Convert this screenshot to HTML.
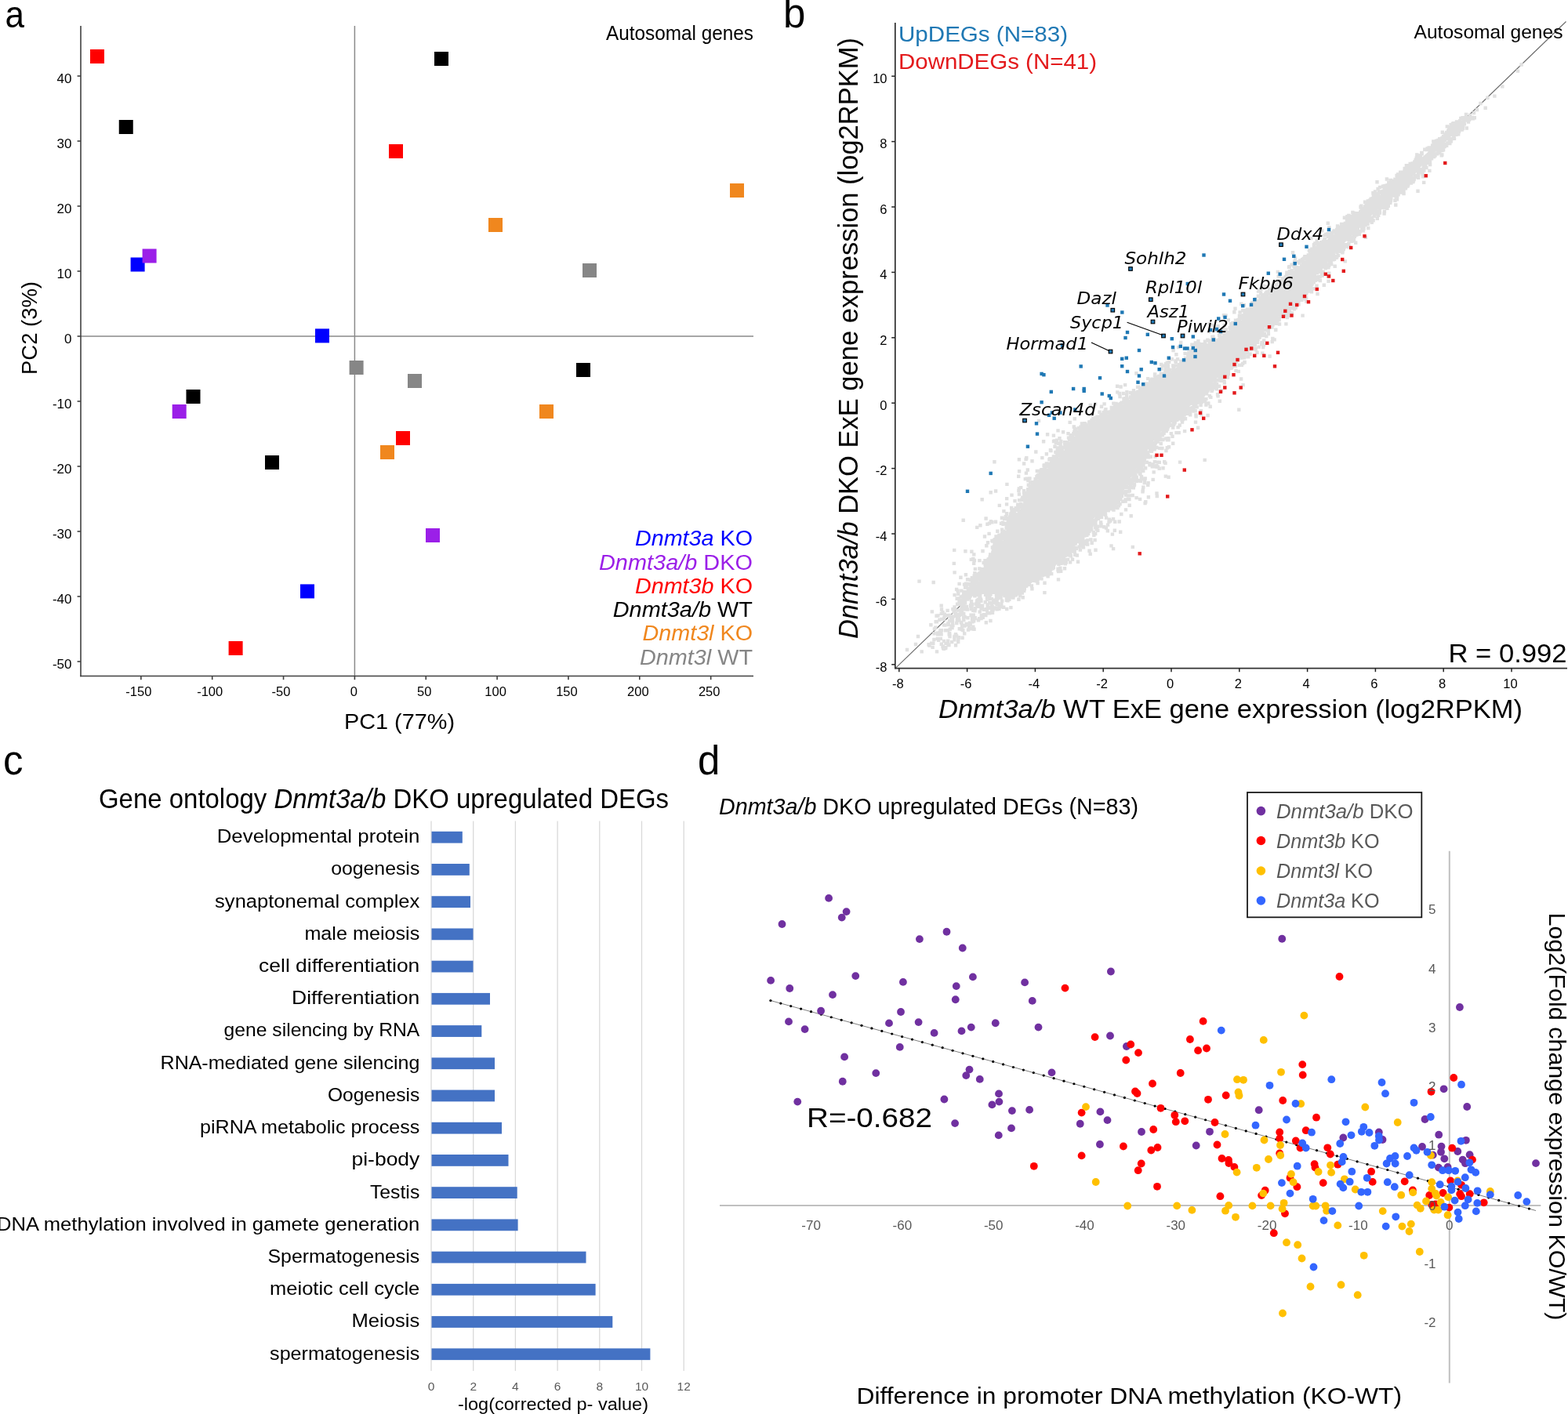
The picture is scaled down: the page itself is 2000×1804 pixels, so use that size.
<!DOCTYPE html>
<html><head><meta charset="utf-8"><title>Figure</title>
<style>html,body{margin:0;padding:0;background:#fff;} svg{display:block;}</style>
</head><body>
<svg width="2000" height="1804" viewBox="0 0 2000 1804" font-family="'Liberation Sans', Arial, Helvetica, sans-serif">
<rect width="2000" height="1804" fill="#fff"/>
<text x="6.5" y="35.3" font-size="48.5" textLength="24.5" lengthAdjust="spacingAndGlyphs">a</text>
<line x1="103" y1="429" x2="961" y2="429" stroke="#8a8a8a" stroke-width="1.5"/>
<line x1="452.4" y1="33" x2="452.4" y2="862.5" stroke="#8a8a8a" stroke-width="1.5"/>
<line x1="103" y1="33" x2="103" y2="863.3" stroke="#404040" stroke-width="1.6"/>
<line x1="102.2" y1="862.5" x2="961" y2="862.5" stroke="#404040" stroke-width="1.6"/>
<line x1="98.6" y1="844" x2="103" y2="844" stroke="#404040" stroke-width="1.6"/>
<text x="91.5" y="852.8" font-size="17" text-anchor="end">-50</text>
<line x1="98.6" y1="761" x2="103" y2="761" stroke="#404040" stroke-width="1.6"/>
<text x="91.5" y="769.8" font-size="17" text-anchor="end">-40</text>
<line x1="98.6" y1="678" x2="103" y2="678" stroke="#404040" stroke-width="1.6"/>
<text x="91.5" y="686.8" font-size="17" text-anchor="end">-30</text>
<line x1="98.6" y1="595" x2="103" y2="595" stroke="#404040" stroke-width="1.6"/>
<text x="91.5" y="603.8" font-size="17" text-anchor="end">-20</text>
<line x1="98.6" y1="512" x2="103" y2="512" stroke="#404040" stroke-width="1.6"/>
<text x="91.5" y="520.8" font-size="17" text-anchor="end">-10</text>
<line x1="98.6" y1="429" x2="103" y2="429" stroke="#404040" stroke-width="1.6"/>
<text x="91.5" y="437.8" font-size="17" text-anchor="end">0</text>
<line x1="98.6" y1="346" x2="103" y2="346" stroke="#404040" stroke-width="1.6"/>
<text x="91.5" y="354.8" font-size="17" text-anchor="end">10</text>
<line x1="98.6" y1="263" x2="103" y2="263" stroke="#404040" stroke-width="1.6"/>
<text x="91.5" y="271.8" font-size="17" text-anchor="end">20</text>
<line x1="98.6" y1="180" x2="103" y2="180" stroke="#404040" stroke-width="1.6"/>
<text x="91.5" y="188.8" font-size="17" text-anchor="end">30</text>
<line x1="98.6" y1="97" x2="103" y2="97" stroke="#404040" stroke-width="1.6"/>
<text x="91.5" y="105.8" font-size="17" text-anchor="end">40</text>
<line x1="179.85" y1="862.5" x2="179.85" y2="867.2" stroke="#404040" stroke-width="1.6"/>
<text x="176.85" y="887.8" font-size="16.5" text-anchor="middle">-150</text>
<line x1="270.7" y1="862.5" x2="270.7" y2="867.2" stroke="#404040" stroke-width="1.6"/>
<text x="267.7" y="887.8" font-size="16.5" text-anchor="middle">-100</text>
<line x1="361.55" y1="862.5" x2="361.55" y2="867.2" stroke="#404040" stroke-width="1.6"/>
<text x="358.55" y="887.8" font-size="16.5" text-anchor="middle">-50</text>
<line x1="452.4" y1="862.5" x2="452.4" y2="867.2" stroke="#404040" stroke-width="1.6"/>
<text x="451.4" y="887.8" font-size="16.5" text-anchor="middle">0</text>
<line x1="543.25" y1="862.5" x2="543.25" y2="867.2" stroke="#404040" stroke-width="1.6"/>
<text x="541.25" y="887.8" font-size="16.5" text-anchor="middle">50</text>
<line x1="634.1" y1="862.5" x2="634.1" y2="867.2" stroke="#404040" stroke-width="1.6"/>
<text x="632.1" y="887.8" font-size="16.5" text-anchor="middle">100</text>
<line x1="724.95" y1="862.5" x2="724.95" y2="867.2" stroke="#404040" stroke-width="1.6"/>
<text x="722.95" y="887.8" font-size="16.5" text-anchor="middle">150</text>
<line x1="815.8" y1="862.5" x2="815.8" y2="867.2" stroke="#404040" stroke-width="1.6"/>
<text x="813.8" y="887.8" font-size="16.5" text-anchor="middle">200</text>
<line x1="906.65" y1="862.5" x2="906.65" y2="867.2" stroke="#404040" stroke-width="1.6"/>
<text x="904.65" y="887.8" font-size="16.5" text-anchor="middle">250</text>
<text x="961" y="51" font-size="25" text-anchor="end" textLength="188" lengthAdjust="spacingAndGlyphs">Autosomal genes</text>
<rect x="115" y="63" width="18" height="18" fill="#ff0000"/>
<rect x="151.75" y="153" width="18" height="18" fill="#000"/>
<rect x="166.6" y="328.5" width="18" height="18" fill="#0000ff"/>
<rect x="181.6" y="317.5" width="18" height="18" fill="#9b1fe8"/>
<rect x="402" y="419.4" width="18" height="18" fill="#0000ff"/>
<rect x="554" y="66" width="18" height="18" fill="#000"/>
<rect x="496" y="184" width="18" height="18" fill="#ff0000"/>
<rect x="623" y="278" width="18" height="18" fill="#f0871e"/>
<rect x="743" y="336" width="18" height="18" fill="#868686"/>
<rect x="931" y="234" width="18" height="18" fill="#f0871e"/>
<rect x="445.6" y="460" width="18" height="18" fill="#868686"/>
<rect x="237.5" y="497" width="18" height="18" fill="#000"/>
<rect x="219.7" y="516" width="18" height="18" fill="#9b1fe8"/>
<rect x="338" y="581" width="18" height="18" fill="#000"/>
<rect x="383" y="745.4" width="18" height="18" fill="#0000ff"/>
<rect x="291.6" y="818" width="18" height="18" fill="#ff0000"/>
<rect x="520" y="477" width="18" height="18" fill="#868686"/>
<rect x="735" y="463" width="18" height="18" fill="#000"/>
<rect x="688" y="516" width="18" height="18" fill="#f0871e"/>
<rect x="505" y="550" width="18" height="18" fill="#ff0000"/>
<rect x="485" y="568" width="18" height="18" fill="#f0871e"/>
<rect x="543" y="674" width="18" height="18" fill="#9b1fe8"/>
<text x="960" y="696" font-size="27" text-anchor="end" fill="#0000ff" textLength="150" lengthAdjust="spacingAndGlyphs"><tspan font-style="italic">Dnmt3a</tspan> KO</text>
<text x="960" y="727" font-size="27" text-anchor="end" fill="#9b1fe8" textLength="196" lengthAdjust="spacingAndGlyphs"><tspan font-style="italic">Dnmt3a/b</tspan> DKO</text>
<text x="960" y="757" font-size="27" text-anchor="end" fill="#ff0000" textLength="150" lengthAdjust="spacingAndGlyphs"><tspan font-style="italic">Dnmt3b</tspan> KO</text>
<text x="960" y="787" font-size="27" text-anchor="end" fill="#000" textLength="178.3" lengthAdjust="spacingAndGlyphs"><tspan font-style="italic">Dnmt3a/b</tspan> WT</text>
<text x="960" y="817" font-size="27" text-anchor="end" fill="#f0871e" textLength="140.5" lengthAdjust="spacingAndGlyphs"><tspan font-style="italic">Dnmt3l</tspan> KO</text>
<text x="960" y="847.6" font-size="27" text-anchor="end" fill="#868686" textLength="144.1" lengthAdjust="spacingAndGlyphs"><tspan font-style="italic">Dnmt3l</tspan> WT</text>
<text x="439" y="930" font-size="28" textLength="141" lengthAdjust="spacingAndGlyphs">PC1 (77%)</text>
<text transform="translate(46.5,478) rotate(-90)" font-size="28" textLength="119" lengthAdjust="spacingAndGlyphs">PC2 (3%)</text>
<text x="999" y="35" font-size="51">b</text>
<line x1="1142.3" y1="852.4" x2="1997.5" y2="27.5" stroke="#666" stroke-width="1.1"/>
<g fill="#e0e0e0">
<polygon points="1870.0,150.0 1865.8,154.0 1861.6,158.0 1857.3,162.0 1853.1,166.0 1848.7,170.0 1844.2,174.0 1839.6,178.0 1835.1,182.0 1830.5,186.0 1825.9,190.0 1821.4,194.0 1816.8,198.0 1812.3,202.0 1807.8,206.0 1803.3,210.0 1798.9,214.0 1794.4,218.0 1790.0,222.0 1785.6,226.0 1781.1,230.0 1776.7,234.0 1772.2,238.0 1767.7,242.0 1763.2,246.0 1758.6,250.0 1754.1,254.0 1749.5,258.0 1744.9,262.0 1740.4,266.0 1735.8,270.0 1731.3,274.0 1726.6,278.0 1721.7,282.0 1716.8,286.0 1711.9,290.0 1707.0,294.0 1702.1,298.0 1697.2,302.0 1692.3,306.0 1687.4,310.0 1683.0,314.0 1679.0,318.0 1675.0,322.0 1671.0,326.0 1667.0,330.0 1663.0,334.0 1659.0,338.0 1655.0,342.0 1651.0,346.0 1646.9,350.0 1642.8,354.0 1638.7,358.0 1634.6,362.0 1630.4,366.0 1626.3,370.0 1622.2,374.0 1618.1,378.0 1613.6,382.0 1608.8,386.0 1604.0,390.0 1599.2,394.0 1594.4,398.0 1590.0,402.0 1586.0,406.0 1582.0,410.0 1578.0,414.0 1574.0,418.0 1568.7,422.0 1562.1,426.0 1555.5,430.0 1548.9,434.0 1542.3,438.0 1536.3,442.0 1531.0,446.0 1525.7,450.0 1520.3,454.0 1515.0,458.0 1509.7,462.0 1504.3,466.0 1499.0,470.0 1493.0,474.0 1487.0,478.0 1481.0,482.0 1475.0,486.0 1469.0,490.0 1463.0,494.0 1457.0,498.0 1451.2,502.0 1445.6,506.0 1440.0,510.0 1434.4,514.0 1428.8,518.0 1423.2,522.0 1417.3,526.0 1410.4,530.0 1403.5,534.0 1396.6,538.0 1389.8,542.0 1382.9,546.0 1376.0,550.0 1373.1,554.0 1370.1,558.0 1367.2,562.0 1364.3,566.0 1361.3,570.0 1358.4,574.0 1355.5,578.0 1352.0,582.0 1348.0,586.0 1344.0,590.0 1340.0,594.0 1336.0,598.0 1332.8,602.0 1330.4,606.0 1328.0,610.0 1325.6,614.0 1323.2,618.0 1320.8,622.0 1318.4,626.0 1316.0,630.0 1313.1,634.0 1310.1,638.0 1307.2,642.0 1304.3,646.0 1301.3,650.0 1298.4,654.0 1295.5,658.0 1293.0,662.0 1291.0,666.0 1289.0,670.0 1287.0,674.0 1285.0,678.0 1283.0,682.0 1281.0,686.0 1279.0,690.0 1277.0,694.0 1275.0,698.0 1273.0,702.0 1271.0,706.0 1269.0,710.0 1267.0,714.0 1265.0,718.0 1262.5,722.0 1259.6,726.0 1256.7,730.0 1253.7,734.0 1250.8,738.0 1247.9,742.0 1244.9,746.0 1242.0,750.0 1238.9,754.0 1235.9,758.0 1290.3,758.0 1296.1,754.0 1302.0,750.0 1307.9,746.0 1313.7,742.0 1319.6,738.0 1325.5,734.0 1331.3,730.0 1337.2,726.0 1343.1,722.0 1348.1,718.0 1352.4,714.0 1356.7,710.0 1360.9,706.0 1365.2,702.0 1369.5,698.0 1373.7,694.0 1378.0,690.0 1380.4,686.0 1382.8,682.0 1385.2,678.0 1387.6,674.0 1390.0,670.0 1392.4,666.0 1394.8,662.0 1398.3,658.0 1403.0,654.0 1407.7,650.0 1412.3,646.0 1417.0,642.0 1421.7,638.0 1426.3,634.0 1431.0,630.0 1433.3,626.0 1435.5,622.0 1437.8,618.0 1440.1,614.0 1442.3,610.0 1444.6,606.0 1446.9,602.0 1449.0,598.0 1451.0,594.0 1453.0,590.0 1455.0,586.0 1457.0,582.0 1459.5,578.0 1462.6,574.0 1465.7,570.0 1468.7,566.0 1471.8,562.0 1474.9,558.0 1477.9,554.0 1481.0,550.0 1485.8,546.0 1490.6,542.0 1495.4,538.0 1500.2,534.0 1505.0,530.0 1509.8,526.0 1514.0,522.0 1518.0,518.0 1522.0,514.0 1526.0,510.0 1530.0,506.0 1534.0,502.0 1537.9,498.0 1541.6,494.0 1545.3,490.0 1549.1,486.0 1552.8,482.0 1556.5,478.0 1560.3,474.0 1564.0,470.0 1568.3,466.0 1572.5,462.0 1576.8,458.0 1581.1,454.0 1585.3,450.0 1589.6,446.0 1593.9,442.0 1597.4,438.0 1600.2,434.0 1603.0,430.0 1605.8,426.0 1608.6,422.0 1612.6,418.0 1617.8,414.0 1623.0,410.0 1628.2,406.0 1633.4,402.0 1638.0,398.0 1642.0,394.0 1646.0,390.0 1650.0,386.0 1654.0,382.0 1657.6,378.0 1660.7,374.0 1663.8,370.0 1666.9,366.0 1670.1,362.0 1673.2,358.0 1676.3,354.0 1679.4,350.0 1682.8,346.0 1686.3,342.0 1689.9,338.0 1693.4,334.0 1697.0,330.0 1700.6,326.0 1704.1,322.0 1707.7,318.0 1711.2,314.0 1714.9,310.0 1718.8,306.0 1722.7,302.0 1726.6,298.0 1730.5,294.0 1734.4,290.0 1738.3,286.0 1742.2,282.0 1746.1,278.0 1750.3,274.0 1754.8,270.0 1759.4,266.0 1763.9,262.0 1768.5,258.0 1773.1,254.0 1777.6,250.0 1782.2,246.0 1786.7,242.0 1790.7,238.0 1794.2,234.0 1797.6,230.0 1801.1,226.0 1804.5,222.0 1807.9,218.0 1811.4,214.0 1814.8,210.0 1818.3,206.0 1822.1,202.0 1826.2,198.0 1830.3,194.0 1834.4,190.0 1838.5,186.0 1842.6,182.0 1846.7,178.0 1850.8,174.0 1854.9,170.0 1858.7,166.0 1862.0,162.0 1865.3,158.0 1868.7,154.0 1872.0,150.0"/>
<path d="M1863.1 148.9h4.4v4.4h-4.4zM1860.2 151.9h4.4v4.4h-4.4zM1856.8 154.1h4.4v4.4h-4.4zM1855.8 154.2h4.4v4.4h-4.4zM1856.1 154.3h4.4v4.4h-4.4zM1857.4 154.5h4.4v4.4h-4.4zM1850.6 156.1h4.4v4.4h-4.4zM1854.9 156.5h4.4v4.4h-4.4zM1843.6 159.2h4.4v4.4h-4.4zM1848.7 161.5h4.4v4.4h-4.4zM1838.9 171.7h4.4v4.4h-4.4zM1832.1 176.8h4.4v4.4h-4.4zM1832.4 177.2h4.4v4.4h-4.4zM1826.1 178.2h4.4v4.4h-4.4zM1828.3 178.7h4.4v4.4h-4.4zM1826.6 181.3h4.4v4.4h-4.4zM1825.7 183.3h4.4v4.4h-4.4zM1824.9 183.4h4.4v4.4h-4.4zM1820.5 186.3h4.4v4.4h-4.4zM1818.4 187.3h4.4v4.4h-4.4zM1818.4 188.8h4.4v4.4h-4.4zM1811.1 192.7h4.4v4.4h-4.4zM1811.5 193.3h4.4v4.4h-4.4zM1805.1 195.2h4.4v4.4h-4.4zM1807.6 198.3h4.4v4.4h-4.4zM1797.8 207.7h4.4v4.4h-4.4zM1791.7 209.0h4.4v4.4h-4.4zM1794.0 209.4h4.4v4.4h-4.4zM1792.3 209.5h4.4v4.4h-4.4zM1789.5 212.8h4.4v4.4h-4.4zM1785.9 217.6h4.4v4.4h-4.4zM1780.9 220.3h4.4v4.4h-4.4zM1779.9 222.2h4.4v4.4h-4.4zM1766.7 226.3h4.4v4.4h-4.4zM1771.9 227.7h4.4v4.4h-4.4zM1771.3 227.8h4.4v4.4h-4.4zM1754.3 230.1h4.4v4.4h-4.4zM1767.9 233.9h4.4v4.4h-4.4zM1763.7 234.9h4.4v4.4h-4.4zM1765.6 235.0h4.4v4.4h-4.4zM1767.0 235.3h4.4v4.4h-4.4zM1761.7 235.5h4.4v4.4h-4.4zM1765.9 235.8h4.4v4.4h-4.4zM1757.9 236.8h4.4v4.4h-4.4zM1763.3 237.0h4.4v4.4h-4.4zM1755.4 238.7h4.4v4.4h-4.4zM1751.8 242.3h4.4v4.4h-4.4zM1756.7 243.0h4.4v4.4h-4.4zM1749.2 244.0h4.4v4.4h-4.4zM1749.6 250.6h4.4v4.4h-4.4zM1748.7 251.0h4.4v4.4h-4.4zM1746.5 251.5h4.4v4.4h-4.4zM1745.9 253.3h4.4v4.4h-4.4zM1744.9 253.4h4.4v4.4h-4.4zM1742.6 254.3h4.4v4.4h-4.4zM1734.1 260.5h4.4v4.4h-4.4zM1733.3 262.0h4.4v4.4h-4.4zM1734.5 264.2h4.4v4.4h-4.4zM1723.2 268.8h4.4v4.4h-4.4zM1718.1 272.8h4.4v4.4h-4.4zM1721.7 273.8h4.4v4.4h-4.4zM1719.3 274.0h4.4v4.4h-4.4zM1723.1 274.1h4.4v4.4h-4.4zM1722.1 274.6h4.4v4.4h-4.4zM1721.7 275.4h4.4v4.4h-4.4zM1721.2 275.4h4.4v4.4h-4.4zM1719.7 275.6h4.4v4.4h-4.4zM1712.7 275.6h4.4v4.4h-4.4zM1718.6 277.4h4.4v4.4h-4.4zM1716.8 278.0h4.4v4.4h-4.4zM1717.0 278.9h4.4v4.4h-4.4zM1691.6 282.5h4.4v4.4h-4.4zM1708.9 283.7h4.4v4.4h-4.4zM1711.1 283.8h4.4v4.4h-4.4zM1709.2 284.6h4.4v4.4h-4.4zM1705.8 287.9h4.4v4.4h-4.4zM1693.2 288.0h4.4v4.4h-4.4zM1704.1 289.4h4.4v4.4h-4.4zM1702.9 290.8h4.4v4.4h-4.4zM1684.2 292.2h4.4v4.4h-4.4zM1691.5 295.9h4.4v4.4h-4.4zM1694.1 296.4h4.4v4.4h-4.4zM1689.1 296.8h4.4v4.4h-4.4zM1687.2 298.2h4.4v4.4h-4.4zM1692.0 298.9h4.4v4.4h-4.4zM1670.1 301.9h4.4v4.4h-4.4zM1677.5 305.3h4.4v4.4h-4.4zM1675.2 308.3h4.4v4.4h-4.4zM1677.6 308.7h4.4v4.4h-4.4zM1680.0 309.5h4.4v4.4h-4.4zM1678.5 309.5h4.4v4.4h-4.4zM1673.8 310.0h4.4v4.4h-4.4zM1671.2 315.4h4.4v4.4h-4.4zM1646.8 320.0h4.4v4.4h-4.4zM1662.2 325.0h4.4v4.4h-4.4zM1662.8 325.4h4.4v4.4h-4.4zM1662.6 325.7h4.4v4.4h-4.4zM1649.9 327.3h4.4v4.4h-4.4zM1655.9 330.2h4.4v4.4h-4.4zM1648.9 331.8h4.4v4.4h-4.4zM1651.7 331.9h4.4v4.4h-4.4zM1645.4 335.6h4.4v4.4h-4.4zM1648.2 337.7h4.4v4.4h-4.4zM1642.7 338.0h4.4v4.4h-4.4zM1641.8 338.6h4.4v4.4h-4.4zM1642.7 343.9h4.4v4.4h-4.4zM1627.6 344.7h4.4v4.4h-4.4zM1641.9 346.5h4.4v4.4h-4.4zM1641.9 346.7h4.4v4.4h-4.4zM1629.4 350.1h4.4v4.4h-4.4zM1628.5 350.3h4.4v4.4h-4.4zM1626.7 355.9h4.4v4.4h-4.4zM1627.8 356.5h4.4v4.4h-4.4zM1632.5 356.7h4.4v4.4h-4.4zM1620.9 361.5h4.4v4.4h-4.4zM1609.1 362.5h4.4v4.4h-4.4zM1612.5 363.3h4.4v4.4h-4.4zM1621.8 365.6h4.4v4.4h-4.4zM1620.7 366.0h4.4v4.4h-4.4zM1616.8 366.4h4.4v4.4h-4.4zM1618.6 366.8h4.4v4.4h-4.4zM1606.1 367.0h4.4v4.4h-4.4zM1617.3 367.5h4.4v4.4h-4.4zM1604.6 368.7h4.4v4.4h-4.4zM1602.8 369.4h4.4v4.4h-4.4zM1613.4 370.3h4.4v4.4h-4.4zM1617.4 371.3h4.4v4.4h-4.4zM1615.4 372.0h4.4v4.4h-4.4zM1605.9 372.1h4.4v4.4h-4.4zM1612.2 372.3h4.4v4.4h-4.4zM1609.2 374.0h4.4v4.4h-4.4zM1609.3 374.5h4.4v4.4h-4.4zM1602.7 375.5h4.4v4.4h-4.4zM1607.4 375.7h4.4v4.4h-4.4zM1610.4 376.0h4.4v4.4h-4.4zM1605.8 377.9h4.4v4.4h-4.4zM1599.5 378.9h4.4v4.4h-4.4zM1601.6 382.0h4.4v4.4h-4.4zM1599.3 383.2h4.4v4.4h-4.4zM1594.9 384.1h4.4v4.4h-4.4zM1596.9 384.8h4.4v4.4h-4.4zM1581.1 385.6h4.4v4.4h-4.4zM1584.6 387.1h4.4v4.4h-4.4zM1593.3 390.6h4.4v4.4h-4.4zM1573.3 391.6h4.4v4.4h-4.4zM1590.5 393.8h4.4v4.4h-4.4zM1587.1 393.9h4.4v4.4h-4.4zM1589.3 394.0h4.4v4.4h-4.4zM1583.0 394.1h4.4v4.4h-4.4zM1572.1 396.0h4.4v4.4h-4.4zM1579.4 396.2h4.4v4.4h-4.4zM1586.1 397.4h4.4v4.4h-4.4zM1558.7 400.0h4.4v4.4h-4.4zM1561.3 400.2h4.4v4.4h-4.4zM1578.7 400.8h4.4v4.4h-4.4zM1564.6 406.2h4.4v4.4h-4.4zM1573.8 406.4h4.4v4.4h-4.4zM1574.2 407.2h4.4v4.4h-4.4zM1574.2 407.5h4.4v4.4h-4.4zM1575.5 408.9h4.4v4.4h-4.4zM1570.2 409.8h4.4v4.4h-4.4zM1571.6 409.9h4.4v4.4h-4.4zM1568.0 411.0h4.4v4.4h-4.4zM1540.4 411.0h4.4v4.4h-4.4zM1543.5 412.8h4.4v4.4h-4.4zM1569.2 412.9h4.4v4.4h-4.4zM1559.6 412.9h4.4v4.4h-4.4zM1570.2 413.3h4.4v4.4h-4.4zM1551.3 413.9h4.4v4.4h-4.4zM1566.4 415.8h4.4v4.4h-4.4zM1548.4 416.0h4.4v4.4h-4.4zM1557.9 416.9h4.4v4.4h-4.4zM1567.1 417.0h4.4v4.4h-4.4zM1561.5 418.3h4.4v4.4h-4.4zM1543.2 418.4h4.4v4.4h-4.4zM1550.8 419.5h4.4v4.4h-4.4zM1548.0 419.6h4.4v4.4h-4.4zM1547.5 419.7h4.4v4.4h-4.4zM1559.2 420.3h4.4v4.4h-4.4zM1539.7 421.2h4.4v4.4h-4.4zM1559.5 421.5h4.4v4.4h-4.4zM1557.0 422.4h4.4v4.4h-4.4zM1557.6 422.5h4.4v4.4h-4.4zM1557.1 422.5h4.4v4.4h-4.4zM1555.3 422.9h4.4v4.4h-4.4zM1552.9 424.5h4.4v4.4h-4.4zM1552.9 425.2h4.4v4.4h-4.4zM1553.6 425.7h4.4v4.4h-4.4zM1553.1 426.0h4.4v4.4h-4.4zM1544.2 427.4h4.4v4.4h-4.4zM1545.2 427.6h4.4v4.4h-4.4zM1544.8 430.5h4.4v4.4h-4.4zM1538.0 432.3h4.4v4.4h-4.4zM1526.2 433.1h4.4v4.4h-4.4zM1534.7 433.6h4.4v4.4h-4.4zM1504.0 434.8h4.4v4.4h-4.4zM1522.6 435.2h4.4v4.4h-4.4zM1527.2 436.5h4.4v4.4h-4.4zM1531.3 437.0h4.4v4.4h-4.4zM1533.8 437.1h4.4v4.4h-4.4zM1523.1 437.2h4.4v4.4h-4.4zM1532.8 437.5h4.4v4.4h-4.4zM1518.2 437.6h4.4v4.4h-4.4zM1521.6 439.7h4.4v4.4h-4.4zM1528.4 440.0h4.4v4.4h-4.4zM1525.0 440.4h4.4v4.4h-4.4zM1525.0 440.5h4.4v4.4h-4.4zM1501.0 440.9h4.4v4.4h-4.4zM1517.8 444.5h4.4v4.4h-4.4zM1494.4 444.8h4.4v4.4h-4.4zM1520.0 445.2h4.4v4.4h-4.4zM1519.7 445.2h4.4v4.4h-4.4zM1516.8 445.8h4.4v4.4h-4.4zM1516.5 446.1h4.4v4.4h-4.4zM1520.0 446.1h4.4v4.4h-4.4zM1518.1 446.2h4.4v4.4h-4.4zM1522.4 446.2h4.4v4.4h-4.4zM1519.7 446.6h4.4v4.4h-4.4zM1514.1 447.5h4.4v4.4h-4.4zM1509.4 448.8h4.4v4.4h-4.4zM1498.2 450.1h4.4v4.4h-4.4zM1513.1 450.6h4.4v4.4h-4.4zM1509.7 454.8h4.4v4.4h-4.4zM1499.9 456.0h4.4v4.4h-4.4zM1492.6 456.1h4.4v4.4h-4.4zM1497.2 458.3h4.4v4.4h-4.4zM1489.0 459.6h4.4v4.4h-4.4zM1497.6 459.7h4.4v4.4h-4.4zM1486.6 460.4h4.4v4.4h-4.4zM1484.8 462.0h4.4v4.4h-4.4zM1479.0 462.8h4.4v4.4h-4.4zM1487.5 463.9h4.4v4.4h-4.4zM1498.3 464.2h4.4v4.4h-4.4zM1494.1 464.3h4.4v4.4h-4.4zM1480.8 464.4h4.4v4.4h-4.4zM1487.6 465.2h4.4v4.4h-4.4zM1484.8 466.2h4.4v4.4h-4.4zM1495.1 466.8h4.4v4.4h-4.4zM1479.4 468.4h4.4v4.4h-4.4zM1484.4 469.0h4.4v4.4h-4.4zM1489.7 470.1h4.4v4.4h-4.4zM1485.6 471.4h4.4v4.4h-4.4zM1485.3 471.4h4.4v4.4h-4.4zM1484.2 472.7h4.4v4.4h-4.4zM1447.2 474.0h4.4v4.4h-4.4zM1478.7 474.6h4.4v4.4h-4.4zM1471.0 475.2h4.4v4.4h-4.4zM1470.8 476.6h4.4v4.4h-4.4zM1478.3 477.6h4.4v4.4h-4.4zM1475.9 477.7h4.4v4.4h-4.4zM1473.3 479.0h4.4v4.4h-4.4zM1475.7 479.8h4.4v4.4h-4.4zM1472.5 479.9h4.4v4.4h-4.4zM1462.0 480.9h4.4v4.4h-4.4zM1469.0 482.0h4.4v4.4h-4.4zM1465.0 482.6h4.4v4.4h-4.4zM1469.3 483.2h4.4v4.4h-4.4zM1465.2 485.3h4.4v4.4h-4.4zM1432.9 488.9h4.4v4.4h-4.4zM1455.6 488.9h4.4v4.4h-4.4zM1422.9 490.5h4.4v4.4h-4.4zM1455.6 491.0h4.4v4.4h-4.4zM1427.4 491.3h4.4v4.4h-4.4zM1448.9 491.5h4.4v4.4h-4.4zM1450.1 491.6h4.4v4.4h-4.4zM1452.3 494.4h4.4v4.4h-4.4zM1443.8 496.0h4.4v4.4h-4.4zM1435.2 498.0h4.4v4.4h-4.4zM1423.1 498.2h4.4v4.4h-4.4zM1447.1 498.8h4.4v4.4h-4.4zM1439.9 498.8h4.4v4.4h-4.4zM1442.6 499.4h4.4v4.4h-4.4zM1441.8 499.5h4.4v4.4h-4.4zM1425.6 499.8h4.4v4.4h-4.4zM1430.5 499.8h4.4v4.4h-4.4zM1442.2 501.5h4.4v4.4h-4.4zM1426.3 503.9h4.4v4.4h-4.4zM1433.5 505.9h4.4v4.4h-4.4zM1431.2 506.4h4.4v4.4h-4.4zM1418.1 512.4h4.4v4.4h-4.4zM1421.4 512.8h4.4v4.4h-4.4zM1426.9 513.1h4.4v4.4h-4.4zM1406.4 513.2h4.4v4.4h-4.4zM1395.0 513.4h4.4v4.4h-4.4zM1422.9 513.7h4.4v4.4h-4.4zM1423.2 514.3h4.4v4.4h-4.4zM1388.6 514.7h4.4v4.4h-4.4zM1402.8 516.6h4.4v4.4h-4.4zM1392.3 517.5h4.4v4.4h-4.4zM1408.2 520.0h4.4v4.4h-4.4zM1415.6 521.1h4.4v4.4h-4.4zM1407.4 522.3h4.4v4.4h-4.4zM1400.2 523.5h4.4v4.4h-4.4zM1411.5 523.8h4.4v4.4h-4.4zM1406.6 526.0h4.4v4.4h-4.4zM1402.2 526.6h4.4v4.4h-4.4zM1390.4 526.9h4.4v4.4h-4.4zM1397.5 530.1h4.4v4.4h-4.4zM1395.2 531.0h4.4v4.4h-4.4zM1392.2 531.7h4.4v4.4h-4.4zM1396.0 531.9h4.4v4.4h-4.4zM1368.6 532.1h4.4v4.4h-4.4zM1393.7 532.7h4.4v4.4h-4.4zM1322.8 534.7h4.4v4.4h-4.4zM1390.6 535.2h4.4v4.4h-4.4zM1390.9 535.4h4.4v4.4h-4.4zM1390.3 535.8h4.4v4.4h-4.4zM1387.4 536.0h4.4v4.4h-4.4zM1362.5 536.7h4.4v4.4h-4.4zM1381.1 537.9h4.4v4.4h-4.4zM1377.7 538.3h4.4v4.4h-4.4zM1381.2 538.7h4.4v4.4h-4.4zM1382.2 538.8h4.4v4.4h-4.4zM1379.6 541.7h4.4v4.4h-4.4zM1367.6 542.3h4.4v4.4h-4.4zM1374.3 544.0h4.4v4.4h-4.4zM1373.3 544.2h4.4v4.4h-4.4zM1368.6 544.7h4.4v4.4h-4.4zM1347.3 547.2h4.4v4.4h-4.4zM1369.7 548.9h4.4v4.4h-4.4zM1353.9 549.0h4.4v4.4h-4.4zM1360.3 550.9h4.4v4.4h-4.4zM1368.0 551.6h4.4v4.4h-4.4zM1333.9 552.0h4.4v4.4h-4.4zM1341.7 553.4h4.4v4.4h-4.4zM1360.8 556.4h4.4v4.4h-4.4zM1362.3 556.5h4.4v4.4h-4.4zM1349.3 557.1h4.4v4.4h-4.4zM1345.9 559.4h4.4v4.4h-4.4zM1343.2 560.3h4.4v4.4h-4.4zM1351.1 560.8h4.4v4.4h-4.4zM1341.8 560.8h4.4v4.4h-4.4zM1328.9 561.0h4.4v4.4h-4.4zM1355.9 561.9h4.4v4.4h-4.4zM1356.7 562.0h4.4v4.4h-4.4zM1344.6 562.8h4.4v4.4h-4.4zM1358.8 562.9h4.4v4.4h-4.4zM1348.2 563.5h4.4v4.4h-4.4zM1355.8 563.9h4.4v4.4h-4.4zM1358.3 564.7h4.4v4.4h-4.4zM1350.4 565.0h4.4v4.4h-4.4zM1343.3 567.5h4.4v4.4h-4.4zM1346.9 569.3h4.4v4.4h-4.4zM1351.3 569.5h4.4v4.4h-4.4zM1337.7 572.1h4.4v4.4h-4.4zM1352.5 572.4h4.4v4.4h-4.4zM1338.3 572.9h4.4v4.4h-4.4zM1348.3 573.4h4.4v4.4h-4.4zM1319.1 574.3h4.4v4.4h-4.4zM1350.8 574.5h4.4v4.4h-4.4zM1344.2 574.8h4.4v4.4h-4.4zM1347.6 575.7h4.4v4.4h-4.4zM1332.7 577.0h4.4v4.4h-4.4zM1346.1 577.5h4.4v4.4h-4.4zM1341.7 580.3h4.4v4.4h-4.4zM1341.7 581.7h4.4v4.4h-4.4zM1327.1 581.9h4.4v4.4h-4.4zM1307.1 582.1h4.4v4.4h-4.4zM1341.4 582.7h4.4v4.4h-4.4zM1337.1 582.9h4.4v4.4h-4.4zM1306.4 583.7h4.4v4.4h-4.4zM1336.6 583.9h4.4v4.4h-4.4zM1297.7 584.1h4.4v4.4h-4.4zM1341.8 584.2h4.4v4.4h-4.4zM1336.2 584.2h4.4v4.4h-4.4zM1314.3 586.0h4.4v4.4h-4.4zM1266.2 587.1h4.4v4.4h-4.4zM1332.6 589.2h4.4v4.4h-4.4zM1303.9 589.3h4.4v4.4h-4.4zM1335.8 590.4h4.4v4.4h-4.4zM1329.6 591.2h4.4v4.4h-4.4zM1330.1 591.6h4.4v4.4h-4.4zM1334.8 591.7h4.4v4.4h-4.4zM1329.4 592.0h4.4v4.4h-4.4zM1330.6 594.4h4.4v4.4h-4.4zM1326.8 597.0h4.4v4.4h-4.4zM1308.6 597.3h4.4v4.4h-4.4zM1321.5 598.7h4.4v4.4h-4.4zM1320.6 598.7h4.4v4.4h-4.4zM1297.9 599.1h4.4v4.4h-4.4zM1322.5 599.2h4.4v4.4h-4.4zM1326.5 601.0h4.4v4.4h-4.4zM1306.7 601.4h4.4v4.4h-4.4zM1325.5 602.5h4.4v4.4h-4.4zM1325.2 602.5h4.4v4.4h-4.4zM1321.3 604.5h4.4v4.4h-4.4zM1297.0 605.6h4.4v4.4h-4.4zM1320.2 605.9h4.4v4.4h-4.4zM1311.2 608.3h4.4v4.4h-4.4zM1307.5 608.6h4.4v4.4h-4.4zM1318.4 608.9h4.4v4.4h-4.4zM1305.6 608.9h4.4v4.4h-4.4zM1309.2 610.8h4.4v4.4h-4.4zM1319.4 613.0h4.4v4.4h-4.4zM1312.0 613.3h4.4v4.4h-4.4zM1282.2 615.7h4.4v4.4h-4.4zM1314.5 616.1h4.4v4.4h-4.4zM1309.6 616.6h4.4v4.4h-4.4zM1314.0 618.6h4.4v4.4h-4.4zM1300.0 619.9h4.4v4.4h-4.4zM1297.6 621.3h4.4v4.4h-4.4zM1309.7 622.0h4.4v4.4h-4.4zM1308.9 622.3h4.4v4.4h-4.4zM1312.4 623.5h4.4v4.4h-4.4zM1297.2 623.7h4.4v4.4h-4.4zM1312.4 623.9h4.4v4.4h-4.4zM1303.9 624.0h4.4v4.4h-4.4zM1267.9 624.3h4.4v4.4h-4.4zM1261.5 626.0h4.4v4.4h-4.4zM1310.7 626.2h4.4v4.4h-4.4zM1303.8 626.3h4.4v4.4h-4.4zM1304.3 627.3h4.4v4.4h-4.4zM1304.8 627.5h4.4v4.4h-4.4zM1297.7 628.3h4.4v4.4h-4.4zM1288.3 629.4h4.4v4.4h-4.4zM1307.5 630.3h4.4v4.4h-4.4zM1304.0 631.7h4.4v4.4h-4.4zM1302.1 632.4h4.4v4.4h-4.4zM1304.1 633.5h4.4v4.4h-4.4zM1303.3 633.7h4.4v4.4h-4.4zM1282.0 633.9h4.4v4.4h-4.4zM1301.4 634.6h4.4v4.4h-4.4zM1250.5 635.0h4.4v4.4h-4.4zM1302.2 635.5h4.4v4.4h-4.4zM1292.3 636.9h4.4v4.4h-4.4zM1300.2 640.7h4.4v4.4h-4.4zM1281.9 641.2h4.4v4.4h-4.4zM1272.6 642.7h4.4v4.4h-4.4zM1296.0 642.7h4.4v4.4h-4.4zM1297.4 642.8h4.4v4.4h-4.4zM1287.9 645.8h4.4v4.4h-4.4zM1290.9 648.0h4.4v4.4h-4.4zM1288.3 649.6h4.4v4.4h-4.4zM1278.2 649.9h4.4v4.4h-4.4zM1291.6 652.3h4.4v4.4h-4.4zM1281.8 653.0h4.4v4.4h-4.4zM1287.2 653.2h4.4v4.4h-4.4zM1289.6 653.3h4.4v4.4h-4.4zM1282.0 653.6h4.4v4.4h-4.4zM1288.8 654.5h4.4v4.4h-4.4zM1287.0 654.5h4.4v4.4h-4.4zM1288.3 655.4h4.4v4.4h-4.4zM1287.9 655.7h4.4v4.4h-4.4zM1280.8 657.0h4.4v4.4h-4.4zM1288.2 657.1h4.4v4.4h-4.4zM1280.4 657.5h4.4v4.4h-4.4zM1287.5 658.4h4.4v4.4h-4.4zM1275.7 658.5h4.4v4.4h-4.4zM1284.7 659.0h4.4v4.4h-4.4zM1255.4 659.3h4.4v4.4h-4.4zM1279.0 659.6h4.4v4.4h-4.4zM1282.0 659.9h4.4v4.4h-4.4zM1226.5 661.6h4.4v4.4h-4.4zM1284.4 662.0h4.4v4.4h-4.4zM1283.8 663.1h4.4v4.4h-4.4zM1261.7 663.1h4.4v4.4h-4.4zM1267.8 663.6h4.4v4.4h-4.4zM1263.1 664.0h4.4v4.4h-4.4zM1283.6 664.5h4.4v4.4h-4.4zM1277.0 664.5h4.4v4.4h-4.4zM1259.8 665.4h4.4v4.4h-4.4zM1274.8 665.5h4.4v4.4h-4.4zM1277.4 665.9h4.4v4.4h-4.4zM1281.2 666.0h4.4v4.4h-4.4zM1257.2 666.6h4.4v4.4h-4.4zM1277.3 666.7h4.4v4.4h-4.4zM1248.2 668.1h4.4v4.4h-4.4zM1282.2 668.3h4.4v4.4h-4.4zM1244.0 670.7h4.4v4.4h-4.4zM1281.5 671.3h4.4v4.4h-4.4zM1275.9 673.5h4.4v4.4h-4.4zM1270.1 675.5h4.4v4.4h-4.4zM1277.4 676.9h4.4v4.4h-4.4zM1276.0 678.3h4.4v4.4h-4.4zM1259.4 678.7h4.4v4.4h-4.4zM1275.5 680.2h4.4v4.4h-4.4zM1272.3 680.4h4.4v4.4h-4.4zM1272.3 681.1h4.4v4.4h-4.4zM1274.3 681.2h4.4v4.4h-4.4zM1253.8 682.3h4.4v4.4h-4.4zM1268.3 682.3h4.4v4.4h-4.4zM1275.5 683.6h4.4v4.4h-4.4zM1273.9 685.1h4.4v4.4h-4.4zM1266.8 685.9h4.4v4.4h-4.4zM1270.7 686.8h4.4v4.4h-4.4zM1265.4 687.2h4.4v4.4h-4.4zM1263.2 687.7h4.4v4.4h-4.4zM1267.9 688.2h4.4v4.4h-4.4zM1264.1 688.3h4.4v4.4h-4.4zM1270.6 688.8h4.4v4.4h-4.4zM1257.8 690.1h4.4v4.4h-4.4zM1270.4 690.6h4.4v4.4h-4.4zM1271.0 691.2h4.4v4.4h-4.4zM1266.5 691.3h4.4v4.4h-4.4zM1266.3 691.4h4.4v4.4h-4.4zM1271.3 692.0h4.4v4.4h-4.4zM1270.4 692.9h4.4v4.4h-4.4zM1256.1 694.1h4.4v4.4h-4.4zM1269.8 694.7h4.4v4.4h-4.4zM1265.5 695.3h4.4v4.4h-4.4zM1267.3 698.0h4.4v4.4h-4.4zM1215.0 699.7h4.4v4.4h-4.4zM1251.3 700.8h4.4v4.4h-4.4zM1229.2 701.0h4.4v4.4h-4.4zM1237.2 701.6h4.4v4.4h-4.4zM1264.1 703.8h4.4v4.4h-4.4zM1240.1 705.2h4.4v4.4h-4.4zM1261.0 705.3h4.4v4.4h-4.4zM1262.8 706.5h4.4v4.4h-4.4zM1260.4 708.6h4.4v4.4h-4.4zM1261.2 710.1h4.4v4.4h-4.4zM1239.1 710.7h4.4v4.4h-4.4zM1259.4 710.9h4.4v4.4h-4.4zM1258.4 711.6h4.4v4.4h-4.4zM1260.1 711.6h4.4v4.4h-4.4zM1236.6 711.7h4.4v4.4h-4.4zM1240.7 712.8h4.4v4.4h-4.4zM1247.2 712.9h4.4v4.4h-4.4zM1254.3 713.0h4.4v4.4h-4.4zM1256.7 714.0h4.4v4.4h-4.4zM1252.5 715.8h4.4v4.4h-4.4zM1240.0 716.6h4.4v4.4h-4.4zM1214.6 716.7h4.4v4.4h-4.4zM1254.4 717.6h4.4v4.4h-4.4zM1255.1 719.1h4.4v4.4h-4.4zM1247.2 723.3h4.4v4.4h-4.4zM1241.7 723.7h4.4v4.4h-4.4zM1252.3 724.3h4.4v4.4h-4.4zM1252.7 725.6h4.4v4.4h-4.4zM1249.4 727.2h4.4v4.4h-4.4zM1215.4 728.2h4.4v4.4h-4.4zM1241.2 729.0h4.4v4.4h-4.4zM1250.3 729.4h4.4v4.4h-4.4zM1248.9 729.4h4.4v4.4h-4.4zM1244.7 730.4h4.4v4.4h-4.4zM1229.7 731.1h4.4v4.4h-4.4zM1246.8 731.2h4.4v4.4h-4.4zM1248.0 732.3h4.4v4.4h-4.4zM1244.5 732.3h4.4v4.4h-4.4zM1244.4 732.4h4.4v4.4h-4.4zM1240.5 732.6h4.4v4.4h-4.4zM1245.3 733.5h4.4v4.4h-4.4zM1241.1 734.5h4.4v4.4h-4.4zM1223.2 734.6h4.4v4.4h-4.4zM1244.9 734.9h4.4v4.4h-4.4zM1237.6 735.0h4.4v4.4h-4.4zM1231.9 737.1h4.4v4.4h-4.4zM1241.7 737.6h4.4v4.4h-4.4zM1235.6 737.6h4.4v4.4h-4.4zM1240.1 738.5h4.4v4.4h-4.4zM1238.0 739.5h4.4v4.4h-4.4zM1229.9 742.4h4.4v4.4h-4.4zM1221.4 742.7h4.4v4.4h-4.4zM1234.3 742.7h4.4v4.4h-4.4zM1237.9 743.3h4.4v4.4h-4.4zM1227.8 743.4h4.4v4.4h-4.4zM1233.5 743.4h4.4v4.4h-4.4zM1236.6 746.4h4.4v4.4h-4.4zM1230.1 746.6h4.4v4.4h-4.4zM1228.9 747.4h4.4v4.4h-4.4zM1234.2 749.2h4.4v4.4h-4.4zM1232.6 749.6h4.4v4.4h-4.4zM1217.9 749.7h4.4v4.4h-4.4zM1224.1 751.4h4.4v4.4h-4.4zM1219.4 751.4h4.4v4.4h-4.4zM1228.0 752.9h4.4v4.4h-4.4zM1227.0 754.5h4.4v4.4h-4.4zM1230.6 754.8h4.4v4.4h-4.4zM1230.9 755.1h4.4v4.4h-4.4zM1220.1 755.5h4.4v4.4h-4.4zM1215.4 756.9h4.4v4.4h-4.4zM1226.3 758.4h4.4v4.4h-4.4zM1223.6 759.3h4.4v4.4h-4.4zM1221.0 761.2h4.4v4.4h-4.4zM1218.5 761.5h4.4v4.4h-4.4zM1221.3 765.6h4.4v4.4h-4.4zM1221.0 768.3h4.4v4.4h-4.4zM1218.9 768.6h4.4v4.4h-4.4zM1198.5 770.4h4.4v4.4h-4.4zM1215.3 772.2h4.4v4.4h-4.4zM1213.2 774.9h4.4v4.4h-4.4zM1198.8 775.3h4.4v4.4h-4.4zM1206.4 776.7h4.4v4.4h-4.4zM1186.6 778.2h4.4v4.4h-4.4zM1200.3 779.0h4.4v4.4h-4.4zM1198.6 780.7h4.4v4.4h-4.4zM1202.7 781.5h4.4v4.4h-4.4zM1208.3 782.7h4.4v4.4h-4.4zM1204.0 783.1h4.4v4.4h-4.4zM1194.2 783.2h4.4v4.4h-4.4zM1210.3 783.4h4.4v4.4h-4.4zM1192.4 783.6h4.4v4.4h-4.4zM1208.9 784.2h4.4v4.4h-4.4zM1209.7 784.2h4.4v4.4h-4.4zM1202.2 785.9h4.4v4.4h-4.4zM1199.0 787.7h4.4v4.4h-4.4zM1201.9 787.8h4.4v4.4h-4.4zM1196.2 788.5h4.4v4.4h-4.4zM1191.5 791.1h4.4v4.4h-4.4zM1192.7 791.2h4.4v4.4h-4.4zM1185.2 795.0h4.4v4.4h-4.4zM1201.9 795.2h4.4v4.4h-4.4zM1203.0 795.4h4.4v4.4h-4.4zM1191.1 798.5h4.4v4.4h-4.4zM1189.7 800.2h4.4v4.4h-4.4zM1197.3 801.9h4.4v4.4h-4.4zM1198.6 802.1h4.4v4.4h-4.4zM1196.3 804.7h4.4v4.4h-4.4zM1194.0 805.4h4.4v4.4h-4.4zM1195.5 805.5h4.4v4.4h-4.4zM1189.4 806.1h4.4v4.4h-4.4zM1194.0 807.0h4.4v4.4h-4.4zM1189.2 813.8h4.4v4.4h-4.4zM1185.9 818.4h4.4v4.4h-4.4zM1188.1 818.5h4.4v4.4h-4.4zM1182.4 820.1h4.4v4.4h-4.4zM1183.3 821.3h4.4v4.4h-4.4zM1187.4 823.7h4.4v4.4h-4.4zM1878.6 148.1h4.4v4.4h-4.4zM1872.1 148.6h4.4v4.4h-4.4zM1876.7 149.2h4.4v4.4h-4.4zM1862.6 160.1h4.4v4.4h-4.4zM1863.6 161.9h4.4v4.4h-4.4zM1858.1 166.2h4.4v4.4h-4.4zM1857.1 168.1h4.4v4.4h-4.4zM1851.8 172.8h4.4v4.4h-4.4zM1844.2 180.3h4.4v4.4h-4.4zM1847.1 180.9h4.4v4.4h-4.4zM1840.9 182.7h4.4v4.4h-4.4zM1838.2 185.2h4.4v4.4h-4.4zM1838.9 189.1h4.4v4.4h-4.4zM1834.1 192.9h4.4v4.4h-4.4zM1831.0 194.0h4.4v4.4h-4.4zM1837.1 195.2h4.4v4.4h-4.4zM1836.8 195.4h4.4v4.4h-4.4zM1828.3 195.5h4.4v4.4h-4.4zM1836.5 196.2h4.4v4.4h-4.4zM1826.9 197.9h4.4v4.4h-4.4zM1820.9 203.1h4.4v4.4h-4.4zM1821.8 204.5h4.4v4.4h-4.4zM1821.9 207.8h4.4v4.4h-4.4zM1815.5 210.2h4.4v4.4h-4.4zM1813.5 211.2h4.4v4.4h-4.4zM1814.1 215.4h4.4v4.4h-4.4zM1807.3 218.5h4.4v4.4h-4.4zM1812.3 219.8h4.4v4.4h-4.4zM1804.3 221.7h4.4v4.4h-4.4zM1812.7 223.1h4.4v4.4h-4.4zM1802.9 223.7h4.4v4.4h-4.4zM1807.0 224.5h4.4v4.4h-4.4zM1798.5 228.6h4.4v4.4h-4.4zM1798.8 229.0h4.4v4.4h-4.4zM1800.2 229.9h4.4v4.4h-4.4zM1798.3 230.2h4.4v4.4h-4.4zM1814.0 230.7h4.4v4.4h-4.4zM1794.0 233.5h4.4v4.4h-4.4zM1787.2 240.6h4.4v4.4h-4.4zM1806.3 241.6h4.4v4.4h-4.4zM1788.4 244.9h4.4v4.4h-4.4zM1781.4 246.1h4.4v4.4h-4.4zM1778.5 248.3h4.4v4.4h-4.4zM1779.9 248.7h4.4v4.4h-4.4zM1779.9 248.8h4.4v4.4h-4.4zM1779.8 252.0h4.4v4.4h-4.4zM1777.2 253.5h4.4v4.4h-4.4zM1771.3 254.7h4.4v4.4h-4.4zM1771.1 256.6h4.4v4.4h-4.4zM1778.1 259.3h4.4v4.4h-4.4zM1768.6 260.5h4.4v4.4h-4.4zM1763.8 263.2h4.4v4.4h-4.4zM1767.2 263.7h4.4v4.4h-4.4zM1763.7 267.9h4.4v4.4h-4.4zM1763.4 270.3h4.4v4.4h-4.4zM1756.0 272.5h4.4v4.4h-4.4zM1751.0 273.7h4.4v4.4h-4.4zM1747.6 275.6h4.4v4.4h-4.4zM1754.6 276.6h4.4v4.4h-4.4zM1749.4 279.0h4.4v4.4h-4.4zM1746.3 279.6h4.4v4.4h-4.4zM1747.6 280.7h4.4v4.4h-4.4zM1747.5 281.7h4.4v4.4h-4.4zM1737.4 286.8h4.4v4.4h-4.4zM1743.1 288.8h4.4v4.4h-4.4zM1737.3 289.7h4.4v4.4h-4.4zM1727.0 296.5h4.4v4.4h-4.4zM1726.4 297.9h4.4v4.4h-4.4zM1739.8 300.7h4.4v4.4h-4.4zM1722.0 302.0h4.4v4.4h-4.4zM1724.7 303.5h4.4v4.4h-4.4zM1722.2 305.7h4.4v4.4h-4.4zM1727.0 307.5h4.4v4.4h-4.4zM1718.1 308.8h4.4v4.4h-4.4zM1711.7 313.9h4.4v4.4h-4.4zM1711.6 315.8h4.4v4.4h-4.4zM1707.2 318.2h4.4v4.4h-4.4zM1703.2 325.0h4.4v4.4h-4.4zM1702.3 325.1h4.4v4.4h-4.4zM1699.6 325.9h4.4v4.4h-4.4zM1702.3 326.7h4.4v4.4h-4.4zM1699.9 328.6h4.4v4.4h-4.4zM1698.3 329.1h4.4v4.4h-4.4zM1713.5 331.2h4.4v4.4h-4.4zM1695.4 332.4h4.4v4.4h-4.4zM1694.9 334.8h4.4v4.4h-4.4zM1692.2 335.2h4.4v4.4h-4.4zM1700.5 337.5h4.4v4.4h-4.4zM1692.2 339.0h4.4v4.4h-4.4zM1688.5 340.2h4.4v4.4h-4.4zM1685.5 345.1h4.4v4.4h-4.4zM1693.1 346.6h4.4v4.4h-4.4zM1683.7 349.0h4.4v4.4h-4.4zM1684.5 349.5h4.4v4.4h-4.4zM1691.4 349.7h4.4v4.4h-4.4zM1691.7 350.3h4.4v4.4h-4.4zM1681.3 350.7h4.4v4.4h-4.4zM1681.5 351.1h4.4v4.4h-4.4zM1677.4 351.4h4.4v4.4h-4.4zM1678.3 353.2h4.4v4.4h-4.4zM1678.2 353.6h4.4v4.4h-4.4zM1679.0 354.5h4.4v4.4h-4.4zM1681.6 355.9h4.4v4.4h-4.4zM1692.3 356.6h4.4v4.4h-4.4zM1671.7 359.2h4.4v4.4h-4.4zM1686.6 361.6h4.4v4.4h-4.4zM1668.9 363.7h4.4v4.4h-4.4zM1673.4 366.1h4.4v4.4h-4.4zM1666.0 366.1h4.4v4.4h-4.4zM1670.8 370.1h4.4v4.4h-4.4zM1663.3 370.5h4.4v4.4h-4.4zM1664.3 370.7h4.4v4.4h-4.4zM1664.0 372.6h4.4v4.4h-4.4zM1678.3 372.8h4.4v4.4h-4.4zM1660.5 374.9h4.4v4.4h-4.4zM1664.0 377.7h4.4v4.4h-4.4zM1663.4 379.6h4.4v4.4h-4.4zM1664.1 382.4h4.4v4.4h-4.4zM1651.6 384.7h4.4v4.4h-4.4zM1654.3 386.2h4.4v4.4h-4.4zM1651.3 387.8h4.4v4.4h-4.4zM1650.5 390.4h4.4v4.4h-4.4zM1645.9 390.8h4.4v4.4h-4.4zM1648.9 391.0h4.4v4.4h-4.4zM1648.5 391.1h4.4v4.4h-4.4zM1648.7 391.3h4.4v4.4h-4.4zM1648.6 392.1h4.4v4.4h-4.4zM1640.2 394.5h4.4v4.4h-4.4zM1643.0 396.7h4.4v4.4h-4.4zM1645.7 397.6h4.4v4.4h-4.4zM1638.0 399.8h4.4v4.4h-4.4zM1659.4 400.4h4.4v4.4h-4.4zM1641.4 400.5h4.4v4.4h-4.4zM1632.0 401.7h4.4v4.4h-4.4zM1639.6 402.8h4.4v4.4h-4.4zM1629.5 405.9h4.4v4.4h-4.4zM1626.2 410.5h4.4v4.4h-4.4zM1638.2 411.2h4.4v4.4h-4.4zM1629.8 411.3h4.4v4.4h-4.4zM1621.3 412.4h4.4v4.4h-4.4zM1618.8 414.6h4.4v4.4h-4.4zM1620.3 415.3h4.4v4.4h-4.4zM1613.9 416.9h4.4v4.4h-4.4zM1615.7 417.6h4.4v4.4h-4.4zM1625.1 418.4h4.4v4.4h-4.4zM1624.9 418.8h4.4v4.4h-4.4zM1615.6 419.4h4.4v4.4h-4.4zM1615.4 419.7h4.4v4.4h-4.4zM1615.7 423.8h4.4v4.4h-4.4zM1608.9 425.5h4.4v4.4h-4.4zM1608.2 425.9h4.4v4.4h-4.4zM1613.1 426.8h4.4v4.4h-4.4zM1603.7 428.4h4.4v4.4h-4.4zM1621.1 429.8h4.4v4.4h-4.4zM1602.3 430.6h4.4v4.4h-4.4zM1601.6 431.0h4.4v4.4h-4.4zM1623.4 431.2h4.4v4.4h-4.4zM1610.0 432.2h4.4v4.4h-4.4zM1620.5 433.9h4.4v4.4h-4.4zM1607.3 434.8h4.4v4.4h-4.4zM1608.6 435.9h4.4v4.4h-4.4zM1607.5 436.8h4.4v4.4h-4.4zM1607.0 437.1h4.4v4.4h-4.4zM1609.5 437.7h4.4v4.4h-4.4zM1598.6 437.8h4.4v4.4h-4.4zM1609.9 437.8h4.4v4.4h-4.4zM1603.5 440.4h4.4v4.4h-4.4zM1608.9 440.8h4.4v4.4h-4.4zM1599.2 442.4h4.4v4.4h-4.4zM1594.8 442.7h4.4v4.4h-4.4zM1594.4 443.3h4.4v4.4h-4.4zM1599.5 443.8h4.4v4.4h-4.4zM1587.9 446.6h4.4v4.4h-4.4zM1586.9 447.4h4.4v4.4h-4.4zM1601.3 447.6h4.4v4.4h-4.4zM1608.1 448.4h4.4v4.4h-4.4zM1585.0 449.0h4.4v4.4h-4.4zM1592.4 449.5h4.4v4.4h-4.4zM1617.4 452.3h4.4v4.4h-4.4zM1585.5 452.9h4.4v4.4h-4.4zM1590.0 453.0h4.4v4.4h-4.4zM1581.8 453.2h4.4v4.4h-4.4zM1580.3 453.3h4.4v4.4h-4.4zM1580.3 454.4h4.4v4.4h-4.4zM1576.4 457.7h4.4v4.4h-4.4zM1574.7 459.7h4.4v4.4h-4.4zM1585.2 459.8h4.4v4.4h-4.4zM1585.4 460.0h4.4v4.4h-4.4zM1573.3 460.2h4.4v4.4h-4.4zM1583.0 461.7h4.4v4.4h-4.4zM1581.6 463.6h4.4v4.4h-4.4zM1578.6 463.7h4.4v4.4h-4.4zM1573.8 464.9h4.4v4.4h-4.4zM1568.0 467.5h4.4v4.4h-4.4zM1574.3 470.7h4.4v4.4h-4.4zM1562.3 470.7h4.4v4.4h-4.4zM1577.6 471.7h4.4v4.4h-4.4zM1564.7 471.8h4.4v4.4h-4.4zM1561.7 473.0h4.4v4.4h-4.4zM1564.7 474.9h4.4v4.4h-4.4zM1562.6 474.9h4.4v4.4h-4.4zM1563.0 475.8h4.4v4.4h-4.4zM1557.9 476.8h4.4v4.4h-4.4zM1559.4 478.3h4.4v4.4h-4.4zM1563.8 479.3h4.4v4.4h-4.4zM1558.4 479.8h4.4v4.4h-4.4zM1580.9 481.3h4.4v4.4h-4.4zM1559.2 482.7h4.4v4.4h-4.4zM1551.2 483.0h4.4v4.4h-4.4zM1559.6 486.4h4.4v4.4h-4.4zM1549.9 488.1h4.4v4.4h-4.4zM1583.4 488.9h4.4v4.4h-4.4zM1552.9 490.6h4.4v4.4h-4.4zM1548.9 490.9h4.4v4.4h-4.4zM1546.2 492.9h4.4v4.4h-4.4zM1549.8 494.0h4.4v4.4h-4.4zM1555.4 496.1h4.4v4.4h-4.4zM1538.2 496.4h4.4v4.4h-4.4zM1543.5 496.6h4.4v4.4h-4.4zM1554.6 497.5h4.4v4.4h-4.4zM1535.6 499.4h4.4v4.4h-4.4zM1550.9 501.1h4.4v4.4h-4.4zM1540.6 502.9h4.4v4.4h-4.4zM1551.4 503.2h4.4v4.4h-4.4zM1542.1 504.7h4.4v4.4h-4.4zM1532.2 506.9h4.4v4.4h-4.4zM1536.2 506.9h4.4v4.4h-4.4zM1528.6 508.4h4.4v4.4h-4.4zM1553.6 509.6h4.4v4.4h-4.4zM1534.7 509.8h4.4v4.4h-4.4zM1530.4 510.8h4.4v4.4h-4.4zM1526.7 511.1h4.4v4.4h-4.4zM1539.1 512.3h4.4v4.4h-4.4zM1522.8 512.8h4.4v4.4h-4.4zM1536.2 514.3h4.4v4.4h-4.4zM1529.4 514.5h4.4v4.4h-4.4zM1541.5 516.5h4.4v4.4h-4.4zM1524.5 517.2h4.4v4.4h-4.4zM1518.9 518.0h4.4v4.4h-4.4zM1518.6 518.1h4.4v4.4h-4.4zM1520.3 519.2h4.4v4.4h-4.4zM1520.3 519.9h4.4v4.4h-4.4zM1515.8 520.6h4.4v4.4h-4.4zM1578.1 520.6h4.4v4.4h-4.4zM1514.8 521.0h4.4v4.4h-4.4zM1529.7 521.9h4.4v4.4h-4.4zM1522.5 522.0h4.4v4.4h-4.4zM1520.3 522.4h4.4v4.4h-4.4zM1512.6 522.4h4.4v4.4h-4.4zM1529.7 526.5h4.4v4.4h-4.4zM1516.0 527.0h4.4v4.4h-4.4zM1523.2 527.3h4.4v4.4h-4.4zM1538.4 527.8h4.4v4.4h-4.4zM1523.4 529.0h4.4v4.4h-4.4zM1504.2 531.9h4.4v4.4h-4.4zM1503.4 531.9h4.4v4.4h-4.4zM1501.6 532.1h4.4v4.4h-4.4zM1509.8 532.1h4.4v4.4h-4.4zM1505.4 533.9h4.4v4.4h-4.4zM1522.8 536.4h4.4v4.4h-4.4zM1505.8 536.4h4.4v4.4h-4.4zM1496.4 536.9h4.4v4.4h-4.4zM1495.0 539.6h4.4v4.4h-4.4zM1502.5 540.3h4.4v4.4h-4.4zM1500.4 542.9h4.4v4.4h-4.4zM1494.0 543.4h4.4v4.4h-4.4zM1525.9 543.5h4.4v4.4h-4.4zM1485.0 547.5h4.4v4.4h-4.4zM1485.5 547.6h4.4v4.4h-4.4zM1508.9 547.9h4.4v4.4h-4.4zM1501.5 549.9h4.4v4.4h-4.4zM1498.3 549.9h4.4v4.4h-4.4zM1491.6 550.9h4.4v4.4h-4.4zM1477.4 554.5h4.4v4.4h-4.4zM1493.3 554.6h4.4v4.4h-4.4zM1488.3 556.9h4.4v4.4h-4.4zM1485.3 557.2h4.4v4.4h-4.4zM1475.0 558.3h4.4v4.4h-4.4zM1477.0 558.7h4.4v4.4h-4.4zM1481.2 558.8h4.4v4.4h-4.4zM1476.5 558.9h4.4v4.4h-4.4zM1486.7 559.1h4.4v4.4h-4.4zM1488.3 559.1h4.4v4.4h-4.4zM1473.5 559.2h4.4v4.4h-4.4zM1474.4 561.4h4.4v4.4h-4.4zM1494.0 563.6h4.4v4.4h-4.4zM1470.1 565.4h4.4v4.4h-4.4zM1469.2 565.9h4.4v4.4h-4.4zM1488.8 568.0h4.4v4.4h-4.4zM1473.1 568.8h4.4v4.4h-4.4zM1486.6 569.1h4.4v4.4h-4.4zM1477.2 569.7h4.4v4.4h-4.4zM1468.0 569.8h4.4v4.4h-4.4zM1480.2 569.8h4.4v4.4h-4.4zM1466.3 570.5h4.4v4.4h-4.4zM1467.0 572.1h4.4v4.4h-4.4zM1464.9 572.5h4.4v4.4h-4.4zM1485.2 572.8h4.4v4.4h-4.4zM1464.7 573.1h4.4v4.4h-4.4zM1466.7 573.7h4.4v4.4h-4.4zM1462.0 575.5h4.4v4.4h-4.4zM1459.1 578.6h4.4v4.4h-4.4zM1471.3 580.4h4.4v4.4h-4.4zM1465.6 580.6h4.4v4.4h-4.4zM1461.0 580.8h4.4v4.4h-4.4zM1462.9 581.0h4.4v4.4h-4.4zM1534.5 584.7h4.4v4.4h-4.4zM1455.6 586.8h4.4v4.4h-4.4zM1483.0 587.0h4.4v4.4h-4.4zM1470.6 587.1h4.4v4.4h-4.4zM1502.9 587.4h4.4v4.4h-4.4zM1474.9 587.4h4.4v4.4h-4.4zM1455.8 587.7h4.4v4.4h-4.4zM1476.6 587.7h4.4v4.4h-4.4zM1456.2 588.3h4.4v4.4h-4.4zM1484.3 588.7h4.4v4.4h-4.4zM1464.1 588.9h4.4v4.4h-4.4zM1455.7 589.0h4.4v4.4h-4.4zM1468.5 590.2h4.4v4.4h-4.4zM1453.6 590.4h4.4v4.4h-4.4zM1464.5 590.4h4.4v4.4h-4.4zM1456.3 591.0h4.4v4.4h-4.4zM1464.3 591.1h4.4v4.4h-4.4zM1473.1 592.1h4.4v4.4h-4.4zM1454.2 592.8h4.4v4.4h-4.4zM1468.3 592.8h4.4v4.4h-4.4zM1467.6 593.2h4.4v4.4h-4.4zM1472.5 593.3h4.4v4.4h-4.4zM1474.7 593.6h4.4v4.4h-4.4zM1458.9 595.1h4.4v4.4h-4.4zM1481.3 595.1h4.4v4.4h-4.4zM1476.5 595.6h4.4v4.4h-4.4zM1452.4 595.9h4.4v4.4h-4.4zM1455.0 597.3h4.4v4.4h-4.4zM1455.0 597.4h4.4v4.4h-4.4zM1448.7 598.1h4.4v4.4h-4.4zM1456.0 598.7h4.4v4.4h-4.4zM1449.7 599.2h4.4v4.4h-4.4zM1469.5 600.2h4.4v4.4h-4.4zM1451.6 601.7h4.4v4.4h-4.4zM1452.3 602.7h4.4v4.4h-4.4zM1446.2 603.8h4.4v4.4h-4.4zM1484.6 605.4h4.4v4.4h-4.4zM1453.6 605.9h4.4v4.4h-4.4zM1453.9 606.5h4.4v4.4h-4.4zM1488.4 606.5h4.4v4.4h-4.4zM1446.4 606.7h4.4v4.4h-4.4zM1447.5 606.8h4.4v4.4h-4.4zM1443.4 608.1h4.4v4.4h-4.4zM1458.5 608.2h4.4v4.4h-4.4zM1443.1 608.4h4.4v4.4h-4.4zM1453.6 609.1h4.4v4.4h-4.4zM1457.9 609.6h4.4v4.4h-4.4zM1468.5 609.7h4.4v4.4h-4.4zM1442.1 610.7h4.4v4.4h-4.4zM1450.3 610.8h4.4v4.4h-4.4zM1445.4 611.4h4.4v4.4h-4.4zM1447.8 611.5h4.4v4.4h-4.4zM1452.6 611.6h4.4v4.4h-4.4zM1442.2 613.1h4.4v4.4h-4.4zM1457.6 613.8h4.4v4.4h-4.4zM1462.4 613.9h4.4v4.4h-4.4zM1444.8 616.1h4.4v4.4h-4.4zM1462.0 616.5h4.4v4.4h-4.4zM1444.4 617.1h4.4v4.4h-4.4zM1456.1 619.4h4.4v4.4h-4.4zM1440.0 619.7h4.4v4.4h-4.4zM1443.6 620.0h4.4v4.4h-4.4zM1455.6 623.2h4.4v4.4h-4.4zM1455.3 625.1h4.4v4.4h-4.4zM1433.2 626.6h4.4v4.4h-4.4zM1473.3 627.2h4.4v4.4h-4.4zM1433.7 629.4h4.4v4.4h-4.4zM1442.5 629.8h4.4v4.4h-4.4zM1438.9 630.2h4.4v4.4h-4.4zM1436.4 630.2h4.4v4.4h-4.4zM1428.6 630.8h4.4v4.4h-4.4zM1473.6 630.9h4.4v4.4h-4.4zM1462.7 632.1h4.4v4.4h-4.4zM1447.4 632.9h4.4v4.4h-4.4zM1451.9 634.7h4.4v4.4h-4.4zM1437.1 634.7h4.4v4.4h-4.4zM1438.2 634.9h4.4v4.4h-4.4zM1433.3 635.2h4.4v4.4h-4.4zM1433.4 637.3h4.4v4.4h-4.4zM1430.0 637.5h4.4v4.4h-4.4zM1459.1 638.0h4.4v4.4h-4.4zM1424.4 638.2h4.4v4.4h-4.4zM1420.3 639.1h4.4v4.4h-4.4zM1458.4 639.8h4.4v4.4h-4.4zM1421.2 640.4h4.4v4.4h-4.4zM1426.4 640.9h4.4v4.4h-4.4zM1418.1 641.1h4.4v4.4h-4.4zM1420.7 641.2h4.4v4.4h-4.4zM1420.1 641.6h4.4v4.4h-4.4zM1416.6 641.8h4.4v4.4h-4.4zM1438.5 642.5h4.4v4.4h-4.4zM1424.8 643.2h4.4v4.4h-4.4zM1415.7 644.1h4.4v4.4h-4.4zM1419.6 645.1h4.4v4.4h-4.4zM1423.2 645.8h4.4v4.4h-4.4zM1415.1 646.3h4.4v4.4h-4.4zM1413.2 646.5h4.4v4.4h-4.4zM1415.6 647.1h4.4v4.4h-4.4zM1408.6 647.8h4.4v4.4h-4.4zM1433.8 648.2h4.4v4.4h-4.4zM1418.3 648.4h4.4v4.4h-4.4zM1411.5 649.0h4.4v4.4h-4.4zM1407.5 652.6h4.4v4.4h-4.4zM1403.7 653.8h4.4v4.4h-4.4zM1428.1 653.8h4.4v4.4h-4.4zM1401.7 654.3h4.4v4.4h-4.4zM1407.9 654.7h4.4v4.4h-4.4zM1400.6 655.8h4.4v4.4h-4.4zM1440.5 656.0h4.4v4.4h-4.4zM1399.7 657.2h4.4v4.4h-4.4zM1402.8 657.5h4.4v4.4h-4.4zM1408.9 658.4h4.4v4.4h-4.4zM1417.8 660.0h4.4v4.4h-4.4zM1412.6 660.6h4.4v4.4h-4.4zM1413.0 661.8h4.4v4.4h-4.4zM1414.1 662.3h4.4v4.4h-4.4zM1425.5 663.3h4.4v4.4h-4.4zM1420.0 663.5h4.4v4.4h-4.4zM1412.3 663.5h4.4v4.4h-4.4zM1401.9 664.2h4.4v4.4h-4.4zM1402.3 667.0h4.4v4.4h-4.4zM1410.9 667.4h4.4v4.4h-4.4zM1402.1 669.2h4.4v4.4h-4.4zM1397.6 669.6h4.4v4.4h-4.4zM1406.1 670.1h4.4v4.4h-4.4zM1395.7 670.4h4.4v4.4h-4.4zM1395.1 671.1h4.4v4.4h-4.4zM1408.8 671.4h4.4v4.4h-4.4zM1396.7 673.0h4.4v4.4h-4.4zM1390.0 673.5h4.4v4.4h-4.4zM1389.2 673.8h4.4v4.4h-4.4zM1398.1 674.5h4.4v4.4h-4.4zM1419.6 674.6h4.4v4.4h-4.4zM1410.6 675.0h4.4v4.4h-4.4zM1427.0 676.5h4.4v4.4h-4.4zM1392.7 676.7h4.4v4.4h-4.4zM1384.4 678.8h4.4v4.4h-4.4zM1395.0 678.8h4.4v4.4h-4.4zM1416.7 679.4h4.4v4.4h-4.4zM1393.1 680.7h4.4v4.4h-4.4zM1389.2 686.2h4.4v4.4h-4.4zM1394.4 686.8h4.4v4.4h-4.4zM1384.9 687.2h4.4v4.4h-4.4zM1384.2 688.0h4.4v4.4h-4.4zM1390.5 690.6h4.4v4.4h-4.4zM1376.5 691.2h4.4v4.4h-4.4zM1381.3 691.7h4.4v4.4h-4.4zM1385.0 692.4h4.4v4.4h-4.4zM1415.3 694.2h4.4v4.4h-4.4zM1378.9 694.8h4.4v4.4h-4.4zM1442.6 695.7h4.4v4.4h-4.4zM1379.8 696.1h4.4v4.4h-4.4zM1370.8 697.5h4.4v4.4h-4.4zM1417.9 697.9h4.4v4.4h-4.4zM1375.7 699.4h4.4v4.4h-4.4zM1395.3 699.5h4.4v4.4h-4.4zM1387.3 700.6h4.4v4.4h-4.4zM1388.5 704.7h4.4v4.4h-4.4zM1362.4 705.1h4.4v4.4h-4.4zM1369.0 705.5h4.4v4.4h-4.4zM1361.9 706.1h4.4v4.4h-4.4zM1371.6 706.3h4.4v4.4h-4.4zM1363.7 707.1h4.4v4.4h-4.4zM1365.8 711.6h4.4v4.4h-4.4zM1359.9 711.7h4.4v4.4h-4.4zM1356.3 713.1h4.4v4.4h-4.4zM1350.8 714.1h4.4v4.4h-4.4zM1372.8 714.5h4.4v4.4h-4.4zM1362.9 715.2h4.4v4.4h-4.4zM1357.7 715.4h4.4v4.4h-4.4zM1352.3 716.2h4.4v4.4h-4.4zM1356.6 717.1h4.4v4.4h-4.4zM1350.1 722.4h4.4v4.4h-4.4zM1340.8 722.9h4.4v4.4h-4.4zM1355.8 723.1h4.4v4.4h-4.4zM1340.1 723.2h4.4v4.4h-4.4zM1347.3 723.4h4.4v4.4h-4.4zM1347.3 725.0h4.4v4.4h-4.4zM1334.7 726.5h4.4v4.4h-4.4zM1351.0 726.6h4.4v4.4h-4.4zM1347.9 726.9h4.4v4.4h-4.4zM1334.9 727.4h4.4v4.4h-4.4zM1333.6 727.7h4.4v4.4h-4.4zM1339.0 729.9h4.4v4.4h-4.4zM1335.2 730.3h4.4v4.4h-4.4zM1328.4 730.8h4.4v4.4h-4.4zM1334.4 733.0h4.4v4.4h-4.4zM1326.3 736.2h4.4v4.4h-4.4zM1321.6 737.1h4.4v4.4h-4.4zM1347.8 737.2h4.4v4.4h-4.4zM1319.6 739.2h4.4v4.4h-4.4zM1330.3 741.5h4.4v4.4h-4.4zM1321.4 741.9h4.4v4.4h-4.4zM1313.7 745.3h4.4v4.4h-4.4zM1304.6 748.5h4.4v4.4h-4.4zM1314.2 749.1h4.4v4.4h-4.4zM1304.4 749.3h4.4v4.4h-4.4zM1304.0 751.7h4.4v4.4h-4.4zM1297.4 753.4h4.4v4.4h-4.4zM1298.8 753.6h4.4v4.4h-4.4zM1330.2 753.9h4.4v4.4h-4.4zM1301.7 754.3h4.4v4.4h-4.4zM1300.9 754.4h4.4v4.4h-4.4zM1297.5 755.0h4.4v4.4h-4.4zM1293.5 755.1h4.4v4.4h-4.4zM1293.6 757.1h4.4v4.4h-4.4zM1290.9 757.4h4.4v4.4h-4.4zM1290.9 757.8h4.4v4.4h-4.4zM1299.0 757.8h4.4v4.4h-4.4zM1289.1 758.3h4.4v4.4h-4.4zM1286.2 759.8h4.4v4.4h-4.4zM1302.5 760.1h4.4v4.4h-4.4zM1290.2 760.3h4.4v4.4h-4.4zM1297.2 762.5h4.4v4.4h-4.4zM1285.2 762.7h4.4v4.4h-4.4zM1283.3 764.2h4.4v4.4h-4.4zM1275.1 768.2h4.4v4.4h-4.4zM1273.8 772.0h4.4v4.4h-4.4zM1272.4 772.4h4.4v4.4h-4.4zM1277.9 772.5h4.4v4.4h-4.4zM1287.2 772.9h4.4v4.4h-4.4zM1268.4 774.1h4.4v4.4h-4.4zM1272.2 774.5h4.4v4.4h-4.4zM1282.0 774.8h4.4v4.4h-4.4zM1269.5 775.0h4.4v4.4h-4.4zM1264.3 776.0h4.4v4.4h-4.4zM1262.8 778.0h4.4v4.4h-4.4zM1263.8 779.5h4.4v4.4h-4.4zM1260.0 780.0h4.4v4.4h-4.4zM1257.2 780.2h4.4v4.4h-4.4zM1255.1 782.9h4.4v4.4h-4.4zM1250.5 784.4h4.4v4.4h-4.4zM1251.6 785.6h4.4v4.4h-4.4zM1249.3 786.7h4.4v4.4h-4.4zM1249.4 786.8h4.4v4.4h-4.4zM1246.8 787.1h4.4v4.4h-4.4zM1245.8 789.0h4.4v4.4h-4.4zM1261.2 789.8h4.4v4.4h-4.4zM1255.6 792.1h4.4v4.4h-4.4zM1235.5 795.2h4.4v4.4h-4.4zM1233.9 795.7h4.4v4.4h-4.4zM1239.1 797.6h4.4v4.4h-4.4zM1234.0 798.3h4.4v4.4h-4.4zM1236.2 800.1h4.4v4.4h-4.4zM1240.3 800.6h4.4v4.4h-4.4zM1232.8 801.4h4.4v4.4h-4.4zM1226.1 801.8h4.4v4.4h-4.4zM1228.0 806.2h4.4v4.4h-4.4zM1216.4 808.6h4.4v4.4h-4.4zM1217.2 808.7h4.4v4.4h-4.4zM1218.0 809.2h4.4v4.4h-4.4zM1215.1 810.2h4.4v4.4h-4.4zM1220.7 811.0h4.4v4.4h-4.4zM1225.4 811.5h4.4v4.4h-4.4zM1220.1 813.4h4.4v4.4h-4.4zM1215.2 814.1h4.4v4.4h-4.4zM1212.0 816.9h4.4v4.4h-4.4zM1220.0 816.9h4.4v4.4h-4.4zM1208.2 820.9h4.4v4.4h-4.4zM1216.9 821.0h4.4v4.4h-4.4zM1204.2 823.9h4.4v4.4h-4.4zM1203.8 824.8h4.4v4.4h-4.4zM1870.7 147.9h4.4v4.4h-4.4zM1863.4 148.0h4.4v4.4h-4.4zM1861.1 148.7h4.4v4.4h-4.4zM1867.4 149.8h4.4v4.4h-4.4zM1870.5 150.1h4.4v4.4h-4.4zM1867.7 150.4h4.4v4.4h-4.4zM1859.9 152.1h4.4v4.4h-4.4zM1855.7 153.2h4.4v4.4h-4.4zM1859.0 153.8h4.4v4.4h-4.4zM1859.5 154.5h4.4v4.4h-4.4zM1851.5 154.9h4.4v4.4h-4.4zM1858.2 155.0h4.4v4.4h-4.4zM1862.6 155.9h4.4v4.4h-4.4zM1858.1 156.9h4.4v4.4h-4.4zM1848.4 157.1h4.4v4.4h-4.4zM1853.4 157.7h4.4v4.4h-4.4zM1855.3 158.2h4.4v4.4h-4.4zM1856.1 158.5h4.4v4.4h-4.4zM1855.5 158.8h4.4v4.4h-4.4zM1857.2 158.9h4.4v4.4h-4.4zM1852.6 159.7h4.4v4.4h-4.4zM1851.5 159.8h4.4v4.4h-4.4zM1846.0 160.3h4.4v4.4h-4.4zM1855.4 160.6h4.4v4.4h-4.4zM1853.9 160.8h4.4v4.4h-4.4zM1850.9 161.3h4.4v4.4h-4.4zM1853.4 161.6h4.4v4.4h-4.4zM1847.1 162.5h4.4v4.4h-4.4zM1848.5 162.6h4.4v4.4h-4.4zM1846.6 163.0h4.4v4.4h-4.4zM1850.1 163.9h4.4v4.4h-4.4zM1847.7 164.1h4.4v4.4h-4.4zM1849.1 164.4h4.4v4.4h-4.4zM1849.7 164.6h4.4v4.4h-4.4zM1847.4 164.7h4.4v4.4h-4.4zM1845.0 164.8h4.4v4.4h-4.4zM1845.1 165.0h4.4v4.4h-4.4zM1848.6 165.1h4.4v4.4h-4.4zM1857.9 165.2h4.4v4.4h-4.4zM1847.7 166.1h4.4v4.4h-4.4zM1845.1 166.1h4.4v4.4h-4.4zM1837.6 166.6h4.4v4.4h-4.4zM1842.9 166.7h4.4v4.4h-4.4zM1846.4 166.8h4.4v4.4h-4.4zM1852.7 167.3h4.4v4.4h-4.4zM1845.2 168.0h4.4v4.4h-4.4zM1848.4 168.6h4.4v4.4h-4.4zM1842.1 168.8h4.4v4.4h-4.4zM1844.2 168.9h4.4v4.4h-4.4zM1843.2 169.9h4.4v4.4h-4.4zM1840.8 171.0h4.4v4.4h-4.4zM1842.6 171.7h4.4v4.4h-4.4zM1841.0 172.8h4.4v4.4h-4.4zM1837.3 173.8h4.4v4.4h-4.4zM1836.8 174.9h4.4v4.4h-4.4zM1834.0 175.0h4.4v4.4h-4.4zM1834.3 176.1h4.4v4.4h-4.4zM1837.8 176.6h4.4v4.4h-4.4zM1835.8 176.9h4.4v4.4h-4.4zM1832.6 176.9h4.4v4.4h-4.4zM1829.9 177.4h4.4v4.4h-4.4zM1828.9 178.2h4.4v4.4h-4.4zM1835.0 179.7h4.4v4.4h-4.4zM1829.7 180.1h4.4v4.4h-4.4zM1829.6 180.2h4.4v4.4h-4.4zM1834.8 180.3h4.4v4.4h-4.4zM1831.8 181.0h4.4v4.4h-4.4zM1830.5 183.2h4.4v4.4h-4.4zM1830.8 183.2h4.4v4.4h-4.4zM1828.1 183.4h4.4v4.4h-4.4zM1832.5 184.2h4.4v4.4h-4.4zM1825.1 185.4h4.4v4.4h-4.4zM1821.6 186.4h4.4v4.4h-4.4zM1824.3 187.0h4.4v4.4h-4.4zM1820.0 187.5h4.4v4.4h-4.4zM1823.6 187.8h4.4v4.4h-4.4zM1824.6 188.5h4.4v4.4h-4.4zM1815.1 188.6h4.4v4.4h-4.4zM1817.2 188.9h4.4v4.4h-4.4zM1822.2 189.1h4.4v4.4h-4.4zM1823.0 189.3h4.4v4.4h-4.4zM1821.6 189.7h4.4v4.4h-4.4zM1823.0 191.9h4.4v4.4h-4.4zM1811.5 194.2h4.4v4.4h-4.4zM1808.4 196.2h4.4v4.4h-4.4zM1808.6 196.2h4.4v4.4h-4.4zM1809.7 196.9h4.4v4.4h-4.4zM1809.5 197.5h4.4v4.4h-4.4zM1804.5 199.4h4.4v4.4h-4.4zM1809.4 199.6h4.4v4.4h-4.4zM1809.1 199.9h4.4v4.4h-4.4zM1807.8 200.0h4.4v4.4h-4.4zM1806.3 200.7h4.4v4.4h-4.4zM1807.2 201.4h4.4v4.4h-4.4zM1803.5 201.7h4.4v4.4h-4.4zM1804.3 202.1h4.4v4.4h-4.4zM1804.1 202.7h4.4v4.4h-4.4zM1806.2 202.8h4.4v4.4h-4.4zM1802.2 204.2h4.4v4.4h-4.4zM1801.8 205.4h4.4v4.4h-4.4zM1805.3 205.6h4.4v4.4h-4.4zM1804.1 205.8h4.4v4.4h-4.4zM1799.3 206.2h4.4v4.4h-4.4zM1800.1 206.7h4.4v4.4h-4.4zM1796.5 206.8h4.4v4.4h-4.4zM1800.3 206.9h4.4v4.4h-4.4zM1803.4 207.2h4.4v4.4h-4.4zM1800.5 208.4h4.4v4.4h-4.4zM1797.2 208.9h4.4v4.4h-4.4zM1793.1 209.0h4.4v4.4h-4.4zM1794.8 211.9h4.4v4.4h-4.4zM1792.4 213.0h4.4v4.4h-4.4zM1797.3 213.3h4.4v4.4h-4.4zM1800.0 213.9h4.4v4.4h-4.4zM1795.5 214.8h4.4v4.4h-4.4zM1796.0 214.8h4.4v4.4h-4.4zM1791.2 215.0h4.4v4.4h-4.4zM1791.4 215.6h4.4v4.4h-4.4zM1789.3 215.7h4.4v4.4h-4.4zM1795.2 216.1h4.4v4.4h-4.4zM1784.2 217.4h4.4v4.4h-4.4zM1783.9 217.9h4.4v4.4h-4.4zM1788.0 219.5h4.4v4.4h-4.4zM1784.3 220.4h4.4v4.4h-4.4zM1785.8 220.6h4.4v4.4h-4.4zM1779.4 221.7h4.4v4.4h-4.4zM1780.4 221.8h4.4v4.4h-4.4zM1785.8 223.6h4.4v4.4h-4.4zM1785.3 224.4h4.4v4.4h-4.4zM1782.2 224.5h4.4v4.4h-4.4zM1781.0 225.0h4.4v4.4h-4.4zM1777.2 226.6h4.4v4.4h-4.4zM1777.9 227.3h4.4v4.4h-4.4zM1779.6 227.7h4.4v4.4h-4.4zM1774.9 228.8h4.4v4.4h-4.4zM1775.5 228.9h4.4v4.4h-4.4zM1776.8 228.9h4.4v4.4h-4.4zM1773.7 229.4h4.4v4.4h-4.4zM1774.2 229.6h4.4v4.4h-4.4zM1772.4 229.7h4.4v4.4h-4.4zM1769.1 231.0h4.4v4.4h-4.4zM1771.5 232.1h4.4v4.4h-4.4zM1773.5 233.9h4.4v4.4h-4.4zM1770.7 234.0h4.4v4.4h-4.4zM1774.0 234.5h4.4v4.4h-4.4zM1765.9 234.5h4.4v4.4h-4.4zM1771.8 234.6h4.4v4.4h-4.4zM1765.1 234.9h4.4v4.4h-4.4zM1772.4 235.3h4.4v4.4h-4.4zM1773.9 235.6h4.4v4.4h-4.4zM1766.3 236.9h4.4v4.4h-4.4zM1766.2 237.2h4.4v4.4h-4.4zM1770.2 237.3h4.4v4.4h-4.4zM1764.1 237.4h4.4v4.4h-4.4zM1764.3 237.5h4.4v4.4h-4.4zM1768.8 238.0h4.4v4.4h-4.4zM1765.5 238.3h4.4v4.4h-4.4zM1765.4 238.9h4.4v4.4h-4.4zM1768.3 239.1h4.4v4.4h-4.4zM1762.2 241.8h4.4v4.4h-4.4zM1764.6 241.8h4.4v4.4h-4.4zM1765.3 242.0h4.4v4.4h-4.4zM1758.8 242.2h4.4v4.4h-4.4zM1760.7 242.8h4.4v4.4h-4.4zM1769.7 243.2h4.4v4.4h-4.4zM1757.4 243.3h4.4v4.4h-4.4zM1760.4 243.8h4.4v4.4h-4.4zM1752.0 244.7h4.4v4.4h-4.4zM1755.7 245.3h4.4v4.4h-4.4zM1755.2 245.5h4.4v4.4h-4.4zM1761.6 246.5h4.4v4.4h-4.4zM1750.1 247.2h4.4v4.4h-4.4zM1755.7 247.5h4.4v4.4h-4.4zM1749.6 247.9h4.4v4.4h-4.4zM1751.7 248.5h4.4v4.4h-4.4zM1757.0 248.9h4.4v4.4h-4.4zM1752.2 248.9h4.4v4.4h-4.4zM1752.9 251.7h4.4v4.4h-4.4zM1748.4 252.1h4.4v4.4h-4.4zM1751.6 252.3h4.4v4.4h-4.4zM1749.8 252.5h4.4v4.4h-4.4zM1748.4 253.8h4.4v4.4h-4.4zM1743.7 254.2h4.4v4.4h-4.4zM1748.8 254.4h4.4v4.4h-4.4zM1749.7 254.5h4.4v4.4h-4.4zM1748.1 254.8h4.4v4.4h-4.4zM1738.9 255.6h4.4v4.4h-4.4zM1743.4 255.8h4.4v4.4h-4.4zM1742.8 257.4h4.4v4.4h-4.4zM1743.2 257.5h4.4v4.4h-4.4zM1746.2 258.1h4.4v4.4h-4.4zM1741.9 259.0h4.4v4.4h-4.4zM1742.5 259.4h4.4v4.4h-4.4zM1740.4 259.8h4.4v4.4h-4.4zM1739.2 261.2h4.4v4.4h-4.4zM1742.1 261.2h4.4v4.4h-4.4zM1738.9 261.3h4.4v4.4h-4.4zM1744.3 261.5h4.4v4.4h-4.4zM1740.3 261.8h4.4v4.4h-4.4zM1741.7 263.1h4.4v4.4h-4.4zM1738.5 263.7h4.4v4.4h-4.4zM1739.4 265.8h4.4v4.4h-4.4zM1738.9 266.4h4.4v4.4h-4.4zM1735.1 267.7h4.4v4.4h-4.4zM1733.4 267.9h4.4v4.4h-4.4zM1733.0 268.4h4.4v4.4h-4.4zM1725.3 269.7h4.4v4.4h-4.4zM1724.2 269.8h4.4v4.4h-4.4zM1729.5 270.1h4.4v4.4h-4.4zM1724.5 270.4h4.4v4.4h-4.4zM1727.8 271.1h4.4v4.4h-4.4zM1728.9 271.5h4.4v4.4h-4.4zM1725.9 271.5h4.4v4.4h-4.4zM1725.4 271.9h4.4v4.4h-4.4zM1726.6 272.5h4.4v4.4h-4.4zM1730.4 272.5h4.4v4.4h-4.4zM1716.2 274.1h4.4v4.4h-4.4zM1721.2 274.2h4.4v4.4h-4.4zM1723.7 274.7h4.4v4.4h-4.4zM1721.2 274.8h4.4v4.4h-4.4zM1727.3 274.9h4.4v4.4h-4.4zM1728.1 275.0h4.4v4.4h-4.4zM1719.1 276.0h4.4v4.4h-4.4zM1723.7 276.6h4.4v4.4h-4.4zM1718.9 277.1h4.4v4.4h-4.4zM1717.3 277.3h4.4v4.4h-4.4zM1719.7 278.2h4.4v4.4h-4.4zM1723.9 279.1h4.4v4.4h-4.4zM1715.7 280.0h4.4v4.4h-4.4zM1719.9 282.4h4.4v4.4h-4.4zM1713.7 282.8h4.4v4.4h-4.4zM1716.0 284.5h4.4v4.4h-4.4zM1715.7 284.6h4.4v4.4h-4.4zM1711.5 285.3h4.4v4.4h-4.4zM1703.8 286.2h4.4v4.4h-4.4zM1717.3 286.4h4.4v4.4h-4.4zM1709.5 287.3h4.4v4.4h-4.4zM1709.1 287.4h4.4v4.4h-4.4zM1704.6 287.4h4.4v4.4h-4.4zM1708.5 287.5h4.4v4.4h-4.4zM1705.2 289.3h4.4v4.4h-4.4zM1707.6 289.4h4.4v4.4h-4.4zM1706.9 290.2h4.4v4.4h-4.4zM1704.3 290.2h4.4v4.4h-4.4zM1704.5 291.2h4.4v4.4h-4.4zM1712.6 291.6h4.4v4.4h-4.4zM1699.5 292.3h4.4v4.4h-4.4zM1707.0 292.6h4.4v4.4h-4.4zM1703.2 292.9h4.4v4.4h-4.4zM1700.1 293.7h4.4v4.4h-4.4zM1698.9 293.8h4.4v4.4h-4.4zM1696.8 295.0h4.4v4.4h-4.4zM1696.3 295.0h4.4v4.4h-4.4zM1696.1 296.6h4.4v4.4h-4.4zM1693.6 298.4h4.4v4.4h-4.4zM1693.4 298.6h4.4v4.4h-4.4zM1692.6 298.8h4.4v4.4h-4.4zM1695.5 298.9h4.4v4.4h-4.4zM1691.8 299.8h4.4v4.4h-4.4zM1687.4 303.1h4.4v4.4h-4.4zM1687.7 303.2h4.4v4.4h-4.4zM1687.0 304.5h4.4v4.4h-4.4zM1685.7 305.7h4.4v4.4h-4.4zM1690.3 306.8h4.4v4.4h-4.4zM1682.9 307.0h4.4v4.4h-4.4zM1686.2 308.4h4.4v4.4h-4.4zM1681.1 308.5h4.4v4.4h-4.4zM1678.5 308.9h4.4v4.4h-4.4zM1683.4 309.4h4.4v4.4h-4.4zM1678.9 310.8h4.4v4.4h-4.4zM1681.2 311.0h4.4v4.4h-4.4zM1673.7 311.2h4.4v4.4h-4.4zM1681.4 312.4h4.4v4.4h-4.4zM1678.6 312.4h4.4v4.4h-4.4zM1679.0 312.5h4.4v4.4h-4.4zM1677.0 314.0h4.4v4.4h-4.4zM1676.8 314.1h4.4v4.4h-4.4zM1675.4 314.2h4.4v4.4h-4.4zM1678.6 315.0h4.4v4.4h-4.4zM1676.1 316.5h4.4v4.4h-4.4zM1680.4 317.3h4.4v4.4h-4.4zM1667.7 317.3h4.4v4.4h-4.4zM1674.9 317.5h4.4v4.4h-4.4zM1668.8 317.5h4.4v4.4h-4.4zM1673.5 318.0h4.4v4.4h-4.4zM1676.4 318.0h4.4v4.4h-4.4zM1675.8 318.1h4.4v4.4h-4.4zM1671.6 319.4h4.4v4.4h-4.4zM1669.9 319.4h4.4v4.4h-4.4zM1671.4 319.8h4.4v4.4h-4.4zM1670.5 319.9h4.4v4.4h-4.4zM1668.7 320.8h4.4v4.4h-4.4zM1672.2 321.2h4.4v4.4h-4.4zM1671.4 321.6h4.4v4.4h-4.4zM1666.6 323.2h4.4v4.4h-4.4zM1667.6 325.3h4.4v4.4h-4.4zM1664.1 326.7h4.4v4.4h-4.4zM1661.8 326.8h4.4v4.4h-4.4zM1665.0 327.0h4.4v4.4h-4.4zM1664.1 327.4h4.4v4.4h-4.4zM1660.5 327.8h4.4v4.4h-4.4zM1662.3 327.8h4.4v4.4h-4.4zM1660.3 328.5h4.4v4.4h-4.4zM1658.8 329.0h4.4v4.4h-4.4zM1667.9 329.7h4.4v4.4h-4.4zM1659.9 330.5h4.4v4.4h-4.4zM1658.9 330.8h4.4v4.4h-4.4zM1661.0 333.1h4.4v4.4h-4.4zM1655.2 333.4h4.4v4.4h-4.4zM1659.8 333.5h4.4v4.4h-4.4zM1658.0 337.5h4.4v4.4h-4.4zM1652.1 339.1h4.4v4.4h-4.4zM1649.4 339.3h4.4v4.4h-4.4zM1649.6 339.5h4.4v4.4h-4.4zM1656.1 339.6h4.4v4.4h-4.4zM1654.6 340.6h4.4v4.4h-4.4zM1653.7 342.1h4.4v4.4h-4.4zM1650.3 342.3h4.4v4.4h-4.4zM1645.5 343.0h4.4v4.4h-4.4zM1645.1 345.2h4.4v4.4h-4.4zM1645.8 345.2h4.4v4.4h-4.4zM1639.2 345.6h4.4v4.4h-4.4zM1647.2 346.2h4.4v4.4h-4.4zM1644.2 346.8h4.4v4.4h-4.4zM1639.7 347.7h4.4v4.4h-4.4zM1646.5 348.0h4.4v4.4h-4.4zM1638.9 348.5h4.4v4.4h-4.4zM1639.2 348.7h4.4v4.4h-4.4zM1639.5 349.3h4.4v4.4h-4.4zM1640.5 349.9h4.4v4.4h-4.4zM1643.9 350.1h4.4v4.4h-4.4zM1638.1 350.9h4.4v4.4h-4.4zM1637.3 351.4h4.4v4.4h-4.4zM1639.8 351.5h4.4v4.4h-4.4zM1633.9 353.1h4.4v4.4h-4.4zM1636.6 353.6h4.4v4.4h-4.4zM1636.4 354.6h4.4v4.4h-4.4zM1637.1 355.7h4.4v4.4h-4.4zM1630.9 356.1h4.4v4.4h-4.4zM1628.6 357.5h4.4v4.4h-4.4zM1635.0 358.7h4.4v4.4h-4.4zM1631.6 359.9h4.4v4.4h-4.4zM1631.0 360.9h4.4v4.4h-4.4zM1630.8 361.1h4.4v4.4h-4.4zM1625.9 361.2h4.4v4.4h-4.4zM1633.5 361.6h4.4v4.4h-4.4zM1631.3 362.0h4.4v4.4h-4.4zM1626.5 365.6h4.4v4.4h-4.4zM1620.6 366.4h4.4v4.4h-4.4zM1624.2 367.4h4.4v4.4h-4.4zM1625.0 368.3h4.4v4.4h-4.4zM1625.7 368.5h4.4v4.4h-4.4zM1621.6 369.0h4.4v4.4h-4.4zM1624.2 369.3h4.4v4.4h-4.4zM1622.9 369.6h4.4v4.4h-4.4zM1620.5 370.1h4.4v4.4h-4.4zM1622.4 370.1h4.4v4.4h-4.4zM1624.6 370.3h4.4v4.4h-4.4zM1620.1 370.6h4.4v4.4h-4.4zM1625.7 370.6h4.4v4.4h-4.4zM1620.4 371.3h4.4v4.4h-4.4zM1617.0 371.6h4.4v4.4h-4.4zM1615.4 372.6h4.4v4.4h-4.4zM1615.6 372.6h4.4v4.4h-4.4zM1613.9 373.0h4.4v4.4h-4.4zM1620.8 373.2h4.4v4.4h-4.4zM1613.2 373.5h4.4v4.4h-4.4zM1611.7 373.8h4.4v4.4h-4.4zM1609.7 374.1h4.4v4.4h-4.4zM1612.5 374.2h4.4v4.4h-4.4zM1612.9 376.5h4.4v4.4h-4.4zM1610.0 377.2h4.4v4.4h-4.4zM1617.6 377.4h4.4v4.4h-4.4zM1614.7 377.7h4.4v4.4h-4.4zM1605.0 378.2h4.4v4.4h-4.4zM1610.9 379.0h4.4v4.4h-4.4zM1607.8 379.1h4.4v4.4h-4.4zM1608.4 379.5h4.4v4.4h-4.4zM1605.8 380.6h4.4v4.4h-4.4zM1609.1 382.0h4.4v4.4h-4.4zM1603.0 382.3h4.4v4.4h-4.4zM1605.8 383.4h4.4v4.4h-4.4zM1604.5 384.1h4.4v4.4h-4.4zM1601.4 384.1h4.4v4.4h-4.4zM1598.7 384.9h4.4v4.4h-4.4zM1600.9 385.8h4.4v4.4h-4.4zM1602.9 385.9h4.4v4.4h-4.4zM1602.6 386.9h4.4v4.4h-4.4zM1605.8 387.0h4.4v4.4h-4.4zM1603.5 387.5h4.4v4.4h-4.4zM1598.5 387.5h4.4v4.4h-4.4zM1595.5 388.0h4.4v4.4h-4.4zM1598.9 388.0h4.4v4.4h-4.4zM1596.3 388.5h4.4v4.4h-4.4zM1597.4 392.5h4.4v4.4h-4.4zM1588.7 392.6h4.4v4.4h-4.4zM1593.9 392.8h4.4v4.4h-4.4zM1590.9 395.6h4.4v4.4h-4.4zM1590.5 395.8h4.4v4.4h-4.4zM1593.2 396.0h4.4v4.4h-4.4zM1585.4 397.2h4.4v4.4h-4.4zM1587.3 397.6h4.4v4.4h-4.4zM1586.4 397.6h4.4v4.4h-4.4zM1593.6 398.6h4.4v4.4h-4.4zM1586.2 399.8h4.4v4.4h-4.4zM1588.4 399.8h4.4v4.4h-4.4zM1583.3 400.3h4.4v4.4h-4.4zM1587.9 400.7h4.4v4.4h-4.4zM1581.0 401.3h4.4v4.4h-4.4zM1589.0 401.4h4.4v4.4h-4.4zM1582.1 403.0h4.4v4.4h-4.4zM1582.5 403.2h4.4v4.4h-4.4zM1578.9 403.7h4.4v4.4h-4.4zM1584.4 404.0h4.4v4.4h-4.4zM1582.7 404.2h4.4v4.4h-4.4zM1578.6 404.9h4.4v4.4h-4.4zM1577.2 406.0h4.4v4.4h-4.4zM1576.5 407.7h4.4v4.4h-4.4zM1578.9 408.0h4.4v4.4h-4.4zM1577.0 408.4h4.4v4.4h-4.4zM1583.2 409.0h4.4v4.4h-4.4zM1579.0 409.1h4.4v4.4h-4.4zM1579.5 409.6h4.4v4.4h-4.4zM1582.5 410.1h4.4v4.4h-4.4zM1570.2 411.2h4.4v4.4h-4.4zM1574.3 411.9h4.4v4.4h-4.4zM1575.5 412.1h4.4v4.4h-4.4zM1579.9 412.2h4.4v4.4h-4.4zM1572.8 413.7h4.4v4.4h-4.4zM1573.7 413.8h4.4v4.4h-4.4zM1574.5 414.8h4.4v4.4h-4.4zM1569.7 415.4h4.4v4.4h-4.4zM1574.5 415.6h4.4v4.4h-4.4zM1567.7 415.7h4.4v4.4h-4.4zM1570.0 415.8h4.4v4.4h-4.4zM1568.3 416.9h4.4v4.4h-4.4zM1569.5 417.1h4.4v4.4h-4.4zM1573.0 417.3h4.4v4.4h-4.4zM1572.2 417.9h4.4v4.4h-4.4zM1573.6 418.1h4.4v4.4h-4.4zM1569.2 419.3h4.4v4.4h-4.4zM1566.5 421.7h4.4v4.4h-4.4zM1564.4 422.0h4.4v4.4h-4.4zM1560.9 422.7h4.4v4.4h-4.4zM1558.7 422.8h4.4v4.4h-4.4zM1559.0 423.2h4.4v4.4h-4.4zM1553.7 424.0h4.4v4.4h-4.4zM1560.0 424.1h4.4v4.4h-4.4zM1561.3 425.2h4.4v4.4h-4.4zM1555.4 428.7h4.4v4.4h-4.4zM1544.9 430.4h4.4v4.4h-4.4zM1546.6 430.7h4.4v4.4h-4.4zM1538.2 431.6h4.4v4.4h-4.4zM1545.7 431.6h4.4v4.4h-4.4zM1547.7 432.0h4.4v4.4h-4.4zM1540.8 432.5h4.4v4.4h-4.4zM1545.6 432.6h4.4v4.4h-4.4zM1543.6 434.0h4.4v4.4h-4.4zM1540.7 435.1h4.4v4.4h-4.4zM1546.9 435.2h4.4v4.4h-4.4zM1541.6 435.7h4.4v4.4h-4.4zM1535.1 437.5h4.4v4.4h-4.4zM1537.5 438.2h4.4v4.4h-4.4zM1535.2 438.6h4.4v4.4h-4.4zM1533.9 438.8h4.4v4.4h-4.4zM1530.7 439.7h4.4v4.4h-4.4zM1536.2 439.9h4.4v4.4h-4.4zM1534.1 440.0h4.4v4.4h-4.4zM1532.7 440.5h4.4v4.4h-4.4zM1527.0 440.9h4.4v4.4h-4.4zM1529.7 440.9h4.4v4.4h-4.4zM1530.2 441.6h4.4v4.4h-4.4zM1527.5 441.7h4.4v4.4h-4.4zM1528.4 441.9h4.4v4.4h-4.4zM1529.9 442.6h4.4v4.4h-4.4zM1528.2 444.4h4.4v4.4h-4.4zM1529.7 444.7h4.4v4.4h-4.4zM1520.2 445.1h4.4v4.4h-4.4zM1530.9 445.2h4.4v4.4h-4.4zM1529.0 445.2h4.4v4.4h-4.4zM1523.2 445.7h4.4v4.4h-4.4zM1523.9 446.1h4.4v4.4h-4.4zM1520.4 446.2h4.4v4.4h-4.4zM1522.9 446.5h4.4v4.4h-4.4zM1521.8 446.6h4.4v4.4h-4.4zM1524.7 446.7h4.4v4.4h-4.4zM1525.8 446.9h4.4v4.4h-4.4zM1518.7 448.2h4.4v4.4h-4.4zM1524.8 448.2h4.4v4.4h-4.4zM1518.8 449.2h4.4v4.4h-4.4zM1518.5 449.8h4.4v4.4h-4.4zM1516.1 450.6h4.4v4.4h-4.4zM1518.0 450.7h4.4v4.4h-4.4zM1518.4 451.0h4.4v4.4h-4.4zM1515.3 451.5h4.4v4.4h-4.4zM1523.5 451.6h4.4v4.4h-4.4zM1516.7 452.1h4.4v4.4h-4.4zM1519.3 453.0h4.4v4.4h-4.4zM1516.2 453.8h4.4v4.4h-4.4zM1514.1 454.4h4.4v4.4h-4.4zM1514.1 456.9h4.4v4.4h-4.4zM1509.9 457.7h4.4v4.4h-4.4zM1504.2 458.7h4.4v4.4h-4.4zM1511.8 459.1h4.4v4.4h-4.4zM1512.3 460.7h4.4v4.4h-4.4zM1504.8 461.0h4.4v4.4h-4.4zM1505.9 461.4h4.4v4.4h-4.4zM1504.0 462.2h4.4v4.4h-4.4zM1503.5 462.9h4.4v4.4h-4.4zM1504.1 463.0h4.4v4.4h-4.4zM1502.1 463.1h4.4v4.4h-4.4zM1501.2 465.5h4.4v4.4h-4.4zM1494.2 469.2h4.4v4.4h-4.4zM1489.1 469.6h4.4v4.4h-4.4zM1495.7 470.5h4.4v4.4h-4.4zM1487.3 471.2h4.4v4.4h-4.4zM1485.7 471.3h4.4v4.4h-4.4zM1484.2 472.3h4.4v4.4h-4.4zM1487.9 472.3h4.4v4.4h-4.4zM1485.4 472.4h4.4v4.4h-4.4zM1482.7 474.5h4.4v4.4h-4.4zM1480.4 474.6h4.4v4.4h-4.4zM1489.8 475.7h4.4v4.4h-4.4zM1479.4 476.6h4.4v4.4h-4.4zM1481.8 477.7h4.4v4.4h-4.4zM1475.9 478.1h4.4v4.4h-4.4zM1479.7 479.2h4.4v4.4h-4.4zM1471.6 479.4h4.4v4.4h-4.4zM1467.3 481.4h4.4v4.4h-4.4zM1473.3 481.5h4.4v4.4h-4.4zM1472.1 483.6h4.4v4.4h-4.4zM1467.5 484.8h4.4v4.4h-4.4zM1470.7 484.9h4.4v4.4h-4.4zM1472.7 485.1h4.4v4.4h-4.4zM1472.8 485.5h4.4v4.4h-4.4zM1464.9 486.3h4.4v4.4h-4.4zM1468.3 486.6h4.4v4.4h-4.4zM1460.4 487.3h4.4v4.4h-4.4zM1464.8 489.1h4.4v4.4h-4.4zM1460.3 489.2h4.4v4.4h-4.4zM1463.8 489.8h4.4v4.4h-4.4zM1458.9 490.4h4.4v4.4h-4.4zM1459.8 491.5h4.4v4.4h-4.4zM1458.8 492.0h4.4v4.4h-4.4zM1463.6 492.0h4.4v4.4h-4.4zM1462.3 492.3h4.4v4.4h-4.4zM1454.9 492.9h4.4v4.4h-4.4zM1458.2 493.0h4.4v4.4h-4.4zM1459.5 493.3h4.4v4.4h-4.4zM1453.0 493.5h4.4v4.4h-4.4zM1456.0 493.6h4.4v4.4h-4.4zM1461.0 493.9h4.4v4.4h-4.4zM1455.6 494.6h4.4v4.4h-4.4zM1452.5 495.3h4.4v4.4h-4.4zM1454.9 495.4h4.4v4.4h-4.4zM1451.8 495.6h4.4v4.4h-4.4zM1449.2 497.5h4.4v4.4h-4.4zM1450.5 498.9h4.4v4.4h-4.4zM1450.4 499.5h4.4v4.4h-4.4zM1445.3 499.9h4.4v4.4h-4.4zM1435.0 501.9h4.4v4.4h-4.4zM1444.0 502.0h4.4v4.4h-4.4zM1444.9 503.1h4.4v4.4h-4.4zM1446.2 503.1h4.4v4.4h-4.4zM1446.0 503.2h4.4v4.4h-4.4zM1440.0 504.3h4.4v4.4h-4.4zM1440.1 504.5h4.4v4.4h-4.4zM1441.4 505.0h4.4v4.4h-4.4zM1435.4 506.2h4.4v4.4h-4.4zM1436.0 507.9h4.4v4.4h-4.4zM1433.6 509.3h4.4v4.4h-4.4zM1432.3 509.9h4.4v4.4h-4.4zM1435.8 510.2h4.4v4.4h-4.4zM1431.1 510.9h4.4v4.4h-4.4zM1428.3 511.5h4.4v4.4h-4.4zM1432.8 512.2h4.4v4.4h-4.4zM1425.0 513.7h4.4v4.4h-4.4zM1424.8 516.1h4.4v4.4h-4.4zM1427.1 516.1h4.4v4.4h-4.4zM1419.8 516.6h4.4v4.4h-4.4zM1423.5 517.0h4.4v4.4h-4.4zM1415.6 517.8h4.4v4.4h-4.4zM1423.9 518.7h4.4v4.4h-4.4zM1421.6 518.8h4.4v4.4h-4.4zM1419.7 520.7h4.4v4.4h-4.4zM1416.4 521.2h4.4v4.4h-4.4zM1419.8 521.8h4.4v4.4h-4.4zM1416.5 522.6h4.4v4.4h-4.4zM1413.5 523.3h4.4v4.4h-4.4zM1419.5 523.5h4.4v4.4h-4.4zM1405.5 524.0h4.4v4.4h-4.4zM1416.4 524.6h4.4v4.4h-4.4zM1409.0 525.6h4.4v4.4h-4.4zM1404.1 527.7h4.4v4.4h-4.4zM1404.6 528.5h4.4v4.4h-4.4zM1402.9 528.6h4.4v4.4h-4.4zM1407.0 529.1h4.4v4.4h-4.4zM1398.9 529.4h4.4v4.4h-4.4zM1397.3 529.5h4.4v4.4h-4.4zM1403.0 529.6h4.4v4.4h-4.4zM1403.5 530.4h4.4v4.4h-4.4zM1404.5 530.5h4.4v4.4h-4.4zM1395.5 530.7h4.4v4.4h-4.4zM1403.8 532.7h4.4v4.4h-4.4zM1395.2 532.9h4.4v4.4h-4.4zM1404.9 533.0h4.4v4.4h-4.4zM1395.9 533.2h4.4v4.4h-4.4zM1397.6 533.4h4.4v4.4h-4.4zM1390.3 533.7h4.4v4.4h-4.4zM1401.6 533.9h4.4v4.4h-4.4zM1398.8 534.1h4.4v4.4h-4.4zM1392.1 535.2h4.4v4.4h-4.4zM1393.4 535.8h4.4v4.4h-4.4zM1389.9 535.9h4.4v4.4h-4.4zM1387.1 536.8h4.4v4.4h-4.4zM1390.7 537.5h4.4v4.4h-4.4zM1388.0 538.4h4.4v4.4h-4.4zM1388.8 540.0h4.4v4.4h-4.4zM1383.9 540.4h4.4v4.4h-4.4zM1389.0 540.6h4.4v4.4h-4.4zM1388.9 541.5h4.4v4.4h-4.4zM1383.7 542.1h4.4v4.4h-4.4zM1384.0 542.3h4.4v4.4h-4.4zM1380.5 542.5h4.4v4.4h-4.4zM1376.2 542.6h4.4v4.4h-4.4zM1378.5 543.3h4.4v4.4h-4.4zM1380.1 543.6h4.4v4.4h-4.4zM1377.7 543.8h4.4v4.4h-4.4zM1382.5 544.5h4.4v4.4h-4.4zM1375.8 545.2h4.4v4.4h-4.4zM1369.2 546.1h4.4v4.4h-4.4zM1378.4 547.0h4.4v4.4h-4.4zM1368.7 547.2h4.4v4.4h-4.4zM1376.4 547.5h4.4v4.4h-4.4zM1375.3 547.6h4.4v4.4h-4.4zM1369.2 548.1h4.4v4.4h-4.4zM1373.0 548.8h4.4v4.4h-4.4zM1370.4 549.1h4.4v4.4h-4.4zM1368.1 549.1h4.4v4.4h-4.4zM1372.4 550.3h4.4v4.4h-4.4zM1367.1 551.0h4.4v4.4h-4.4zM1368.0 551.5h4.4v4.4h-4.4zM1372.6 551.7h4.4v4.4h-4.4zM1363.9 552.9h4.4v4.4h-4.4zM1366.0 553.0h4.4v4.4h-4.4zM1363.5 553.4h4.4v4.4h-4.4zM1371.4 554.8h4.4v4.4h-4.4zM1363.2 555.9h4.4v4.4h-4.4zM1367.1 556.5h4.4v4.4h-4.4zM1364.2 557.3h4.4v4.4h-4.4zM1362.8 558.1h4.4v4.4h-4.4zM1363.1 558.1h4.4v4.4h-4.4zM1365.5 558.7h4.4v4.4h-4.4zM1361.9 558.8h4.4v4.4h-4.4zM1368.1 559.0h4.4v4.4h-4.4zM1365.1 561.3h4.4v4.4h-4.4zM1358.5 562.3h4.4v4.4h-4.4zM1365.5 562.4h4.4v4.4h-4.4zM1360.7 563.5h4.4v4.4h-4.4zM1360.6 564.1h4.4v4.4h-4.4zM1360.1 564.2h4.4v4.4h-4.4zM1361.1 564.6h4.4v4.4h-4.4zM1359.9 565.1h4.4v4.4h-4.4zM1358.0 566.2h4.4v4.4h-4.4zM1359.5 566.3h4.4v4.4h-4.4zM1363.0 566.5h4.4v4.4h-4.4zM1356.4 566.8h4.4v4.4h-4.4zM1356.7 567.8h4.4v4.4h-4.4zM1360.7 567.9h4.4v4.4h-4.4zM1352.3 568.4h4.4v4.4h-4.4zM1357.3 568.4h4.4v4.4h-4.4zM1356.1 568.8h4.4v4.4h-4.4zM1360.8 569.2h4.4v4.4h-4.4zM1357.8 570.0h4.4v4.4h-4.4zM1352.5 570.5h4.4v4.4h-4.4zM1357.5 571.1h4.4v4.4h-4.4zM1362.2 571.3h4.4v4.4h-4.4zM1346.5 572.3h4.4v4.4h-4.4zM1348.4 574.3h4.4v4.4h-4.4zM1361.1 574.4h4.4v4.4h-4.4zM1354.9 574.8h4.4v4.4h-4.4zM1354.6 575.5h4.4v4.4h-4.4zM1348.6 576.2h4.4v4.4h-4.4zM1352.2 576.4h4.4v4.4h-4.4zM1350.7 576.7h4.4v4.4h-4.4zM1352.6 577.5h4.4v4.4h-4.4zM1348.1 578.0h4.4v4.4h-4.4zM1350.1 578.7h4.4v4.4h-4.4zM1348.8 578.9h4.4v4.4h-4.4zM1352.5 579.6h4.4v4.4h-4.4zM1346.1 581.9h4.4v4.4h-4.4zM1336.8 583.5h4.4v4.4h-4.4zM1343.6 584.3h4.4v4.4h-4.4zM1342.5 584.4h4.4v4.4h-4.4zM1347.0 584.4h4.4v4.4h-4.4zM1339.2 585.1h4.4v4.4h-4.4zM1341.7 585.2h4.4v4.4h-4.4zM1343.7 585.9h4.4v4.4h-4.4zM1338.9 588.8h4.4v4.4h-4.4zM1340.0 589.0h4.4v4.4h-4.4zM1343.5 589.2h4.4v4.4h-4.4zM1335.1 589.6h4.4v4.4h-4.4zM1339.9 589.7h4.4v4.4h-4.4zM1338.6 590.6h4.4v4.4h-4.4zM1344.1 591.0h4.4v4.4h-4.4zM1335.7 592.0h4.4v4.4h-4.4zM1336.4 592.4h4.4v4.4h-4.4zM1334.1 592.5h4.4v4.4h-4.4zM1332.9 593.0h4.4v4.4h-4.4zM1334.8 593.2h4.4v4.4h-4.4zM1339.1 593.2h4.4v4.4h-4.4zM1330.4 595.0h4.4v4.4h-4.4zM1325.8 597.5h4.4v4.4h-4.4zM1332.3 597.8h4.4v4.4h-4.4zM1330.6 598.8h4.4v4.4h-4.4zM1328.2 598.8h4.4v4.4h-4.4zM1326.9 599.0h4.4v4.4h-4.4zM1328.0 599.0h4.4v4.4h-4.4zM1329.7 600.1h4.4v4.4h-4.4zM1325.4 600.1h4.4v4.4h-4.4zM1326.9 601.5h4.4v4.4h-4.4zM1327.7 601.7h4.4v4.4h-4.4zM1330.3 602.4h4.4v4.4h-4.4zM1324.7 603.0h4.4v4.4h-4.4zM1327.4 603.1h4.4v4.4h-4.4zM1333.9 603.4h4.4v4.4h-4.4zM1325.5 603.5h4.4v4.4h-4.4zM1325.9 603.7h4.4v4.4h-4.4zM1322.6 604.0h4.4v4.4h-4.4zM1323.8 604.8h4.4v4.4h-4.4zM1330.6 605.2h4.4v4.4h-4.4zM1328.0 605.2h4.4v4.4h-4.4zM1321.7 605.6h4.4v4.4h-4.4zM1328.0 606.4h4.4v4.4h-4.4zM1322.2 606.5h4.4v4.4h-4.4zM1320.8 606.9h4.4v4.4h-4.4zM1328.4 607.0h4.4v4.4h-4.4zM1322.4 607.1h4.4v4.4h-4.4zM1326.9 607.3h4.4v4.4h-4.4zM1324.3 607.6h4.4v4.4h-4.4zM1325.9 608.5h4.4v4.4h-4.4zM1319.3 609.4h4.4v4.4h-4.4zM1330.6 609.4h4.4v4.4h-4.4zM1327.6 610.4h4.4v4.4h-4.4zM1325.0 610.4h4.4v4.4h-4.4zM1322.4 612.1h4.4v4.4h-4.4zM1318.1 612.3h4.4v4.4h-4.4zM1314.7 612.9h4.4v4.4h-4.4zM1320.1 614.5h4.4v4.4h-4.4zM1322.1 614.5h4.4v4.4h-4.4zM1326.6 615.4h4.4v4.4h-4.4zM1324.5 616.1h4.4v4.4h-4.4zM1319.9 616.3h4.4v4.4h-4.4zM1317.2 616.7h4.4v4.4h-4.4zM1320.5 616.8h4.4v4.4h-4.4zM1311.4 618.3h4.4v4.4h-4.4zM1320.4 618.3h4.4v4.4h-4.4zM1314.1 619.4h4.4v4.4h-4.4zM1313.9 619.9h4.4v4.4h-4.4zM1313.5 620.9h4.4v4.4h-4.4zM1320.2 620.9h4.4v4.4h-4.4zM1317.6 621.1h4.4v4.4h-4.4zM1321.4 621.4h4.4v4.4h-4.4zM1316.4 621.5h4.4v4.4h-4.4zM1316.8 622.6h4.4v4.4h-4.4zM1312.1 622.6h4.4v4.4h-4.4zM1315.9 623.3h4.4v4.4h-4.4zM1318.2 623.4h4.4v4.4h-4.4zM1310.7 625.7h4.4v4.4h-4.4zM1312.7 625.8h4.4v4.4h-4.4zM1316.7 626.6h4.4v4.4h-4.4zM1307.9 626.7h4.4v4.4h-4.4zM1311.0 627.0h4.4v4.4h-4.4zM1317.9 627.1h4.4v4.4h-4.4zM1317.8 627.6h4.4v4.4h-4.4zM1311.7 627.6h4.4v4.4h-4.4zM1316.1 627.7h4.4v4.4h-4.4zM1315.2 628.3h4.4v4.4h-4.4zM1308.5 628.7h4.4v4.4h-4.4zM1312.1 629.3h4.4v4.4h-4.4zM1315.2 630.0h4.4v4.4h-4.4zM1307.4 631.0h4.4v4.4h-4.4zM1311.5 632.5h4.4v4.4h-4.4zM1304.5 632.5h4.4v4.4h-4.4zM1310.3 633.2h4.4v4.4h-4.4zM1304.6 634.5h4.4v4.4h-4.4zM1310.5 634.7h4.4v4.4h-4.4zM1305.5 635.4h4.4v4.4h-4.4zM1305.7 635.6h4.4v4.4h-4.4zM1309.2 635.8h4.4v4.4h-4.4zM1297.9 635.9h4.4v4.4h-4.4zM1309.0 636.6h4.4v4.4h-4.4zM1305.1 638.3h4.4v4.4h-4.4zM1296.2 641.5h4.4v4.4h-4.4zM1301.3 642.4h4.4v4.4h-4.4zM1303.8 642.7h4.4v4.4h-4.4zM1302.2 642.7h4.4v4.4h-4.4zM1306.8 644.3h4.4v4.4h-4.4zM1300.7 644.5h4.4v4.4h-4.4zM1293.5 645.9h4.4v4.4h-4.4zM1296.8 646.9h4.4v4.4h-4.4zM1297.2 648.0h4.4v4.4h-4.4zM1295.2 648.2h4.4v4.4h-4.4zM1294.8 648.7h4.4v4.4h-4.4zM1297.5 650.8h4.4v4.4h-4.4zM1298.3 651.5h4.4v4.4h-4.4zM1297.6 652.0h4.4v4.4h-4.4zM1292.2 653.5h4.4v4.4h-4.4zM1294.3 654.2h4.4v4.4h-4.4zM1292.5 654.4h4.4v4.4h-4.4zM1293.1 654.6h4.4v4.4h-4.4zM1292.2 654.8h4.4v4.4h-4.4zM1293.9 655.6h4.4v4.4h-4.4zM1291.6 655.9h4.4v4.4h-4.4zM1289.2 656.6h4.4v4.4h-4.4zM1285.6 657.5h4.4v4.4h-4.4zM1290.3 657.7h4.4v4.4h-4.4zM1290.7 658.4h4.4v4.4h-4.4zM1289.4 658.6h4.4v4.4h-4.4zM1297.8 659.2h4.4v4.4h-4.4zM1286.9 659.8h4.4v4.4h-4.4zM1285.4 660.5h4.4v4.4h-4.4zM1289.9 660.7h4.4v4.4h-4.4zM1289.3 660.8h4.4v4.4h-4.4zM1289.7 661.0h4.4v4.4h-4.4zM1289.7 661.5h4.4v4.4h-4.4zM1286.4 663.6h4.4v4.4h-4.4zM1284.6 664.6h4.4v4.4h-4.4zM1289.1 664.7h4.4v4.4h-4.4zM1288.3 665.0h4.4v4.4h-4.4zM1281.5 665.7h4.4v4.4h-4.4zM1288.0 665.8h4.4v4.4h-4.4zM1282.1 667.5h4.4v4.4h-4.4zM1290.5 667.5h4.4v4.4h-4.4zM1285.8 668.6h4.4v4.4h-4.4zM1290.6 669.6h4.4v4.4h-4.4zM1284.0 670.3h4.4v4.4h-4.4zM1284.4 670.5h4.4v4.4h-4.4zM1285.8 671.9h4.4v4.4h-4.4zM1286.9 672.5h4.4v4.4h-4.4zM1283.4 673.2h4.4v4.4h-4.4zM1284.2 673.2h4.4v4.4h-4.4zM1277.9 675.8h4.4v4.4h-4.4zM1284.2 676.3h4.4v4.4h-4.4zM1281.5 676.4h4.4v4.4h-4.4zM1280.6 677.6h4.4v4.4h-4.4zM1283.3 677.7h4.4v4.4h-4.4zM1279.2 678.5h4.4v4.4h-4.4zM1280.5 678.6h4.4v4.4h-4.4zM1277.4 678.9h4.4v4.4h-4.4zM1281.4 679.4h4.4v4.4h-4.4zM1280.6 680.4h4.4v4.4h-4.4zM1274.9 680.6h4.4v4.4h-4.4zM1282.5 680.7h4.4v4.4h-4.4zM1279.4 680.9h4.4v4.4h-4.4zM1281.7 681.1h4.4v4.4h-4.4zM1271.9 681.8h4.4v4.4h-4.4zM1279.4 681.8h4.4v4.4h-4.4zM1279.2 682.5h4.4v4.4h-4.4zM1275.9 682.5h4.4v4.4h-4.4zM1280.4 682.9h4.4v4.4h-4.4zM1279.7 683.7h4.4v4.4h-4.4zM1280.0 683.7h4.4v4.4h-4.4zM1279.7 683.8h4.4v4.4h-4.4zM1275.7 684.0h4.4v4.4h-4.4zM1277.8 684.0h4.4v4.4h-4.4zM1269.7 684.3h4.4v4.4h-4.4zM1278.2 684.8h4.4v4.4h-4.4zM1277.7 684.9h4.4v4.4h-4.4zM1281.7 685.4h4.4v4.4h-4.4zM1282.0 686.7h4.4v4.4h-4.4zM1274.4 686.7h4.4v4.4h-4.4zM1272.6 688.5h4.4v4.4h-4.4zM1274.5 688.7h4.4v4.4h-4.4zM1274.6 689.9h4.4v4.4h-4.4zM1275.4 690.1h4.4v4.4h-4.4zM1268.3 691.7h4.4v4.4h-4.4zM1274.6 691.8h4.4v4.4h-4.4zM1272.2 692.1h4.4v4.4h-4.4zM1274.8 692.8h4.4v4.4h-4.4zM1279.4 693.1h4.4v4.4h-4.4zM1278.7 693.5h4.4v4.4h-4.4zM1277.0 693.6h4.4v4.4h-4.4zM1272.5 694.1h4.4v4.4h-4.4zM1267.0 694.1h4.4v4.4h-4.4zM1272.9 694.6h4.4v4.4h-4.4zM1267.5 694.7h4.4v4.4h-4.4zM1271.5 695.4h4.4v4.4h-4.4zM1274.0 695.5h4.4v4.4h-4.4zM1263.7 696.3h4.4v4.4h-4.4zM1265.8 697.6h4.4v4.4h-4.4zM1275.5 697.7h4.4v4.4h-4.4zM1264.7 697.8h4.4v4.4h-4.4zM1266.3 697.9h4.4v4.4h-4.4zM1273.5 698.1h4.4v4.4h-4.4zM1270.9 698.1h4.4v4.4h-4.4zM1270.0 698.3h4.4v4.4h-4.4zM1264.9 700.0h4.4v4.4h-4.4zM1268.8 700.4h4.4v4.4h-4.4zM1267.6 702.2h4.4v4.4h-4.4zM1264.2 702.4h4.4v4.4h-4.4zM1267.6 704.2h4.4v4.4h-4.4zM1271.3 704.6h4.4v4.4h-4.4zM1266.6 704.8h4.4v4.4h-4.4zM1270.0 705.9h4.4v4.4h-4.4zM1278.1 706.3h4.4v4.4h-4.4zM1268.7 706.5h4.4v4.4h-4.4zM1265.1 706.8h4.4v4.4h-4.4zM1265.3 707.1h4.4v4.4h-4.4zM1264.9 707.3h4.4v4.4h-4.4zM1265.5 707.5h4.4v4.4h-4.4zM1265.1 708.0h4.4v4.4h-4.4zM1261.1 708.2h4.4v4.4h-4.4zM1265.9 709.0h4.4v4.4h-4.4zM1264.7 709.1h4.4v4.4h-4.4zM1265.3 711.1h4.4v4.4h-4.4zM1266.1 711.2h4.4v4.4h-4.4zM1266.3 711.8h4.4v4.4h-4.4zM1264.8 713.1h4.4v4.4h-4.4zM1263.4 713.2h4.4v4.4h-4.4zM1259.2 713.8h4.4v4.4h-4.4zM1262.6 715.2h4.4v4.4h-4.4zM1266.4 715.8h4.4v4.4h-4.4zM1255.0 716.0h4.4v4.4h-4.4zM1259.4 717.8h4.4v4.4h-4.4zM1259.7 719.3h4.4v4.4h-4.4zM1261.7 719.4h4.4v4.4h-4.4zM1259.3 719.6h4.4v4.4h-4.4zM1259.7 721.8h4.4v4.4h-4.4zM1254.6 722.2h4.4v4.4h-4.4zM1257.8 723.4h4.4v4.4h-4.4zM1251.5 723.9h4.4v4.4h-4.4zM1256.0 723.9h4.4v4.4h-4.4zM1260.1 724.5h4.4v4.4h-4.4zM1261.2 725.5h4.4v4.4h-4.4zM1249.7 725.6h4.4v4.4h-4.4zM1257.8 725.7h4.4v4.4h-4.4zM1251.9 725.8h4.4v4.4h-4.4zM1253.8 726.5h4.4v4.4h-4.4zM1256.0 726.8h4.4v4.4h-4.4zM1252.8 727.3h4.4v4.4h-4.4zM1251.6 728.1h4.4v4.4h-4.4zM1247.6 728.7h4.4v4.4h-4.4zM1252.4 729.8h4.4v4.4h-4.4zM1246.8 729.8h4.4v4.4h-4.4zM1251.7 730.5h4.4v4.4h-4.4zM1253.9 731.2h4.4v4.4h-4.4zM1257.1 732.1h4.4v4.4h-4.4zM1242.4 732.3h4.4v4.4h-4.4zM1253.0 732.5h4.4v4.4h-4.4zM1256.0 732.8h4.4v4.4h-4.4zM1247.5 732.9h4.4v4.4h-4.4zM1245.6 733.8h4.4v4.4h-4.4zM1251.6 734.7h4.4v4.4h-4.4zM1248.2 734.8h4.4v4.4h-4.4zM1249.9 735.0h4.4v4.4h-4.4zM1249.8 735.0h4.4v4.4h-4.4zM1249.9 735.3h4.4v4.4h-4.4zM1240.8 735.4h4.4v4.4h-4.4zM1243.2 735.9h4.4v4.4h-4.4zM1245.8 736.2h4.4v4.4h-4.4zM1243.4 736.3h4.4v4.4h-4.4zM1251.2 736.7h4.4v4.4h-4.4zM1246.9 736.8h4.4v4.4h-4.4zM1251.4 737.1h4.4v4.4h-4.4zM1244.0 738.3h4.4v4.4h-4.4zM1241.5 738.9h4.4v4.4h-4.4zM1239.5 741.0h4.4v4.4h-4.4zM1243.5 741.2h4.4v4.4h-4.4zM1240.3 741.3h4.4v4.4h-4.4zM1237.2 742.4h4.4v4.4h-4.4zM1237.6 743.7h4.4v4.4h-4.4zM1241.1 744.3h4.4v4.4h-4.4zM1241.1 744.7h4.4v4.4h-4.4zM1239.8 745.6h4.4v4.4h-4.4zM1241.2 745.6h4.4v4.4h-4.4zM1239.8 745.7h4.4v4.4h-4.4zM1239.5 745.8h4.4v4.4h-4.4zM1237.3 746.0h4.4v4.4h-4.4zM1230.4 746.0h4.4v4.4h-4.4zM1247.3 746.1h4.4v4.4h-4.4zM1236.1 746.2h4.4v4.4h-4.4zM1236.5 746.5h4.4v4.4h-4.4zM1238.6 746.8h4.4v4.4h-4.4zM1238.7 747.2h4.4v4.4h-4.4zM1239.8 747.3h4.4v4.4h-4.4zM1242.4 747.4h4.4v4.4h-4.4zM1240.5 748.1h4.4v4.4h-4.4zM1239.2 748.3h4.4v4.4h-4.4zM1232.7 748.6h4.4v4.4h-4.4zM1240.2 749.0h4.4v4.4h-4.4zM1243.8 749.5h4.4v4.4h-4.4zM1239.7 749.6h4.4v4.4h-4.4zM1240.8 749.9h4.4v4.4h-4.4zM1236.9 750.6h4.4v4.4h-4.4zM1241.0 751.7h4.4v4.4h-4.4zM1233.5 751.7h4.4v4.4h-4.4zM1233.6 752.5h4.4v4.4h-4.4zM1234.5 753.5h4.4v4.4h-4.4zM1231.6 753.6h4.4v4.4h-4.4zM1231.8 754.3h4.4v4.4h-4.4zM1232.6 754.4h4.4v4.4h-4.4zM1236.4 754.9h4.4v4.4h-4.4zM1235.5 755.1h4.4v4.4h-4.4zM1229.1 755.3h4.4v4.4h-4.4zM1233.8 756.1h4.4v4.4h-4.4zM1231.6 756.1h4.4v4.4h-4.4zM1229.5 756.3h4.4v4.4h-4.4zM1229.7 757.0h4.4v4.4h-4.4zM1226.0 758.4h4.4v4.4h-4.4zM1228.3 758.6h4.4v4.4h-4.4zM1234.3 758.8h4.4v4.4h-4.4zM1230.6 758.9h4.4v4.4h-4.4zM1234.4 760.0h4.4v4.4h-4.4zM1233.9 760.7h4.4v4.4h-4.4zM1226.7 761.0h4.4v4.4h-4.4zM1227.8 761.2h4.4v4.4h-4.4zM1226.5 761.8h4.4v4.4h-4.4zM1231.2 761.9h4.4v4.4h-4.4zM1228.6 762.0h4.4v4.4h-4.4zM1228.7 763.6h4.4v4.4h-4.4zM1868.7 147.9h4.4v4.4h-4.4zM1867.2 148.0h4.4v4.4h-4.4zM1870.7 148.3h4.4v4.4h-4.4zM1864.8 149.1h4.4v4.4h-4.4zM1869.2 149.2h4.4v4.4h-4.4zM1867.3 149.2h4.4v4.4h-4.4zM1872.4 149.4h4.4v4.4h-4.4zM1869.9 150.1h4.4v4.4h-4.4zM1871.8 150.5h4.4v4.4h-4.4zM1868.8 151.3h4.4v4.4h-4.4zM1865.1 151.6h4.4v4.4h-4.4zM1870.8 153.3h4.4v4.4h-4.4zM1864.9 153.3h4.4v4.4h-4.4zM1864.7 153.7h4.4v4.4h-4.4zM1864.4 153.7h4.4v4.4h-4.4zM1865.7 156.2h4.4v4.4h-4.4zM1863.0 156.6h4.4v4.4h-4.4zM1863.1 157.2h4.4v4.4h-4.4zM1863.9 158.1h4.4v4.4h-4.4zM1860.7 159.0h4.4v4.4h-4.4zM1862.2 159.3h4.4v4.4h-4.4zM1862.7 159.4h4.4v4.4h-4.4zM1861.2 159.6h4.4v4.4h-4.4zM1861.7 160.5h4.4v4.4h-4.4zM1861.8 160.6h4.4v4.4h-4.4zM1854.6 160.7h4.4v4.4h-4.4zM1859.3 160.8h4.4v4.4h-4.4zM1860.7 160.9h4.4v4.4h-4.4zM1856.8 161.2h4.4v4.4h-4.4zM1860.5 161.2h4.4v4.4h-4.4zM1868.6 161.3h4.4v4.4h-4.4zM1859.5 161.5h4.4v4.4h-4.4zM1851.9 163.0h4.4v4.4h-4.4zM1862.5 163.4h4.4v4.4h-4.4zM1857.0 163.6h4.4v4.4h-4.4zM1856.7 164.0h4.4v4.4h-4.4zM1852.7 164.1h4.4v4.4h-4.4zM1859.1 164.2h4.4v4.4h-4.4zM1856.4 165.2h4.4v4.4h-4.4zM1856.6 165.5h4.4v4.4h-4.4zM1858.7 165.9h4.4v4.4h-4.4zM1856.9 168.8h4.4v4.4h-4.4zM1858.0 169.1h4.4v4.4h-4.4zM1852.7 169.2h4.4v4.4h-4.4zM1849.8 169.3h4.4v4.4h-4.4zM1855.1 169.6h4.4v4.4h-4.4zM1846.1 170.2h4.4v4.4h-4.4zM1852.2 170.2h4.4v4.4h-4.4zM1846.0 171.6h4.4v4.4h-4.4zM1845.5 173.5h4.4v4.4h-4.4zM1852.8 174.6h4.4v4.4h-4.4zM1845.0 174.8h4.4v4.4h-4.4zM1849.1 175.1h4.4v4.4h-4.4zM1848.3 175.4h4.4v4.4h-4.4zM1846.4 176.9h4.4v4.4h-4.4zM1840.2 177.2h4.4v4.4h-4.4zM1838.7 178.1h4.4v4.4h-4.4zM1848.6 178.2h4.4v4.4h-4.4zM1837.7 181.2h4.4v4.4h-4.4zM1839.9 182.0h4.4v4.4h-4.4zM1833.6 182.2h4.4v4.4h-4.4zM1834.3 182.8h4.4v4.4h-4.4zM1842.9 182.9h4.4v4.4h-4.4zM1835.2 183.4h4.4v4.4h-4.4zM1843.0 183.7h4.4v4.4h-4.4zM1840.5 184.8h4.4v4.4h-4.4zM1831.3 184.9h4.4v4.4h-4.4zM1834.7 186.7h4.4v4.4h-4.4zM1829.4 187.3h4.4v4.4h-4.4zM1836.9 187.3h4.4v4.4h-4.4zM1830.8 187.7h4.4v4.4h-4.4zM1834.6 188.0h4.4v4.4h-4.4zM1826.7 189.3h4.4v4.4h-4.4zM1830.7 189.4h4.4v4.4h-4.4zM1834.0 189.5h4.4v4.4h-4.4zM1837.3 189.7h4.4v4.4h-4.4zM1832.5 189.9h4.4v4.4h-4.4zM1836.3 189.9h4.4v4.4h-4.4zM1833.5 190.1h4.4v4.4h-4.4zM1826.3 190.5h4.4v4.4h-4.4zM1832.3 192.4h4.4v4.4h-4.4zM1824.2 192.6h4.4v4.4h-4.4zM1823.3 193.0h4.4v4.4h-4.4zM1826.6 194.4h4.4v4.4h-4.4zM1822.8 195.7h4.4v4.4h-4.4zM1828.3 196.3h4.4v4.4h-4.4zM1826.5 197.4h4.4v4.4h-4.4zM1820.1 197.8h4.4v4.4h-4.4zM1822.3 199.2h4.4v4.4h-4.4zM1822.1 199.8h4.4v4.4h-4.4zM1823.9 200.1h4.4v4.4h-4.4zM1818.5 202.1h4.4v4.4h-4.4zM1816.1 203.7h4.4v4.4h-4.4zM1814.8 203.7h4.4v4.4h-4.4zM1815.2 204.5h4.4v4.4h-4.4zM1820.0 204.8h4.4v4.4h-4.4zM1817.9 205.9h4.4v4.4h-4.4zM1813.5 206.9h4.4v4.4h-4.4zM1816.0 207.7h4.4v4.4h-4.4zM1814.6 208.7h4.4v4.4h-4.4zM1817.2 211.8h4.4v4.4h-4.4zM1806.7 212.1h4.4v4.4h-4.4zM1812.4 213.8h4.4v4.4h-4.4zM1807.9 213.9h4.4v4.4h-4.4zM1810.8 214.8h4.4v4.4h-4.4zM1804.4 214.9h4.4v4.4h-4.4zM1806.3 215.6h4.4v4.4h-4.4zM1821.2 215.7h4.4v4.4h-4.4zM1803.0 216.2h4.4v4.4h-4.4zM1808.9 217.2h4.4v4.4h-4.4zM1812.0 217.7h4.4v4.4h-4.4zM1806.9 218.6h4.4v4.4h-4.4zM1801.2 220.2h4.4v4.4h-4.4zM1807.1 220.3h4.4v4.4h-4.4zM1802.7 221.8h4.4v4.4h-4.4zM1804.5 223.2h4.4v4.4h-4.4zM1798.3 224.9h4.4v4.4h-4.4zM1801.8 225.4h4.4v4.4h-4.4zM1801.6 226.4h4.4v4.4h-4.4zM1795.8 226.8h4.4v4.4h-4.4zM1796.1 227.0h4.4v4.4h-4.4zM1793.8 227.3h4.4v4.4h-4.4zM1797.0 227.4h4.4v4.4h-4.4zM1794.6 227.4h4.4v4.4h-4.4zM1800.8 228.2h4.4v4.4h-4.4zM1796.3 228.4h4.4v4.4h-4.4zM1800.1 228.5h4.4v4.4h-4.4zM1797.6 229.1h4.4v4.4h-4.4zM1794.1 229.7h4.4v4.4h-4.4zM1794.6 230.4h4.4v4.4h-4.4zM1788.9 231.2h4.4v4.4h-4.4zM1797.6 231.4h4.4v4.4h-4.4zM1787.6 231.5h4.4v4.4h-4.4zM1790.9 233.3h4.4v4.4h-4.4zM1792.7 233.3h4.4v4.4h-4.4zM1790.5 234.3h4.4v4.4h-4.4zM1789.4 234.7h4.4v4.4h-4.4zM1793.3 235.3h4.4v4.4h-4.4zM1789.6 236.2h4.4v4.4h-4.4zM1790.1 236.4h4.4v4.4h-4.4zM1791.0 236.7h4.4v4.4h-4.4zM1788.1 237.3h4.4v4.4h-4.4zM1790.4 237.5h4.4v4.4h-4.4zM1789.5 237.5h4.4v4.4h-4.4zM1790.7 238.0h4.4v4.4h-4.4zM1784.5 238.1h4.4v4.4h-4.4zM1785.8 240.4h4.4v4.4h-4.4zM1788.3 240.8h4.4v4.4h-4.4zM1783.5 240.9h4.4v4.4h-4.4zM1785.3 241.5h4.4v4.4h-4.4zM1785.6 241.5h4.4v4.4h-4.4zM1786.4 242.3h4.4v4.4h-4.4zM1782.2 242.6h4.4v4.4h-4.4zM1779.6 242.9h4.4v4.4h-4.4zM1786.1 243.2h4.4v4.4h-4.4zM1784.8 243.3h4.4v4.4h-4.4zM1778.9 243.3h4.4v4.4h-4.4zM1780.3 244.5h4.4v4.4h-4.4zM1777.0 245.1h4.4v4.4h-4.4zM1775.4 246.7h4.4v4.4h-4.4zM1779.9 246.9h4.4v4.4h-4.4zM1774.6 247.4h4.4v4.4h-4.4zM1770.8 249.3h4.4v4.4h-4.4zM1770.9 249.4h4.4v4.4h-4.4zM1778.6 250.4h4.4v4.4h-4.4zM1772.1 250.9h4.4v4.4h-4.4zM1768.7 252.7h4.4v4.4h-4.4zM1769.0 253.2h4.4v4.4h-4.4zM1771.8 253.3h4.4v4.4h-4.4zM1769.2 254.7h4.4v4.4h-4.4zM1768.0 255.0h4.4v4.4h-4.4zM1765.2 255.4h4.4v4.4h-4.4zM1766.7 256.8h4.4v4.4h-4.4zM1759.1 257.1h4.4v4.4h-4.4zM1764.2 257.7h4.4v4.4h-4.4zM1763.6 258.1h4.4v4.4h-4.4zM1767.2 258.7h4.4v4.4h-4.4zM1763.2 259.7h4.4v4.4h-4.4zM1766.1 260.0h4.4v4.4h-4.4zM1766.1 260.3h4.4v4.4h-4.4zM1760.4 260.5h4.4v4.4h-4.4zM1763.0 260.7h4.4v4.4h-4.4zM1759.7 261.4h4.4v4.4h-4.4zM1761.7 261.5h4.4v4.4h-4.4zM1761.2 262.5h4.4v4.4h-4.4zM1760.2 262.6h4.4v4.4h-4.4zM1761.0 262.8h4.4v4.4h-4.4zM1757.6 263.6h4.4v4.4h-4.4zM1749.9 265.4h4.4v4.4h-4.4zM1757.5 265.9h4.4v4.4h-4.4zM1753.8 267.6h4.4v4.4h-4.4zM1755.9 267.9h4.4v4.4h-4.4zM1757.6 269.1h4.4v4.4h-4.4zM1757.7 269.4h4.4v4.4h-4.4zM1754.9 270.3h4.4v4.4h-4.4zM1751.5 270.9h4.4v4.4h-4.4zM1750.5 270.9h4.4v4.4h-4.4zM1755.5 271.0h4.4v4.4h-4.4zM1750.5 271.6h4.4v4.4h-4.4zM1750.8 271.7h4.4v4.4h-4.4zM1750.8 272.3h4.4v4.4h-4.4zM1751.2 273.0h4.4v4.4h-4.4zM1745.2 275.4h4.4v4.4h-4.4zM1743.5 275.7h4.4v4.4h-4.4zM1746.8 275.9h4.4v4.4h-4.4zM1748.0 278.2h4.4v4.4h-4.4zM1742.7 278.3h4.4v4.4h-4.4zM1744.5 278.5h4.4v4.4h-4.4zM1744.4 279.3h4.4v4.4h-4.4zM1737.2 279.3h4.4v4.4h-4.4zM1741.0 279.3h4.4v4.4h-4.4zM1742.6 279.7h4.4v4.4h-4.4zM1737.1 280.1h4.4v4.4h-4.4zM1737.6 281.4h4.4v4.4h-4.4zM1737.9 281.7h4.4v4.4h-4.4zM1742.3 283.5h4.4v4.4h-4.4zM1731.9 284.0h4.4v4.4h-4.4zM1738.7 284.1h4.4v4.4h-4.4zM1739.3 284.9h4.4v4.4h-4.4zM1738.3 284.9h4.4v4.4h-4.4zM1730.8 285.3h4.4v4.4h-4.4zM1737.1 285.3h4.4v4.4h-4.4zM1732.3 286.0h4.4v4.4h-4.4zM1734.5 286.6h4.4v4.4h-4.4zM1729.7 288.6h4.4v4.4h-4.4zM1735.0 290.5h4.4v4.4h-4.4zM1728.9 290.7h4.4v4.4h-4.4zM1729.7 291.0h4.4v4.4h-4.4zM1736.5 292.0h4.4v4.4h-4.4zM1732.9 293.0h4.4v4.4h-4.4zM1719.1 293.7h4.4v4.4h-4.4zM1727.8 294.0h4.4v4.4h-4.4zM1724.6 294.5h4.4v4.4h-4.4zM1729.3 294.7h4.4v4.4h-4.4zM1723.9 294.9h4.4v4.4h-4.4zM1731.7 296.5h4.4v4.4h-4.4zM1728.1 297.3h4.4v4.4h-4.4zM1724.6 297.4h4.4v4.4h-4.4zM1718.7 298.9h4.4v4.4h-4.4zM1715.6 299.5h4.4v4.4h-4.4zM1725.6 299.5h4.4v4.4h-4.4zM1723.4 300.5h4.4v4.4h-4.4zM1722.8 300.6h4.4v4.4h-4.4zM1715.2 301.8h4.4v4.4h-4.4zM1721.7 302.0h4.4v4.4h-4.4zM1718.2 302.8h4.4v4.4h-4.4zM1717.5 303.3h4.4v4.4h-4.4zM1718.9 304.1h4.4v4.4h-4.4zM1722.2 304.3h4.4v4.4h-4.4zM1724.1 304.6h4.4v4.4h-4.4zM1710.0 308.4h4.4v4.4h-4.4zM1708.1 308.8h4.4v4.4h-4.4zM1709.9 309.6h4.4v4.4h-4.4zM1714.2 310.0h4.4v4.4h-4.4zM1708.0 311.9h4.4v4.4h-4.4zM1714.0 312.3h4.4v4.4h-4.4zM1713.6 312.4h4.4v4.4h-4.4zM1718.4 313.1h4.4v4.4h-4.4zM1712.1 313.6h4.4v4.4h-4.4zM1711.3 314.4h4.4v4.4h-4.4zM1711.3 314.7h4.4v4.4h-4.4zM1708.1 314.9h4.4v4.4h-4.4zM1706.6 315.3h4.4v4.4h-4.4zM1711.4 315.4h4.4v4.4h-4.4zM1701.9 315.4h4.4v4.4h-4.4zM1702.0 315.8h4.4v4.4h-4.4zM1707.2 316.6h4.4v4.4h-4.4zM1707.9 316.9h4.4v4.4h-4.4zM1705.1 317.0h4.4v4.4h-4.4zM1706.5 318.0h4.4v4.4h-4.4zM1706.0 318.4h4.4v4.4h-4.4zM1708.2 318.7h4.4v4.4h-4.4zM1710.4 319.1h4.4v4.4h-4.4zM1703.2 320.1h4.4v4.4h-4.4zM1710.1 320.2h4.4v4.4h-4.4zM1695.3 321.7h4.4v4.4h-4.4zM1695.4 322.6h4.4v4.4h-4.4zM1694.2 323.2h4.4v4.4h-4.4zM1698.7 323.6h4.4v4.4h-4.4zM1704.9 323.7h4.4v4.4h-4.4zM1696.3 324.4h4.4v4.4h-4.4zM1699.0 325.2h4.4v4.4h-4.4zM1701.2 326.3h4.4v4.4h-4.4zM1697.5 328.4h4.4v4.4h-4.4zM1694.3 329.1h4.4v4.4h-4.4zM1693.1 329.6h4.4v4.4h-4.4zM1695.7 329.7h4.4v4.4h-4.4zM1691.7 330.1h4.4v4.4h-4.4zM1694.1 330.4h4.4v4.4h-4.4zM1693.9 330.9h4.4v4.4h-4.4zM1689.2 331.0h4.4v4.4h-4.4zM1686.8 332.3h4.4v4.4h-4.4zM1696.0 334.8h4.4v4.4h-4.4zM1682.7 334.9h4.4v4.4h-4.4zM1685.6 335.2h4.4v4.4h-4.4zM1688.9 335.7h4.4v4.4h-4.4zM1689.8 335.9h4.4v4.4h-4.4zM1688.1 336.0h4.4v4.4h-4.4zM1693.0 336.5h4.4v4.4h-4.4zM1685.7 338.3h4.4v4.4h-4.4zM1682.5 340.2h4.4v4.4h-4.4zM1678.6 340.8h4.4v4.4h-4.4zM1682.4 341.5h4.4v4.4h-4.4zM1681.7 341.8h4.4v4.4h-4.4zM1680.3 344.0h4.4v4.4h-4.4zM1682.9 344.2h4.4v4.4h-4.4zM1681.6 344.2h4.4v4.4h-4.4zM1682.4 344.7h4.4v4.4h-4.4zM1684.9 344.7h4.4v4.4h-4.4zM1677.9 345.9h4.4v4.4h-4.4zM1674.7 347.5h4.4v4.4h-4.4zM1674.4 350.5h4.4v4.4h-4.4zM1672.1 350.5h4.4v4.4h-4.4zM1669.0 350.6h4.4v4.4h-4.4zM1680.2 350.8h4.4v4.4h-4.4zM1679.3 351.3h4.4v4.4h-4.4zM1675.0 352.8h4.4v4.4h-4.4zM1674.6 353.3h4.4v4.4h-4.4zM1673.8 353.5h4.4v4.4h-4.4zM1674.9 353.6h4.4v4.4h-4.4zM1671.6 355.3h4.4v4.4h-4.4zM1675.6 355.5h4.4v4.4h-4.4zM1669.9 355.7h4.4v4.4h-4.4zM1666.8 357.8h4.4v4.4h-4.4zM1673.6 357.9h4.4v4.4h-4.4zM1671.5 359.0h4.4v4.4h-4.4zM1669.1 359.9h4.4v4.4h-4.4zM1671.0 360.0h4.4v4.4h-4.4zM1671.1 360.7h4.4v4.4h-4.4zM1677.3 362.6h4.4v4.4h-4.4zM1666.3 363.3h4.4v4.4h-4.4zM1668.9 363.9h4.4v4.4h-4.4zM1670.1 364.4h4.4v4.4h-4.4zM1667.5 364.7h4.4v4.4h-4.4zM1664.0 364.8h4.4v4.4h-4.4zM1667.9 364.9h4.4v4.4h-4.4zM1668.0 365.9h4.4v4.4h-4.4zM1660.3 366.0h4.4v4.4h-4.4zM1664.0 366.5h4.4v4.4h-4.4zM1663.3 366.9h4.4v4.4h-4.4zM1663.7 366.9h4.4v4.4h-4.4zM1664.0 367.2h4.4v4.4h-4.4zM1668.8 367.4h4.4v4.4h-4.4zM1662.6 368.5h4.4v4.4h-4.4zM1663.7 368.9h4.4v4.4h-4.4zM1659.2 369.2h4.4v4.4h-4.4zM1666.6 369.4h4.4v4.4h-4.4zM1663.1 370.1h4.4v4.4h-4.4zM1658.0 370.5h4.4v4.4h-4.4zM1658.1 372.1h4.4v4.4h-4.4zM1658.5 372.2h4.4v4.4h-4.4zM1659.0 372.2h4.4v4.4h-4.4zM1660.4 372.9h4.4v4.4h-4.4zM1657.5 373.2h4.4v4.4h-4.4zM1661.1 374.9h4.4v4.4h-4.4zM1658.9 375.1h4.4v4.4h-4.4zM1659.5 375.4h4.4v4.4h-4.4zM1655.1 376.9h4.4v4.4h-4.4zM1652.7 377.0h4.4v4.4h-4.4zM1660.4 377.0h4.4v4.4h-4.4zM1659.7 377.6h4.4v4.4h-4.4zM1654.6 377.8h4.4v4.4h-4.4zM1654.1 378.2h4.4v4.4h-4.4zM1658.9 378.5h4.4v4.4h-4.4zM1657.0 379.2h4.4v4.4h-4.4zM1655.8 379.7h4.4v4.4h-4.4zM1657.2 380.0h4.4v4.4h-4.4zM1658.2 380.7h4.4v4.4h-4.4zM1656.1 380.7h4.4v4.4h-4.4zM1650.5 380.9h4.4v4.4h-4.4zM1653.4 380.9h4.4v4.4h-4.4zM1654.3 381.7h4.4v4.4h-4.4zM1651.1 381.9h4.4v4.4h-4.4zM1651.1 382.6h4.4v4.4h-4.4zM1653.0 383.3h4.4v4.4h-4.4zM1650.2 383.6h4.4v4.4h-4.4zM1650.0 384.1h4.4v4.4h-4.4zM1647.3 387.0h4.4v4.4h-4.4zM1644.9 387.5h4.4v4.4h-4.4zM1646.8 387.9h4.4v4.4h-4.4zM1649.3 388.3h4.4v4.4h-4.4zM1641.8 389.4h4.4v4.4h-4.4zM1649.9 390.4h4.4v4.4h-4.4zM1644.6 390.8h4.4v4.4h-4.4zM1645.1 390.9h4.4v4.4h-4.4zM1640.1 391.6h4.4v4.4h-4.4zM1635.2 394.0h4.4v4.4h-4.4zM1637.9 394.0h4.4v4.4h-4.4zM1633.4 394.1h4.4v4.4h-4.4zM1642.8 394.3h4.4v4.4h-4.4zM1639.4 395.1h4.4v4.4h-4.4zM1636.7 395.4h4.4v4.4h-4.4zM1634.1 396.2h4.4v4.4h-4.4zM1640.1 396.4h4.4v4.4h-4.4zM1636.3 396.4h4.4v4.4h-4.4zM1635.7 396.4h4.4v4.4h-4.4zM1629.7 397.0h4.4v4.4h-4.4zM1639.5 397.2h4.4v4.4h-4.4zM1632.2 397.2h4.4v4.4h-4.4zM1635.4 397.5h4.4v4.4h-4.4zM1635.3 397.6h4.4v4.4h-4.4zM1642.8 397.8h4.4v4.4h-4.4zM1627.4 398.1h4.4v4.4h-4.4zM1634.4 399.6h4.4v4.4h-4.4zM1626.0 400.1h4.4v4.4h-4.4zM1624.6 402.3h4.4v4.4h-4.4zM1622.7 402.8h4.4v4.4h-4.4zM1624.9 403.0h4.4v4.4h-4.4zM1627.8 403.2h4.4v4.4h-4.4zM1623.6 403.5h4.4v4.4h-4.4zM1627.4 403.7h4.4v4.4h-4.4zM1623.6 403.9h4.4v4.4h-4.4zM1626.9 404.2h4.4v4.4h-4.4zM1627.6 404.9h4.4v4.4h-4.4zM1629.4 405.1h4.4v4.4h-4.4zM1623.0 406.0h4.4v4.4h-4.4zM1618.7 406.5h4.4v4.4h-4.4zM1627.2 406.6h4.4v4.4h-4.4zM1621.7 406.9h4.4v4.4h-4.4zM1619.0 407.2h4.4v4.4h-4.4zM1624.7 408.2h4.4v4.4h-4.4zM1621.0 408.6h4.4v4.4h-4.4zM1618.5 409.0h4.4v4.4h-4.4zM1619.3 409.3h4.4v4.4h-4.4zM1622.1 410.2h4.4v4.4h-4.4zM1618.8 411.0h4.4v4.4h-4.4zM1619.2 411.9h4.4v4.4h-4.4zM1614.0 412.6h4.4v4.4h-4.4zM1611.0 413.4h4.4v4.4h-4.4zM1617.6 413.6h4.4v4.4h-4.4zM1615.9 413.6h4.4v4.4h-4.4zM1607.4 415.6h4.4v4.4h-4.4zM1608.6 417.7h4.4v4.4h-4.4zM1609.0 418.8h4.4v4.4h-4.4zM1611.5 418.8h4.4v4.4h-4.4zM1607.6 419.8h4.4v4.4h-4.4zM1604.0 420.1h4.4v4.4h-4.4zM1602.5 420.3h4.4v4.4h-4.4zM1607.0 421.7h4.4v4.4h-4.4zM1608.1 422.9h4.4v4.4h-4.4zM1602.9 423.2h4.4v4.4h-4.4zM1607.3 423.5h4.4v4.4h-4.4zM1604.9 423.6h4.4v4.4h-4.4zM1610.6 423.8h4.4v4.4h-4.4zM1602.0 424.0h4.4v4.4h-4.4zM1606.7 425.2h4.4v4.4h-4.4zM1601.9 425.4h4.4v4.4h-4.4zM1602.2 426.3h4.4v4.4h-4.4zM1603.5 427.7h4.4v4.4h-4.4zM1598.6 428.1h4.4v4.4h-4.4zM1604.5 428.3h4.4v4.4h-4.4zM1599.5 428.3h4.4v4.4h-4.4zM1603.9 428.3h4.4v4.4h-4.4zM1601.9 428.6h4.4v4.4h-4.4zM1598.4 429.3h4.4v4.4h-4.4zM1601.1 429.9h4.4v4.4h-4.4zM1600.9 430.6h4.4v4.4h-4.4zM1599.3 431.2h4.4v4.4h-4.4zM1601.1 432.4h4.4v4.4h-4.4zM1598.5 433.9h4.4v4.4h-4.4zM1601.9 434.5h4.4v4.4h-4.4zM1600.2 434.7h4.4v4.4h-4.4zM1597.7 435.4h4.4v4.4h-4.4zM1595.0 435.9h4.4v4.4h-4.4zM1596.4 436.1h4.4v4.4h-4.4zM1593.7 436.3h4.4v4.4h-4.4zM1596.8 437.8h4.4v4.4h-4.4zM1597.6 437.8h4.4v4.4h-4.4zM1593.8 439.1h4.4v4.4h-4.4zM1591.1 439.2h4.4v4.4h-4.4zM1592.1 439.3h4.4v4.4h-4.4zM1593.6 440.2h4.4v4.4h-4.4zM1589.3 441.2h4.4v4.4h-4.4zM1592.3 441.6h4.4v4.4h-4.4zM1590.8 441.9h4.4v4.4h-4.4zM1586.8 442.1h4.4v4.4h-4.4zM1585.6 443.2h4.4v4.4h-4.4zM1584.6 443.7h4.4v4.4h-4.4zM1592.7 443.8h4.4v4.4h-4.4zM1588.8 444.0h4.4v4.4h-4.4zM1582.0 447.1h4.4v4.4h-4.4zM1583.2 447.1h4.4v4.4h-4.4zM1585.9 447.1h4.4v4.4h-4.4zM1587.9 447.2h4.4v4.4h-4.4zM1586.6 447.5h4.4v4.4h-4.4zM1583.2 448.0h4.4v4.4h-4.4zM1588.8 448.4h4.4v4.4h-4.4zM1583.1 450.9h4.4v4.4h-4.4zM1584.2 451.4h4.4v4.4h-4.4zM1581.9 451.7h4.4v4.4h-4.4zM1577.4 453.0h4.4v4.4h-4.4zM1576.6 453.2h4.4v4.4h-4.4zM1582.1 453.8h4.4v4.4h-4.4zM1584.9 454.0h4.4v4.4h-4.4zM1581.8 454.3h4.4v4.4h-4.4zM1575.5 454.3h4.4v4.4h-4.4zM1574.1 454.6h4.4v4.4h-4.4zM1578.8 454.8h4.4v4.4h-4.4zM1574.4 455.2h4.4v4.4h-4.4zM1572.6 457.1h4.4v4.4h-4.4zM1577.0 457.2h4.4v4.4h-4.4zM1572.1 457.9h4.4v4.4h-4.4zM1570.5 458.2h4.4v4.4h-4.4zM1574.2 458.4h4.4v4.4h-4.4zM1568.7 459.5h4.4v4.4h-4.4zM1571.7 459.8h4.4v4.4h-4.4zM1570.9 460.0h4.4v4.4h-4.4zM1567.5 462.0h4.4v4.4h-4.4zM1564.7 462.4h4.4v4.4h-4.4zM1569.2 462.8h4.4v4.4h-4.4zM1569.8 463.5h4.4v4.4h-4.4zM1566.9 464.2h4.4v4.4h-4.4zM1571.6 464.3h4.4v4.4h-4.4zM1568.2 464.9h4.4v4.4h-4.4zM1569.5 465.1h4.4v4.4h-4.4zM1568.1 465.6h4.4v4.4h-4.4zM1567.7 466.2h4.4v4.4h-4.4zM1563.1 466.3h4.4v4.4h-4.4zM1568.8 466.8h4.4v4.4h-4.4zM1564.5 467.4h4.4v4.4h-4.4zM1559.4 467.6h4.4v4.4h-4.4zM1565.2 467.9h4.4v4.4h-4.4zM1558.7 468.8h4.4v4.4h-4.4zM1554.1 469.1h4.4v4.4h-4.4zM1563.8 470.2h4.4v4.4h-4.4zM1563.9 470.8h4.4v4.4h-4.4zM1563.2 470.9h4.4v4.4h-4.4zM1563.9 472.6h4.4v4.4h-4.4zM1557.8 472.8h4.4v4.4h-4.4zM1560.2 473.9h4.4v4.4h-4.4zM1562.5 474.4h4.4v4.4h-4.4zM1559.8 474.4h4.4v4.4h-4.4zM1553.9 475.5h4.4v4.4h-4.4zM1549.2 476.2h4.4v4.4h-4.4zM1554.0 476.4h4.4v4.4h-4.4zM1553.6 477.8h4.4v4.4h-4.4zM1554.4 478.1h4.4v4.4h-4.4zM1557.7 478.1h4.4v4.4h-4.4zM1555.6 478.2h4.4v4.4h-4.4zM1552.8 478.3h4.4v4.4h-4.4zM1554.5 479.9h4.4v4.4h-4.4zM1557.3 481.3h4.4v4.4h-4.4zM1543.3 481.7h4.4v4.4h-4.4zM1548.0 482.7h4.4v4.4h-4.4zM1555.6 483.7h4.4v4.4h-4.4zM1547.9 484.6h4.4v4.4h-4.4zM1547.5 486.2h4.4v4.4h-4.4zM1540.8 486.7h4.4v4.4h-4.4zM1541.5 486.8h4.4v4.4h-4.4zM1539.4 487.5h4.4v4.4h-4.4zM1545.8 487.9h4.4v4.4h-4.4zM1546.9 488.0h4.4v4.4h-4.4zM1542.9 488.9h4.4v4.4h-4.4zM1542.6 490.0h4.4v4.4h-4.4zM1547.2 490.3h4.4v4.4h-4.4zM1543.7 490.5h4.4v4.4h-4.4zM1549.6 490.8h4.4v4.4h-4.4zM1540.7 491.2h4.4v4.4h-4.4zM1540.6 492.1h4.4v4.4h-4.4zM1542.0 492.9h4.4v4.4h-4.4zM1537.6 493.1h4.4v4.4h-4.4zM1538.9 493.4h4.4v4.4h-4.4zM1534.5 493.7h4.4v4.4h-4.4zM1542.8 494.2h4.4v4.4h-4.4zM1544.2 494.6h4.4v4.4h-4.4zM1538.4 495.0h4.4v4.4h-4.4zM1535.1 495.8h4.4v4.4h-4.4zM1537.5 496.1h4.4v4.4h-4.4zM1535.4 496.3h4.4v4.4h-4.4zM1533.0 496.9h4.4v4.4h-4.4zM1536.0 497.4h4.4v4.4h-4.4zM1535.3 497.6h4.4v4.4h-4.4zM1534.6 498.6h4.4v4.4h-4.4zM1536.3 498.8h4.4v4.4h-4.4zM1530.2 499.4h4.4v4.4h-4.4zM1537.0 500.0h4.4v4.4h-4.4zM1536.8 500.2h4.4v4.4h-4.4zM1532.8 501.4h4.4v4.4h-4.4zM1525.9 502.5h4.4v4.4h-4.4zM1526.6 502.8h4.4v4.4h-4.4zM1523.1 503.0h4.4v4.4h-4.4zM1526.8 503.0h4.4v4.4h-4.4zM1532.0 503.1h4.4v4.4h-4.4zM1531.9 503.3h4.4v4.4h-4.4zM1527.3 503.4h4.4v4.4h-4.4zM1527.7 503.5h4.4v4.4h-4.4zM1528.2 503.9h4.4v4.4h-4.4zM1525.2 504.4h4.4v4.4h-4.4zM1529.0 505.5h4.4v4.4h-4.4zM1529.5 505.6h4.4v4.4h-4.4zM1526.6 505.6h4.4v4.4h-4.4zM1523.0 506.5h4.4v4.4h-4.4zM1524.8 506.6h4.4v4.4h-4.4zM1523.7 507.6h4.4v4.4h-4.4zM1530.2 507.8h4.4v4.4h-4.4zM1523.0 508.3h4.4v4.4h-4.4zM1521.9 508.7h4.4v4.4h-4.4zM1521.3 508.7h4.4v4.4h-4.4zM1520.4 508.8h4.4v4.4h-4.4zM1523.6 509.3h4.4v4.4h-4.4zM1521.2 510.5h4.4v4.4h-4.4zM1523.6 511.8h4.4v4.4h-4.4zM1522.0 511.8h4.4v4.4h-4.4zM1524.3 512.0h4.4v4.4h-4.4zM1522.8 512.2h4.4v4.4h-4.4zM1517.7 512.4h4.4v4.4h-4.4zM1520.5 513.4h4.4v4.4h-4.4zM1520.6 514.2h4.4v4.4h-4.4zM1520.4 514.2h4.4v4.4h-4.4zM1522.5 514.4h4.4v4.4h-4.4zM1520.8 515.4h4.4v4.4h-4.4zM1514.5 518.8h4.4v4.4h-4.4zM1514.3 519.7h4.4v4.4h-4.4zM1516.0 520.0h4.4v4.4h-4.4zM1511.5 520.2h4.4v4.4h-4.4zM1516.4 520.3h4.4v4.4h-4.4zM1511.2 520.7h4.4v4.4h-4.4zM1512.8 521.0h4.4v4.4h-4.4zM1505.7 521.4h4.4v4.4h-4.4zM1506.0 521.5h4.4v4.4h-4.4zM1515.0 521.9h4.4v4.4h-4.4zM1507.2 522.5h4.4v4.4h-4.4zM1508.7 523.1h4.4v4.4h-4.4zM1503.8 523.3h4.4v4.4h-4.4zM1507.4 523.3h4.4v4.4h-4.4zM1515.8 523.6h4.4v4.4h-4.4zM1503.3 523.6h4.4v4.4h-4.4zM1504.4 524.2h4.4v4.4h-4.4zM1503.6 524.6h4.4v4.4h-4.4zM1506.5 524.7h4.4v4.4h-4.4zM1511.8 525.5h4.4v4.4h-4.4zM1503.9 525.7h4.4v4.4h-4.4zM1502.4 526.3h4.4v4.4h-4.4zM1503.4 526.3h4.4v4.4h-4.4zM1506.4 526.9h4.4v4.4h-4.4zM1508.4 527.2h4.4v4.4h-4.4zM1508.2 527.4h4.4v4.4h-4.4zM1502.3 528.4h4.4v4.4h-4.4zM1506.2 529.4h4.4v4.4h-4.4zM1502.2 529.5h4.4v4.4h-4.4zM1499.0 531.2h4.4v4.4h-4.4zM1499.7 531.2h4.4v4.4h-4.4zM1497.0 531.3h4.4v4.4h-4.4zM1496.4 531.6h4.4v4.4h-4.4zM1499.6 531.7h4.4v4.4h-4.4zM1496.5 532.2h4.4v4.4h-4.4zM1506.6 532.5h4.4v4.4h-4.4zM1499.4 532.8h4.4v4.4h-4.4zM1506.3 533.1h4.4v4.4h-4.4zM1498.8 533.7h4.4v4.4h-4.4zM1493.3 534.6h4.4v4.4h-4.4zM1496.6 534.8h4.4v4.4h-4.4zM1496.0 535.2h4.4v4.4h-4.4zM1494.9 536.5h4.4v4.4h-4.4zM1496.1 537.4h4.4v4.4h-4.4zM1494.8 537.6h4.4v4.4h-4.4zM1495.3 537.9h4.4v4.4h-4.4zM1491.9 539.7h4.4v4.4h-4.4zM1488.0 540.2h4.4v4.4h-4.4zM1492.4 540.5h4.4v4.4h-4.4zM1487.9 542.1h4.4v4.4h-4.4zM1482.6 542.3h4.4v4.4h-4.4zM1484.3 542.3h4.4v4.4h-4.4zM1487.0 543.9h4.4v4.4h-4.4zM1485.7 544.7h4.4v4.4h-4.4zM1482.8 544.7h4.4v4.4h-4.4zM1484.7 545.1h4.4v4.4h-4.4zM1484.8 545.2h4.4v4.4h-4.4zM1485.3 545.2h4.4v4.4h-4.4zM1484.7 545.3h4.4v4.4h-4.4zM1486.9 545.4h4.4v4.4h-4.4zM1479.8 546.4h4.4v4.4h-4.4zM1482.9 546.6h4.4v4.4h-4.4zM1485.4 547.8h4.4v4.4h-4.4zM1481.8 547.8h4.4v4.4h-4.4zM1475.3 549.6h4.4v4.4h-4.4zM1480.3 550.9h4.4v4.4h-4.4zM1482.4 550.9h4.4v4.4h-4.4zM1479.4 551.5h4.4v4.4h-4.4zM1476.2 552.3h4.4v4.4h-4.4zM1480.5 552.4h4.4v4.4h-4.4zM1475.6 552.8h4.4v4.4h-4.4zM1480.5 553.0h4.4v4.4h-4.4zM1475.3 553.2h4.4v4.4h-4.4zM1474.3 554.2h4.4v4.4h-4.4zM1475.3 554.6h4.4v4.4h-4.4zM1476.3 555.1h4.4v4.4h-4.4zM1473.8 555.5h4.4v4.4h-4.4zM1471.1 555.9h4.4v4.4h-4.4zM1471.7 557.2h4.4v4.4h-4.4zM1480.9 558.6h4.4v4.4h-4.4zM1472.1 561.5h4.4v4.4h-4.4zM1468.1 562.6h4.4v4.4h-4.4zM1471.7 563.2h4.4v4.4h-4.4zM1478.6 563.8h4.4v4.4h-4.4zM1466.0 564.9h4.4v4.4h-4.4zM1465.8 566.1h4.4v4.4h-4.4zM1465.9 566.2h4.4v4.4h-4.4zM1470.5 566.4h4.4v4.4h-4.4zM1465.4 566.8h4.4v4.4h-4.4zM1463.9 567.4h4.4v4.4h-4.4zM1460.6 567.5h4.4v4.4h-4.4zM1465.3 568.2h4.4v4.4h-4.4zM1467.6 568.2h4.4v4.4h-4.4zM1472.0 568.6h4.4v4.4h-4.4zM1460.6 568.9h4.4v4.4h-4.4zM1467.0 569.7h4.4v4.4h-4.4zM1459.6 570.4h4.4v4.4h-4.4zM1465.0 570.9h4.4v4.4h-4.4zM1470.4 571.0h4.4v4.4h-4.4zM1459.2 571.9h4.4v4.4h-4.4zM1453.5 575.0h4.4v4.4h-4.4zM1460.6 575.2h4.4v4.4h-4.4zM1457.0 576.0h4.4v4.4h-4.4zM1450.4 577.1h4.4v4.4h-4.4zM1456.4 578.5h4.4v4.4h-4.4zM1462.4 578.9h4.4v4.4h-4.4zM1452.8 579.1h4.4v4.4h-4.4zM1460.3 580.2h4.4v4.4h-4.4zM1454.5 581.4h4.4v4.4h-4.4zM1453.7 581.5h4.4v4.4h-4.4zM1455.9 582.0h4.4v4.4h-4.4zM1458.0 582.1h4.4v4.4h-4.4zM1454.6 582.2h4.4v4.4h-4.4zM1452.3 583.4h4.4v4.4h-4.4zM1456.0 583.6h4.4v4.4h-4.4zM1452.1 583.8h4.4v4.4h-4.4zM1457.5 584.1h4.4v4.4h-4.4zM1454.2 584.4h4.4v4.4h-4.4zM1456.0 584.5h4.4v4.4h-4.4zM1451.6 584.5h4.4v4.4h-4.4zM1453.3 586.5h4.4v4.4h-4.4zM1455.4 586.5h4.4v4.4h-4.4zM1451.9 586.6h4.4v4.4h-4.4zM1448.6 587.0h4.4v4.4h-4.4zM1450.7 587.2h4.4v4.4h-4.4zM1460.7 587.5h4.4v4.4h-4.4zM1452.3 590.3h4.4v4.4h-4.4zM1449.4 591.5h4.4v4.4h-4.4zM1449.0 591.5h4.4v4.4h-4.4zM1444.4 592.2h4.4v4.4h-4.4zM1450.5 592.7h4.4v4.4h-4.4zM1447.9 593.2h4.4v4.4h-4.4zM1447.8 593.4h4.4v4.4h-4.4zM1450.3 594.2h4.4v4.4h-4.4zM1449.7 594.7h4.4v4.4h-4.4zM1444.1 595.3h4.4v4.4h-4.4zM1449.3 596.9h4.4v4.4h-4.4zM1443.8 597.1h4.4v4.4h-4.4zM1445.7 598.8h4.4v4.4h-4.4zM1447.7 599.0h4.4v4.4h-4.4zM1450.4 599.8h4.4v4.4h-4.4zM1443.9 600.5h4.4v4.4h-4.4zM1445.4 602.2h4.4v4.4h-4.4zM1441.2 602.6h4.4v4.4h-4.4zM1443.4 603.5h4.4v4.4h-4.4zM1445.1 604.1h4.4v4.4h-4.4zM1443.2 605.1h4.4v4.4h-4.4zM1447.2 606.5h4.4v4.4h-4.4zM1444.8 606.6h4.4v4.4h-4.4zM1445.0 606.9h4.4v4.4h-4.4zM1444.6 608.7h4.4v4.4h-4.4zM1440.5 609.7h4.4v4.4h-4.4zM1444.2 610.3h4.4v4.4h-4.4zM1447.7 610.4h4.4v4.4h-4.4zM1439.5 610.5h4.4v4.4h-4.4zM1440.1 610.9h4.4v4.4h-4.4zM1442.9 611.2h4.4v4.4h-4.4zM1438.1 612.4h4.4v4.4h-4.4zM1436.5 613.4h4.4v4.4h-4.4zM1437.1 613.6h4.4v4.4h-4.4zM1434.5 614.0h4.4v4.4h-4.4zM1440.7 614.5h4.4v4.4h-4.4zM1429.3 614.7h4.4v4.4h-4.4zM1430.9 614.8h4.4v4.4h-4.4zM1438.9 615.1h4.4v4.4h-4.4zM1437.6 615.1h4.4v4.4h-4.4zM1439.8 615.5h4.4v4.4h-4.4zM1431.8 617.6h4.4v4.4h-4.4zM1431.8 618.7h4.4v4.4h-4.4zM1433.3 618.7h4.4v4.4h-4.4zM1434.9 619.0h4.4v4.4h-4.4zM1439.7 619.1h4.4v4.4h-4.4zM1432.3 619.6h4.4v4.4h-4.4zM1437.4 619.9h4.4v4.4h-4.4zM1434.1 620.0h4.4v4.4h-4.4zM1428.7 620.5h4.4v4.4h-4.4zM1429.1 620.6h4.4v4.4h-4.4zM1429.1 623.3h4.4v4.4h-4.4zM1438.6 624.2h4.4v4.4h-4.4zM1433.8 624.9h4.4v4.4h-4.4zM1437.1 625.1h4.4v4.4h-4.4zM1428.2 626.5h4.4v4.4h-4.4zM1428.2 626.7h4.4v4.4h-4.4zM1429.4 626.9h4.4v4.4h-4.4zM1428.2 627.8h4.4v4.4h-4.4zM1427.8 628.3h4.4v4.4h-4.4zM1421.4 629.9h4.4v4.4h-4.4zM1424.3 630.4h4.4v4.4h-4.4zM1427.2 633.5h4.4v4.4h-4.4zM1423.7 634.0h4.4v4.4h-4.4zM1426.5 634.8h4.4v4.4h-4.4zM1420.8 635.2h4.4v4.4h-4.4zM1416.1 635.8h4.4v4.4h-4.4zM1417.8 637.7h4.4v4.4h-4.4zM1416.0 637.7h4.4v4.4h-4.4zM1424.7 637.7h4.4v4.4h-4.4zM1422.1 638.7h4.4v4.4h-4.4zM1417.3 639.7h4.4v4.4h-4.4zM1414.6 639.9h4.4v4.4h-4.4zM1416.9 640.6h4.4v4.4h-4.4zM1412.6 641.1h4.4v4.4h-4.4zM1412.4 641.6h4.4v4.4h-4.4zM1413.3 643.6h4.4v4.4h-4.4zM1403.9 643.7h4.4v4.4h-4.4zM1408.9 644.2h4.4v4.4h-4.4zM1411.9 645.2h4.4v4.4h-4.4zM1404.7 645.3h4.4v4.4h-4.4zM1405.9 647.0h4.4v4.4h-4.4zM1407.3 647.1h4.4v4.4h-4.4zM1409.5 648.8h4.4v4.4h-4.4zM1407.4 648.9h4.4v4.4h-4.4zM1402.4 649.4h4.4v4.4h-4.4zM1405.8 651.0h4.4v4.4h-4.4zM1404.2 651.1h4.4v4.4h-4.4zM1401.3 651.2h4.4v4.4h-4.4zM1407.0 651.8h4.4v4.4h-4.4zM1403.4 651.9h4.4v4.4h-4.4zM1398.5 652.0h4.4v4.4h-4.4zM1401.8 653.0h4.4v4.4h-4.4zM1396.8 654.8h4.4v4.4h-4.4zM1397.6 655.8h4.4v4.4h-4.4zM1396.3 657.1h4.4v4.4h-4.4zM1399.5 658.2h4.4v4.4h-4.4zM1397.7 659.1h4.4v4.4h-4.4zM1398.7 659.7h4.4v4.4h-4.4zM1386.0 660.0h4.4v4.4h-4.4zM1395.8 661.1h4.4v4.4h-4.4zM1391.6 661.8h4.4v4.4h-4.4zM1394.9 662.5h4.4v4.4h-4.4zM1389.0 662.7h4.4v4.4h-4.4zM1390.6 662.9h4.4v4.4h-4.4zM1391.0 664.1h4.4v4.4h-4.4zM1390.9 665.5h4.4v4.4h-4.4zM1395.2 666.2h4.4v4.4h-4.4zM1391.2 666.3h4.4v4.4h-4.4zM1384.7 666.5h4.4v4.4h-4.4zM1388.9 666.6h4.4v4.4h-4.4zM1395.2 667.0h4.4v4.4h-4.4zM1390.0 668.0h4.4v4.4h-4.4zM1390.3 668.3h4.4v4.4h-4.4zM1388.9 669.6h4.4v4.4h-4.4zM1388.7 670.5h4.4v4.4h-4.4zM1387.0 670.6h4.4v4.4h-4.4zM1386.4 670.7h4.4v4.4h-4.4zM1389.4 671.4h4.4v4.4h-4.4zM1384.6 671.8h4.4v4.4h-4.4zM1385.6 671.8h4.4v4.4h-4.4zM1388.3 672.8h4.4v4.4h-4.4zM1386.7 673.6h4.4v4.4h-4.4zM1381.5 674.3h4.4v4.4h-4.4zM1383.3 674.4h4.4v4.4h-4.4zM1387.0 674.6h4.4v4.4h-4.4zM1385.3 675.5h4.4v4.4h-4.4zM1387.3 675.7h4.4v4.4h-4.4zM1381.5 676.9h4.4v4.4h-4.4zM1380.9 677.2h4.4v4.4h-4.4zM1385.9 678.8h4.4v4.4h-4.4zM1381.1 679.3h4.4v4.4h-4.4zM1381.5 680.6h4.4v4.4h-4.4zM1384.1 680.6h4.4v4.4h-4.4zM1381.6 681.1h4.4v4.4h-4.4zM1379.3 681.4h4.4v4.4h-4.4zM1376.3 684.3h4.4v4.4h-4.4zM1379.1 685.5h4.4v4.4h-4.4zM1376.7 686.9h4.4v4.4h-4.4zM1378.6 687.5h4.4v4.4h-4.4zM1380.9 688.4h4.4v4.4h-4.4zM1374.3 688.6h4.4v4.4h-4.4zM1375.2 689.0h4.4v4.4h-4.4zM1378.9 689.4h4.4v4.4h-4.4zM1380.0 691.0h4.4v4.4h-4.4zM1369.4 691.4h4.4v4.4h-4.4zM1375.9 693.4h4.4v4.4h-4.4zM1376.1 694.1h4.4v4.4h-4.4zM1360.8 695.4h4.4v4.4h-4.4zM1374.3 695.4h4.4v4.4h-4.4zM1369.3 696.6h4.4v4.4h-4.4zM1364.0 697.7h4.4v4.4h-4.4zM1366.7 697.8h4.4v4.4h-4.4zM1362.7 698.1h4.4v4.4h-4.4zM1367.7 698.3h4.4v4.4h-4.4zM1361.1 698.3h4.4v4.4h-4.4zM1364.1 700.7h4.4v4.4h-4.4zM1366.2 701.1h4.4v4.4h-4.4zM1368.5 701.6h4.4v4.4h-4.4zM1357.0 702.2h4.4v4.4h-4.4zM1362.6 702.5h4.4v4.4h-4.4zM1361.9 703.0h4.4v4.4h-4.4zM1351.9 703.5h4.4v4.4h-4.4zM1363.1 703.8h4.4v4.4h-4.4zM1358.2 704.1h4.4v4.4h-4.4zM1359.0 705.9h4.4v4.4h-4.4zM1354.2 706.4h4.4v4.4h-4.4zM1356.3 706.6h4.4v4.4h-4.4zM1353.5 706.8h4.4v4.4h-4.4zM1354.5 709.3h4.4v4.4h-4.4zM1354.1 709.8h4.4v4.4h-4.4zM1354.8 709.9h4.4v4.4h-4.4zM1354.8 710.2h4.4v4.4h-4.4zM1346.7 710.3h4.4v4.4h-4.4zM1348.6 711.3h4.4v4.4h-4.4zM1353.2 711.7h4.4v4.4h-4.4zM1356.1 711.8h4.4v4.4h-4.4zM1352.9 712.5h4.4v4.4h-4.4zM1355.8 712.8h4.4v4.4h-4.4zM1347.5 713.0h4.4v4.4h-4.4zM1345.9 713.1h4.4v4.4h-4.4zM1348.6 713.2h4.4v4.4h-4.4zM1349.3 713.3h4.4v4.4h-4.4zM1349.3 714.1h4.4v4.4h-4.4zM1348.0 714.7h4.4v4.4h-4.4zM1351.8 714.9h4.4v4.4h-4.4zM1350.7 715.0h4.4v4.4h-4.4zM1353.2 715.4h4.4v4.4h-4.4zM1343.7 716.2h4.4v4.4h-4.4zM1351.2 716.7h4.4v4.4h-4.4zM1342.5 717.4h4.4v4.4h-4.4zM1348.2 717.5h4.4v4.4h-4.4zM1340.5 719.8h4.4v4.4h-4.4zM1337.9 720.4h4.4v4.4h-4.4zM1340.2 720.5h4.4v4.4h-4.4zM1341.6 721.7h4.4v4.4h-4.4zM1333.6 721.7h4.4v4.4h-4.4zM1340.4 722.6h4.4v4.4h-4.4zM1336.3 723.4h4.4v4.4h-4.4zM1338.2 724.2h4.4v4.4h-4.4zM1335.1 724.4h4.4v4.4h-4.4zM1331.4 725.3h4.4v4.4h-4.4zM1337.3 725.8h4.4v4.4h-4.4zM1324.5 726.1h4.4v4.4h-4.4zM1335.7 728.8h4.4v4.4h-4.4zM1329.5 728.8h4.4v4.4h-4.4zM1324.2 729.3h4.4v4.4h-4.4zM1331.6 729.6h4.4v4.4h-4.4zM1328.7 729.7h4.4v4.4h-4.4zM1322.6 730.6h4.4v4.4h-4.4zM1331.3 731.0h4.4v4.4h-4.4zM1327.0 731.2h4.4v4.4h-4.4zM1327.6 731.6h4.4v4.4h-4.4zM1324.1 732.2h4.4v4.4h-4.4zM1320.5 733.1h4.4v4.4h-4.4zM1319.0 734.0h4.4v4.4h-4.4zM1321.6 734.7h4.4v4.4h-4.4zM1323.5 735.2h4.4v4.4h-4.4zM1319.4 736.1h4.4v4.4h-4.4zM1320.8 736.3h4.4v4.4h-4.4zM1315.1 736.4h4.4v4.4h-4.4zM1321.5 736.9h4.4v4.4h-4.4zM1316.9 737.0h4.4v4.4h-4.4zM1314.2 737.9h4.4v4.4h-4.4zM1317.7 738.0h4.4v4.4h-4.4zM1316.4 738.5h4.4v4.4h-4.4zM1320.4 738.7h4.4v4.4h-4.4zM1309.4 738.9h4.4v4.4h-4.4zM1311.8 739.7h4.4v4.4h-4.4zM1309.0 739.9h4.4v4.4h-4.4zM1310.6 741.8h4.4v4.4h-4.4zM1309.6 742.0h4.4v4.4h-4.4zM1310.5 742.3h4.4v4.4h-4.4zM1310.5 743.7h4.4v4.4h-4.4zM1308.7 743.7h4.4v4.4h-4.4zM1304.9 743.7h4.4v4.4h-4.4zM1304.9 745.2h4.4v4.4h-4.4zM1307.2 745.2h4.4v4.4h-4.4zM1306.1 745.5h4.4v4.4h-4.4zM1305.8 745.7h4.4v4.4h-4.4zM1301.0 746.2h4.4v4.4h-4.4zM1303.8 746.7h4.4v4.4h-4.4zM1301.1 747.6h4.4v4.4h-4.4zM1296.3 749.2h4.4v4.4h-4.4zM1294.4 750.2h4.4v4.4h-4.4zM1296.1 750.4h4.4v4.4h-4.4zM1300.6 750.5h4.4v4.4h-4.4zM1294.3 750.6h4.4v4.4h-4.4zM1295.5 752.2h4.4v4.4h-4.4zM1293.2 753.0h4.4v4.4h-4.4zM1287.6 753.1h4.4v4.4h-4.4zM1291.7 753.4h4.4v4.4h-4.4zM1291.4 753.8h4.4v4.4h-4.4zM1289.7 754.4h4.4v4.4h-4.4zM1293.1 754.8h4.4v4.4h-4.4zM1289.7 755.6h4.4v4.4h-4.4zM1289.6 755.6h4.4v4.4h-4.4zM1291.3 755.7h4.4v4.4h-4.4zM1291.6 756.2h4.4v4.4h-4.4zM1294.0 756.2h4.4v4.4h-4.4zM1289.1 756.8h4.4v4.4h-4.4zM1286.5 757.0h4.4v4.4h-4.4zM1279.2 757.9h4.4v4.4h-4.4zM1287.5 758.2h4.4v4.4h-4.4zM1288.5 758.5h4.4v4.4h-4.4zM1281.8 760.6h4.4v4.4h-4.4zM1281.7 762.0h4.4v4.4h-4.4zM1281.7 763.7h4.4v4.4h-4.4zM1290.8 749.8h4.4v4.4h-4.4zM1283.9 750.0h4.4v4.4h-4.4zM1240.6 750.2h4.4v4.4h-4.4zM1240.4 750.7h4.4v4.4h-4.4zM1281.0 750.9h4.4v4.4h-4.4zM1278.4 751.0h4.4v4.4h-4.4zM1282.6 751.1h4.4v4.4h-4.4zM1294.6 751.1h4.4v4.4h-4.4zM1286.0 751.1h4.4v4.4h-4.4zM1286.4 751.2h4.4v4.4h-4.4zM1268.9 751.3h4.4v4.4h-4.4zM1265.2 751.3h4.4v4.4h-4.4zM1289.4 751.3h4.4v4.4h-4.4zM1260.8 751.5h4.4v4.4h-4.4zM1294.1 752.1h4.4v4.4h-4.4zM1237.5 752.6h4.4v4.4h-4.4zM1278.9 752.8h4.4v4.4h-4.4zM1232.9 752.9h4.4v4.4h-4.4zM1259.7 753.4h4.4v4.4h-4.4zM1283.6 753.5h4.4v4.4h-4.4zM1233.3 753.6h4.4v4.4h-4.4zM1248.3 754.0h4.4v4.4h-4.4zM1239.8 754.0h4.4v4.4h-4.4zM1277.0 754.9h4.4v4.4h-4.4zM1239.6 754.9h4.4v4.4h-4.4zM1271.8 755.3h4.4v4.4h-4.4zM1238.1 755.5h4.4v4.4h-4.4zM1289.1 755.6h4.4v4.4h-4.4zM1256.1 755.6h4.4v4.4h-4.4zM1292.3 755.6h4.4v4.4h-4.4zM1289.5 755.6h4.4v4.4h-4.4zM1275.2 755.9h4.4v4.4h-4.4zM1272.9 755.9h4.4v4.4h-4.4zM1260.1 756.0h4.4v4.4h-4.4zM1261.3 756.1h4.4v4.4h-4.4zM1237.4 756.4h4.4v4.4h-4.4zM1254.9 756.7h4.4v4.4h-4.4zM1243.7 756.8h4.4v4.4h-4.4zM1268.7 756.9h4.4v4.4h-4.4zM1283.5 757.0h4.4v4.4h-4.4zM1260.1 757.2h4.4v4.4h-4.4zM1241.1 758.0h4.4v4.4h-4.4zM1248.0 758.0h4.4v4.4h-4.4zM1235.5 758.1h4.4v4.4h-4.4zM1230.0 758.2h4.4v4.4h-4.4zM1256.7 758.6h4.4v4.4h-4.4zM1269.1 759.0h4.4v4.4h-4.4zM1272.5 759.3h4.4v4.4h-4.4zM1270.6 759.4h4.4v4.4h-4.4zM1260.1 759.4h4.4v4.4h-4.4zM1273.1 759.6h4.4v4.4h-4.4zM1247.3 759.6h4.4v4.4h-4.4zM1274.4 760.0h4.4v4.4h-4.4zM1232.9 760.7h4.4v4.4h-4.4zM1232.2 760.7h4.4v4.4h-4.4zM1269.5 761.0h4.4v4.4h-4.4zM1271.2 761.2h4.4v4.4h-4.4zM1258.3 761.4h4.4v4.4h-4.4zM1262.7 761.9h4.4v4.4h-4.4zM1259.0 762.1h4.4v4.4h-4.4zM1268.6 762.2h4.4v4.4h-4.4zM1232.1 762.4h4.4v4.4h-4.4zM1248.8 762.5h4.4v4.4h-4.4zM1256.8 762.6h4.4v4.4h-4.4zM1246.9 762.7h4.4v4.4h-4.4zM1245.6 762.8h4.4v4.4h-4.4zM1228.8 763.6h4.4v4.4h-4.4zM1264.8 763.6h4.4v4.4h-4.4zM1249.1 763.7h4.4v4.4h-4.4zM1244.3 763.9h4.4v4.4h-4.4zM1224.3 764.0h4.4v4.4h-4.4zM1276.0 764.4h4.4v4.4h-4.4zM1249.2 764.5h4.4v4.4h-4.4zM1226.2 764.6h4.4v4.4h-4.4zM1269.4 765.0h4.4v4.4h-4.4zM1236.8 765.1h4.4v4.4h-4.4zM1266.7 765.4h4.4v4.4h-4.4zM1243.8 765.5h4.4v4.4h-4.4zM1266.5 765.6h4.4v4.4h-4.4zM1269.2 766.0h4.4v4.4h-4.4zM1254.6 766.0h4.4v4.4h-4.4zM1260.1 767.0h4.4v4.4h-4.4zM1228.9 767.1h4.4v4.4h-4.4zM1260.8 767.2h4.4v4.4h-4.4zM1265.0 767.2h4.4v4.4h-4.4zM1246.4 767.4h4.4v4.4h-4.4zM1270.6 767.9h4.4v4.4h-4.4zM1225.5 768.2h4.4v4.4h-4.4zM1242.6 768.4h4.4v4.4h-4.4zM1269.7 768.5h4.4v4.4h-4.4zM1226.2 768.8h4.4v4.4h-4.4zM1237.9 768.8h4.4v4.4h-4.4zM1236.8 769.0h4.4v4.4h-4.4zM1262.5 769.2h4.4v4.4h-4.4zM1257.5 769.2h4.4v4.4h-4.4zM1269.3 769.3h4.4v4.4h-4.4zM1235.9 770.1h4.4v4.4h-4.4zM1224.3 770.3h4.4v4.4h-4.4zM1250.9 770.4h4.4v4.4h-4.4zM1236.0 770.7h4.4v4.4h-4.4zM1224.7 770.7h4.4v4.4h-4.4zM1226.9 770.9h4.4v4.4h-4.4zM1250.0 771.0h4.4v4.4h-4.4zM1244.0 771.6h4.4v4.4h-4.4zM1247.5 771.7h4.4v4.4h-4.4zM1257.5 771.8h4.4v4.4h-4.4zM1230.8 771.8h4.4v4.4h-4.4zM1263.7 772.0h4.4v4.4h-4.4zM1227.1 772.0h4.4v4.4h-4.4zM1228.1 772.1h4.4v4.4h-4.4zM1237.3 772.2h4.4v4.4h-4.4zM1237.3 772.5h4.4v4.4h-4.4zM1236.7 772.7h4.4v4.4h-4.4zM1261.8 773.1h4.4v4.4h-4.4zM1262.5 773.3h4.4v4.4h-4.4zM1265.2 773.3h4.4v4.4h-4.4zM1250.1 773.5h4.4v4.4h-4.4zM1229.5 773.7h4.4v4.4h-4.4zM1260.1 773.7h4.4v4.4h-4.4zM1250.6 773.8h4.4v4.4h-4.4zM1241.9 774.0h4.4v4.4h-4.4zM1224.4 774.1h4.4v4.4h-4.4zM1249.3 774.2h4.4v4.4h-4.4zM1215.5 774.4h4.4v4.4h-4.4zM1236.4 774.8h4.4v4.4h-4.4zM1227.9 774.8h4.4v4.4h-4.4zM1255.4 774.9h4.4v4.4h-4.4zM1230.9 775.1h4.4v4.4h-4.4zM1229.0 775.2h4.4v4.4h-4.4zM1231.6 775.3h4.4v4.4h-4.4zM1252.6 775.7h4.4v4.4h-4.4zM1256.8 776.1h4.4v4.4h-4.4zM1219.3 776.4h4.4v4.4h-4.4zM1221.8 776.4h4.4v4.4h-4.4zM1239.1 776.5h4.4v4.4h-4.4zM1241.3 777.0h4.4v4.4h-4.4zM1224.8 777.2h4.4v4.4h-4.4zM1247.5 778.4h4.4v4.4h-4.4zM1214.5 778.5h4.4v4.4h-4.4zM1223.3 779.8h4.4v4.4h-4.4zM1216.5 780.4h4.4v4.4h-4.4zM1227.0 780.7h4.4v4.4h-4.4zM1223.7 781.5h4.4v4.4h-4.4zM1219.3 781.5h4.4v4.4h-4.4zM1252.9 782.1h4.4v4.4h-4.4zM1239.5 782.4h4.4v4.4h-4.4zM1221.7 782.6h4.4v4.4h-4.4zM1252.4 782.6h4.4v4.4h-4.4zM1236.4 782.6h4.4v4.4h-4.4zM1217.9 782.8h4.4v4.4h-4.4zM1249.6 783.0h4.4v4.4h-4.4zM1216.7 783.1h4.4v4.4h-4.4zM1237.4 783.4h4.4v4.4h-4.4zM1216.9 783.7h4.4v4.4h-4.4zM1213.4 784.4h4.4v4.4h-4.4zM1218.8 784.5h4.4v4.4h-4.4zM1228.3 784.8h4.4v4.4h-4.4zM1238.3 785.1h4.4v4.4h-4.4zM1226.9 786.0h4.4v4.4h-4.4zM1241.5 786.0h4.4v4.4h-4.4zM1220.8 786.0h4.4v4.4h-4.4zM1232.2 786.0h4.4v4.4h-4.4zM1212.6 786.7h4.4v4.4h-4.4zM1241.3 786.8h4.4v4.4h-4.4zM1211.4 787.3h4.4v4.4h-4.4zM1237.8 787.7h4.4v4.4h-4.4zM1212.7 788.0h4.4v4.4h-4.4zM1218.7 788.4h4.4v4.4h-4.4zM1212.7 788.5h4.4v4.4h-4.4zM1211.1 788.7h4.4v4.4h-4.4zM1227.1 788.9h4.4v4.4h-4.4zM1221.2 789.3h4.4v4.4h-4.4zM1208.8 790.0h4.4v4.4h-4.4zM1240.0 790.2h4.4v4.4h-4.4zM1238.4 791.1h4.4v4.4h-4.4zM1223.6 791.7h4.4v4.4h-4.4zM1224.2 792.5h4.4v4.4h-4.4zM1212.9 792.5h4.4v4.4h-4.4zM1234.7 792.6h4.4v4.4h-4.4zM1218.1 792.8h4.4v4.4h-4.4zM1207.1 793.2h4.4v4.4h-4.4zM1230.4 793.8h4.4v4.4h-4.4zM1232.3 794.6h4.4v4.4h-4.4zM1207.5 794.8h4.4v4.4h-4.4zM1224.9 795.6h4.4v4.4h-4.4zM1213.2 795.8h4.4v4.4h-4.4zM1229.0 795.9h4.4v4.4h-4.4zM1227.9 796.3h4.4v4.4h-4.4zM1211.9 796.5h4.4v4.4h-4.4zM1225.0 796.9h4.4v4.4h-4.4zM1211.5 798.1h4.4v4.4h-4.4zM1212.3 798.8h4.4v4.4h-4.4zM1221.6 800.1h4.4v4.4h-4.4zM1209.5 800.6h4.4v4.4h-4.4zM1224.3 800.8h4.4v4.4h-4.4zM1206.8 801.9h4.4v4.4h-4.4zM1203.7 802.0h4.4v4.4h-4.4zM1197.8 804.4h4.4v4.4h-4.4zM1209.0 805.8h4.4v4.4h-4.4zM1208.5 806.5h4.4v4.4h-4.4zM1208.5 807.0h4.4v4.4h-4.4zM1216.9 807.1h4.4v4.4h-4.4zM1198.4 807.2h4.4v4.4h-4.4zM1209.2 808.2h4.4v4.4h-4.4zM1209.3 809.9h4.4v4.4h-4.4zM1193.7 812.7h4.4v4.4h-4.4zM1197.6 812.7h4.4v4.4h-4.4zM1194.9 814.5h4.4v4.4h-4.4zM1207.0 815.5h4.4v4.4h-4.4zM1201.9 815.7h4.4v4.4h-4.4zM1204.2 818.7h4.4v4.4h-4.4zM1198.6 819.5h4.4v4.4h-4.4zM1207.3 820.0h4.4v4.4h-4.4zM1200.3 822.5h4.4v4.4h-4.4zM1200.7 823.2h4.4v4.4h-4.4zM1200.9 824.6h4.4v4.4h-4.4zM1201.6 825.6h4.4v4.4h-4.4zM1938.4 80.3h4.4v4.4h-4.4zM1933.8 88.4h4.4v4.4h-4.4zM1914.1 108.2h4.4v4.4h-4.4zM1904.2 120.4h4.4v4.4h-4.4zM1895.2 122.6h4.4v4.4h-4.4zM1886.2 129.8h4.4v4.4h-4.4zM1892.5 135.6h4.4v4.4h-4.4zM1881.8 137.8h4.4v4.4h-4.4zM1877.8 141.8h4.4v4.4h-4.4zM1872.8 144.8h4.4v4.4h-4.4zM1867.8 143.8h4.4v4.4h-4.4zM1875.8 147.8h4.4v4.4h-4.4zM1170.3 739.4h4.4v4.4h-4.4zM1188.5 740.8h4.4v4.4h-4.4zM1168.8 809.8h4.4v4.4h-4.4zM1165.8 819.8h4.4v4.4h-4.4zM1173.5 829.2h4.4v4.4h-4.4zM1192.8 829.2h4.4v4.4h-4.4zM1154.8 826.8h4.4v4.4h-4.4z"/>
</g>
<line x1="1141.8" y1="29" x2="1141.8" y2="853.2" stroke="#222" stroke-width="1.6"/>
<line x1="1141" y1="852.6" x2="1999" y2="852.6" stroke="#333" stroke-width="1.6"/>
<line x1="1137.2" y1="847.8" x2="1141.8" y2="847.8" stroke="#222" stroke-width="1.5"/>
<text x="1131.5" y="856.5" font-size="16.5" text-anchor="end">-8</text>
<line x1="1146.8" y1="852.6" x2="1146.8" y2="857.2" stroke="#222" stroke-width="1.5"/>
<text x="1145.3" y="877.7" font-size="16.5" text-anchor="middle">-8</text>
<line x1="1137.2" y1="764.4" x2="1141.8" y2="764.4" stroke="#222" stroke-width="1.5"/>
<text x="1131.5" y="773.1" font-size="16.5" text-anchor="end">-6</text>
<line x1="1233.6" y1="852.6" x2="1233.6" y2="857.2" stroke="#222" stroke-width="1.5"/>
<text x="1232.1" y="877.7" font-size="16.5" text-anchor="middle">-6</text>
<line x1="1137.2" y1="681" x2="1141.8" y2="681" stroke="#222" stroke-width="1.5"/>
<text x="1131.5" y="689.7" font-size="16.5" text-anchor="end">-4</text>
<line x1="1320.4" y1="852.6" x2="1320.4" y2="857.2" stroke="#222" stroke-width="1.5"/>
<text x="1318.9" y="877.7" font-size="16.5" text-anchor="middle">-4</text>
<line x1="1137.2" y1="597.6" x2="1141.8" y2="597.6" stroke="#222" stroke-width="1.5"/>
<text x="1131.5" y="606.3" font-size="16.5" text-anchor="end">-2</text>
<line x1="1407.2" y1="852.6" x2="1407.2" y2="857.2" stroke="#222" stroke-width="1.5"/>
<text x="1405.7" y="877.7" font-size="16.5" text-anchor="middle">-2</text>
<line x1="1137.2" y1="514.2" x2="1141.8" y2="514.2" stroke="#222" stroke-width="1.5"/>
<text x="1131.5" y="522.9" font-size="16.5" text-anchor="end">0</text>
<line x1="1494" y1="852.6" x2="1494" y2="857.2" stroke="#222" stroke-width="1.5"/>
<text x="1492.5" y="877.7" font-size="16.5" text-anchor="middle">0</text>
<line x1="1137.2" y1="430.8" x2="1141.8" y2="430.8" stroke="#222" stroke-width="1.5"/>
<text x="1131.5" y="439.5" font-size="16.5" text-anchor="end">2</text>
<line x1="1580.8" y1="852.6" x2="1580.8" y2="857.2" stroke="#222" stroke-width="1.5"/>
<text x="1579.3" y="877.7" font-size="16.5" text-anchor="middle">2</text>
<line x1="1137.2" y1="347.4" x2="1141.8" y2="347.4" stroke="#222" stroke-width="1.5"/>
<text x="1131.5" y="356.1" font-size="16.5" text-anchor="end">4</text>
<line x1="1667.6" y1="852.6" x2="1667.6" y2="857.2" stroke="#222" stroke-width="1.5"/>
<text x="1666.1" y="877.7" font-size="16.5" text-anchor="middle">4</text>
<line x1="1137.2" y1="264" x2="1141.8" y2="264" stroke="#222" stroke-width="1.5"/>
<text x="1131.5" y="272.7" font-size="16.5" text-anchor="end">6</text>
<line x1="1754.4" y1="852.6" x2="1754.4" y2="857.2" stroke="#222" stroke-width="1.5"/>
<text x="1752.9" y="877.7" font-size="16.5" text-anchor="middle">6</text>
<line x1="1137.2" y1="180.6" x2="1141.8" y2="180.6" stroke="#222" stroke-width="1.5"/>
<text x="1131.5" y="189.3" font-size="16.5" text-anchor="end">8</text>
<line x1="1841.2" y1="852.6" x2="1841.2" y2="857.2" stroke="#222" stroke-width="1.5"/>
<text x="1839.7" y="877.7" font-size="16.5" text-anchor="middle">8</text>
<line x1="1137.2" y1="97.2" x2="1141.8" y2="97.2" stroke="#222" stroke-width="1.5"/>
<text x="1131.5" y="105.9" font-size="16.5" text-anchor="end">10</text>
<line x1="1928" y1="852.6" x2="1928" y2="857.2" stroke="#222" stroke-width="1.5"/>
<text x="1926.5" y="877.7" font-size="16.5" text-anchor="middle">10</text>
<g fill="#1f78b4"><rect x="1376.5" y="465.2" width="4.4" height="4.4"/><rect x="1326.4" y="474.7" width="4.4" height="4.4"/><rect x="1329.2" y="476" width="4.4" height="4.4"/><rect x="1366.9" y="493.8" width="4.4" height="4.4"/><rect x="1380.5" y="493.8" width="4.4" height="4.4"/><rect x="1380.5" y="496.6" width="4.4" height="4.4"/><rect x="1338.6" y="497.7" width="4.4" height="4.4"/><rect x="1326.4" y="511" width="4.4" height="4.4"/><rect x="1369.1" y="520.4" width="4.4" height="4.4"/><rect x="1339.7" y="524.3" width="4.4" height="4.4"/><rect x="1350.2" y="524.3" width="4.4" height="4.4"/><rect x="1335.8" y="527.6" width="4.4" height="4.4"/><rect x="1342.5" y="531.5" width="4.4" height="4.4"/><rect x="1319.8" y="538.1" width="4.4" height="4.4"/><rect x="1320.8" y="551.4" width="4.4" height="4.4"/><rect x="1308.7" y="567.5" width="4.4" height="4.4"/><rect x="1261.5" y="601.7" width="4.4" height="4.4"/><rect x="1231.8" y="624.6" width="4.4" height="4.4"/><rect x="1566.8" y="381.6" width="4.4" height="4.4"/><rect x="1410.3" y="387.3" width="4.4" height="4.4"/><rect x="1429.1" y="396.3" width="4.4" height="4.4"/><rect x="1552" y="404.3" width="4.4" height="4.4"/><rect x="1560.3" y="402.6" width="4.4" height="4.4"/><rect x="1573.6" y="410.8" width="4.4" height="4.4"/><rect x="1541.8" y="418.8" width="4.4" height="4.4"/><rect x="1549.8" y="417.8" width="4.4" height="4.4"/><rect x="1554.8" y="420.8" width="4.4" height="4.4"/><rect x="1435.8" y="421.8" width="4.4" height="4.4"/><rect x="1433.3" y="428.8" width="4.4" height="4.4"/><rect x="1461.6" y="424.6" width="4.4" height="4.4"/><rect x="1492.6" y="430" width="4.4" height="4.4"/><rect x="1519.6" y="427.3" width="4.4" height="4.4"/><rect x="1545.6" y="431.3" width="4.4" height="4.4"/><rect x="1493.8" y="440.8" width="4.4" height="4.4"/><rect x="1503.6" y="439.6" width="4.4" height="4.4"/><rect x="1508.8" y="442.3" width="4.4" height="4.4"/><rect x="1512.3" y="442.3" width="4.4" height="4.4"/><rect x="1519.6" y="441.8" width="4.4" height="4.4"/><rect x="1522.6" y="444.8" width="4.4" height="4.4"/><rect x="1450.8" y="444.8" width="4.4" height="4.4"/><rect x="1429" y="455.6" width="4.4" height="4.4"/><rect x="1434.6" y="454.5" width="4.4" height="4.4"/><rect x="1488.6" y="454.5" width="4.4" height="4.4"/><rect x="1522.3" y="452.8" width="4.4" height="4.4"/><rect x="1507.8" y="457.1" width="4.4" height="4.4"/><rect x="1429" y="465" width="4.4" height="4.4"/><rect x="1466.6" y="459.8" width="4.4" height="4.4"/><rect x="1471.3" y="461" width="4.4" height="4.4"/><rect x="1453.5" y="469.1" width="4.4" height="4.4"/><rect x="1476.5" y="469" width="4.4" height="4.4"/><rect x="1435.8" y="471.8" width="4.4" height="4.4"/><rect x="1450.8" y="477.3" width="4.4" height="4.4"/><rect x="1482.8" y="477.3" width="4.4" height="4.4"/><rect x="1400.8" y="480" width="4.4" height="4.4"/><rect x="1449.3" y="485.5" width="4.4" height="4.4"/><rect x="1456" y="488" width="4.4" height="4.4"/><rect x="1403.5" y="500.3" width="4.4" height="4.4"/><rect x="1412.6" y="502.8" width="4.4" height="4.4"/><rect x="1414.6" y="505.8" width="4.4" height="4.4"/><rect x="1692.8" y="290.8" width="4.4" height="4.4"/><rect x="1664.3" y="312.6" width="4.4" height="4.4"/><rect x="1533.3" y="323.3" width="4.4" height="4.4"/><rect x="1648.1" y="324.6" width="4.4" height="4.4"/><rect x="1635.8" y="328.6" width="4.4" height="4.4"/><rect x="1649.5" y="334" width="4.4" height="4.4"/><rect x="1615.6" y="346.5" width="4.4" height="4.4"/><rect x="1630.5" y="347.5" width="4.4" height="4.4"/><rect x="1558.8" y="373.3" width="4.4" height="4.4"/><rect x="1598.1" y="380" width="4.4" height="4.4"/><rect x="1583" y="388" width="4.4" height="4.4"/><rect x="1593.8" y="386.6" width="4.4" height="4.4"/><rect x="1512.6" y="359.8" width="4.4" height="4.4"/><rect x="1352.8" y="438.3" width="4.4" height="4.4"/></g>
<g fill="#e31a1c"><rect x="1721" y="313.8" width="4.4" height="4.4"/><rect x="1710" y="328.8" width="4.4" height="4.4"/><rect x="1711.6" y="343.6" width="4.4" height="4.4"/><rect x="1688.6" y="347.5" width="4.4" height="4.4"/><rect x="1692.8" y="350.3" width="4.4" height="4.4"/><rect x="1698.1" y="355.8" width="4.4" height="4.4"/><rect x="1677.6" y="366.8" width="4.4" height="4.4"/><rect x="1661.8" y="375.8" width="4.4" height="4.4"/><rect x="1666.8" y="383" width="4.4" height="4.4"/><rect x="1643.8" y="385.6" width="4.4" height="4.4"/><rect x="1652" y="386.8" width="4.4" height="4.4"/><rect x="1637.1" y="394.6" width="4.4" height="4.4"/><rect x="1634.8" y="401.6" width="4.4" height="4.4"/><rect x="1645.3" y="400.3" width="4.4" height="4.4"/><rect x="1616.8" y="415" width="4.4" height="4.4"/><rect x="1614.1" y="435.6" width="4.4" height="4.4"/><rect x="1587.3" y="443.6" width="4.4" height="4.4"/><rect x="1594" y="442.3" width="4.4" height="4.4"/><rect x="1627.8" y="447.6" width="4.4" height="4.4"/><rect x="1598" y="451.6" width="4.4" height="4.4"/><rect x="1610.1" y="451.6" width="4.4" height="4.4"/><rect x="1576.3" y="456.8" width="4.4" height="4.4"/><rect x="1572.3" y="462.8" width="4.4" height="4.4"/><rect x="1623.8" y="465.1" width="4.4" height="4.4"/><rect x="1571.3" y="476" width="4.4" height="4.4"/><rect x="1560.1" y="478.6" width="4.4" height="4.4"/><rect x="1560.1" y="492.3" width="4.4" height="4.4"/><rect x="1580.5" y="492.3" width="4.4" height="4.4"/><rect x="1554.8" y="497.6" width="4.4" height="4.4"/><rect x="1572.3" y="499.1" width="4.4" height="4.4"/><rect x="1528.8" y="524.6" width="4.4" height="4.4"/><rect x="1533" y="531.5" width="4.4" height="4.4"/><rect x="1841.05" y="205.8" width="4.4" height="4.4"/><rect x="1816.55" y="222.05" width="4.4" height="4.4"/><rect x="1738.3" y="299.05" width="4.4" height="4.4"/><rect x="1473.3" y="578.55" width="4.4" height="4.4"/><rect x="1479.3" y="578.55" width="4.4" height="4.4"/><rect x="1487" y="631.2" width="4.4" height="4.4"/><rect x="1451.5" y="704.1" width="4.4" height="4.4"/><rect x="1518.3" y="546.1" width="4.4" height="4.4"/><rect x="1508.6" y="597.4" width="4.4" height="4.4"/></g>
<g fill="#1f78b4" stroke="#000" stroke-width="1.1"><rect x="1631.7" y="309.9" width="4.6" height="4.6"/><rect x="1439.7" y="340.7" width="4.6" height="4.6"/><rect x="1465.5" y="379.9" width="4.6" height="4.6"/><rect x="1417" y="393.4" width="4.6" height="4.6"/><rect x="1468.2" y="408.2" width="4.6" height="4.6"/><rect x="1481.7" y="426.2" width="4.6" height="4.6"/><rect x="1506.2" y="426.2" width="4.6" height="4.6"/><rect x="1583.2" y="373.2" width="4.6" height="4.6"/><rect x="1414.2" y="446.2" width="4.6" height="4.6"/><rect x="1304.7" y="534.2" width="4.6" height="4.6"/></g>
<line x1="1437.6" y1="411.3" x2="1482.6" y2="427.5" stroke="#000" stroke-width="1.2"/>
<line x1="1392" y1="437" x2="1415" y2="447.8" stroke="#000" stroke-width="1.2"/>
<text x="1628.6" y="306" font-size="22" textLength="59.4" lengthAdjust="spacingAndGlyphs" font-family="'DejaVu Sans', Verdana, sans-serif" font-style="italic">Ddx4</text>
<text x="1434.4" y="337" font-size="22" textLength="79.1" lengthAdjust="spacingAndGlyphs" font-family="'DejaVu Sans', Verdana, sans-serif" font-style="italic">Sohlh2</text>
<text x="1461" y="373.5" font-size="22" textLength="72" lengthAdjust="spacingAndGlyphs" font-family="'DejaVu Sans', Verdana, sans-serif" font-style="italic">Rpl10l</text>
<text x="1373.6" y="388" font-size="22" textLength="50.4" lengthAdjust="spacingAndGlyphs" font-family="'DejaVu Sans', Verdana, sans-serif" font-style="italic">Dazl</text>
<text x="1463.6" y="404.6" font-size="22" textLength="53.4" lengthAdjust="spacingAndGlyphs" font-family="'DejaVu Sans', Verdana, sans-serif" font-style="italic">Asz1</text>
<text x="1365" y="418.5" font-size="22" textLength="68" lengthAdjust="spacingAndGlyphs" font-family="'DejaVu Sans', Verdana, sans-serif" font-style="italic">Sycp1</text>
<text x="1501" y="423.7" font-size="22" textLength="65.6" lengthAdjust="spacingAndGlyphs" font-family="'DejaVu Sans', Verdana, sans-serif" font-style="italic">Piwil2</text>
<text x="1579.5" y="369" font-size="22" textLength="70.5" lengthAdjust="spacingAndGlyphs" font-family="'DejaVu Sans', Verdana, sans-serif" font-style="italic">Fkbp6</text>
<text x="1283.6" y="445.5" font-size="22" textLength="104.4" lengthAdjust="spacingAndGlyphs" font-family="'DejaVu Sans', Verdana, sans-serif" font-style="italic">Hormad1</text>
<text x="1300.5" y="530" font-size="22" textLength="97.3" lengthAdjust="spacingAndGlyphs" font-family="'DejaVu Sans', Verdana, sans-serif" font-style="italic">Zscan4d</text>
<text x="1146" y="53.25" font-size="27" textLength="216" lengthAdjust="spacingAndGlyphs" fill="#1f78b4">UpDEGs (N=83)</text>
<text x="1146" y="88" font-size="27" textLength="253" lengthAdjust="spacingAndGlyphs" fill="#e31a1c">DownDEGs (N=41)</text>
<text x="1993.5" y="48.75" font-size="24" text-anchor="end" textLength="190" lengthAdjust="spacingAndGlyphs">Autosomal genes</text>
<text x="1998.5" y="845.4" font-size="33" text-anchor="end" textLength="151" lengthAdjust="spacingAndGlyphs">R = 0.992</text>
<text x="1197" y="916" font-size="34" textLength="745" lengthAdjust="spacingAndGlyphs"><tspan font-style="italic">Dnmt3a/b</tspan> WT ExE gene expression (log2RPKM)</text>
<text transform="translate(1094,815) rotate(-90)" font-size="35" textLength="767" lengthAdjust="spacingAndGlyphs"><tspan font-style="italic">Dnmt3a/b</tspan> DKO ExE gene expression (log2RPKM)</text>
<text x="4" y="988" font-size="51">c</text>
<text x="126" y="1031.4" font-size="34.5" textLength="727" lengthAdjust="spacingAndGlyphs">Gene ontology <tspan font-style="italic">Dnmt3a/b</tspan> DKO upregulated DEGs</text>
<line x1="550" y1="1047.6" x2="550" y2="1749" stroke="#d9d9d9" stroke-width="1.3"/>
<text x="550" y="1774" font-size="15.5" text-anchor="middle" fill="#595959">0</text>
<line x1="603.7" y1="1047.6" x2="603.7" y2="1749" stroke="#d9d9d9" stroke-width="1.3"/>
<text x="603.7" y="1774" font-size="15.5" text-anchor="middle" fill="#595959">2</text>
<line x1="657.4" y1="1047.6" x2="657.4" y2="1749" stroke="#d9d9d9" stroke-width="1.3"/>
<text x="657.4" y="1774" font-size="15.5" text-anchor="middle" fill="#595959">4</text>
<line x1="711.1" y1="1047.6" x2="711.1" y2="1749" stroke="#d9d9d9" stroke-width="1.3"/>
<text x="711.1" y="1774" font-size="15.5" text-anchor="middle" fill="#595959">6</text>
<line x1="764.8" y1="1047.6" x2="764.8" y2="1749" stroke="#d9d9d9" stroke-width="1.3"/>
<text x="764.8" y="1774" font-size="15.5" text-anchor="middle" fill="#595959">8</text>
<line x1="818.5" y1="1047.6" x2="818.5" y2="1749" stroke="#d9d9d9" stroke-width="1.3"/>
<text x="818.5" y="1774" font-size="15.5" text-anchor="middle" fill="#595959">10</text>
<line x1="872.2" y1="1047.6" x2="872.2" y2="1749" stroke="#d9d9d9" stroke-width="1.3"/>
<text x="872.2" y="1774" font-size="15.5" text-anchor="middle" fill="#595959">12</text>
<rect x="550.5" y="1060.8" width="39.3" height="14.8" fill="#4472c4"/>
<text x="535.3" y="1075.1" font-size="24.5" text-anchor="end" textLength="258.6" lengthAdjust="spacingAndGlyphs">Developmental protein</text>
<rect x="550.5" y="1102.02" width="48.3" height="14.8" fill="#4472c4"/>
<text x="535.3" y="1116.32" font-size="24.5" text-anchor="end" textLength="113.1" lengthAdjust="spacingAndGlyphs">oogenesis</text>
<rect x="550.5" y="1143.24" width="49.5" height="14.8" fill="#4472c4"/>
<text x="535.3" y="1157.54" font-size="24.5" text-anchor="end" textLength="261.2" lengthAdjust="spacingAndGlyphs">synaptonemal complex</text>
<rect x="550.5" y="1184.46" width="53" height="14.8" fill="#4472c4"/>
<text x="535.3" y="1198.76" font-size="24.5" text-anchor="end" textLength="146.9" lengthAdjust="spacingAndGlyphs">male meiosis</text>
<rect x="550.5" y="1225.68" width="53" height="14.8" fill="#4472c4"/>
<text x="535.3" y="1239.98" font-size="24.5" text-anchor="end" textLength="205.2" lengthAdjust="spacingAndGlyphs">cell differentiation</text>
<rect x="550.5" y="1266.9" width="74.5" height="14.8" fill="#4472c4"/>
<text x="535.3" y="1281.2" font-size="24.5" text-anchor="end" textLength="163.3" lengthAdjust="spacingAndGlyphs">Differentiation</text>
<rect x="550.5" y="1308.12" width="63.8" height="14.8" fill="#4472c4"/>
<text x="535.3" y="1322.42" font-size="24.5" text-anchor="end" textLength="249.7" lengthAdjust="spacingAndGlyphs">gene silencing by RNA</text>
<rect x="550.5" y="1349.34" width="80.5" height="14.8" fill="#4472c4"/>
<text x="535.3" y="1363.64" font-size="24.5" text-anchor="end" textLength="330.7" lengthAdjust="spacingAndGlyphs">RNA-mediated gene silencing</text>
<rect x="550.5" y="1390.56" width="80.5" height="14.8" fill="#4472c4"/>
<text x="535.3" y="1404.86" font-size="24.5" text-anchor="end" textLength="117.4" lengthAdjust="spacingAndGlyphs">Oogenesis</text>
<rect x="550.5" y="1431.78" width="89.5" height="14.8" fill="#4472c4"/>
<text x="535.3" y="1446.08" font-size="24.5" text-anchor="end" textLength="280.3" lengthAdjust="spacingAndGlyphs">piRNA metabolic process</text>
<rect x="550.5" y="1473" width="98" height="14.8" fill="#4472c4"/>
<text x="535.3" y="1487.3" font-size="24.5" text-anchor="end" textLength="86.8" lengthAdjust="spacingAndGlyphs">pi-body</text>
<rect x="550.5" y="1514.22" width="109.2" height="14.8" fill="#4472c4"/>
<text x="535.3" y="1528.52" font-size="24.5" text-anchor="end" textLength="63.4" lengthAdjust="spacingAndGlyphs">Testis</text>
<rect x="550.5" y="1555.44" width="110.1" height="14.8" fill="#4472c4"/>
<text x="535.3" y="1569.74" font-size="24.5" text-anchor="end" textLength="539.3" lengthAdjust="spacingAndGlyphs">DNA methylation involved in gamete generation</text>
<rect x="550.5" y="1596.66" width="197" height="14.8" fill="#4472c4"/>
<text x="535.3" y="1610.96" font-size="24.5" text-anchor="end" textLength="193.8" lengthAdjust="spacingAndGlyphs">Spermatogenesis</text>
<rect x="550.5" y="1637.88" width="209.1" height="14.8" fill="#4472c4"/>
<text x="535.3" y="1652.18" font-size="24.5" text-anchor="end" textLength="191.2" lengthAdjust="spacingAndGlyphs">meiotic cell cycle</text>
<rect x="550.5" y="1679.1" width="230.8" height="14.8" fill="#4472c4"/>
<text x="535.3" y="1693.4" font-size="24.5" text-anchor="end" textLength="86.8" lengthAdjust="spacingAndGlyphs">Meiosis</text>
<rect x="550.5" y="1720.32" width="278.9" height="14.8" fill="#4472c4"/>
<text x="535.3" y="1734.62" font-size="24.5" text-anchor="end" textLength="191.2" lengthAdjust="spacingAndGlyphs">spermatogenesis</text>
<text x="584" y="1798.5" font-size="22" textLength="243" lengthAdjust="spacingAndGlyphs">-log(corrected p- value)</text>
<text x="890" y="988" font-size="51">d</text>
<text x="917" y="1038.5" font-size="30" textLength="535" lengthAdjust="spacingAndGlyphs"><tspan font-style="italic">Dnmt3a/b</tspan> DKO upregulated DEGs (N=83)</text>
<line x1="918" y1="1538" x2="1965.3" y2="1538" stroke="#c0c0c0" stroke-width="2"/>
<line x1="1848.8" y1="1085.7" x2="1848.8" y2="1764.5" stroke="#c0c0c0" stroke-width="2"/>
<text x="1034.6" y="1568.7" font-size="17" text-anchor="middle" fill="#595959">-70</text>
<text x="1150.9" y="1568.7" font-size="17" text-anchor="middle" fill="#595959">-60</text>
<text x="1267.2" y="1568.7" font-size="17" text-anchor="middle" fill="#595959">-50</text>
<text x="1383.5" y="1568.7" font-size="17" text-anchor="middle" fill="#595959">-40</text>
<text x="1499.8" y="1568.7" font-size="17" text-anchor="middle" fill="#595959">-30</text>
<text x="1616.1" y="1568.7" font-size="17" text-anchor="middle" fill="#595959">-20</text>
<text x="1732.4" y="1568.7" font-size="17" text-anchor="middle" fill="#595959">-10</text>
<text x="1848.7" y="1568.7" font-size="17" text-anchor="middle" fill="#595959">0</text>
<line x1="982.9" y1="1276.5" x2="1959" y2="1544.5" stroke="#7f7f7f" stroke-width="1"/>
<g fill="#000"><circle cx="982.9" cy="1276.5" r="1.6"/><circle cx="995.8" cy="1280.04" r="1.6"/><circle cx="1008.7" cy="1283.58" r="1.6"/><circle cx="1021.6" cy="1287.12" r="1.6"/><circle cx="1034.5" cy="1290.66" r="1.6"/><circle cx="1047.4" cy="1294.21" r="1.6"/><circle cx="1060.3" cy="1297.75" r="1.6"/><circle cx="1073.2" cy="1301.29" r="1.6"/><circle cx="1086.1" cy="1304.83" r="1.6"/><circle cx="1099" cy="1308.37" r="1.6"/><circle cx="1111.9" cy="1311.91" r="1.6"/><circle cx="1124.8" cy="1315.45" r="1.6"/><circle cx="1137.7" cy="1318.99" r="1.6"/><circle cx="1150.6" cy="1322.53" r="1.6"/><circle cx="1163.5" cy="1326.07" r="1.6"/><circle cx="1176.4" cy="1329.62" r="1.6"/><circle cx="1189.3" cy="1333.16" r="1.6"/><circle cx="1202.2" cy="1336.7" r="1.6"/><circle cx="1215.1" cy="1340.24" r="1.6"/><circle cx="1228" cy="1343.78" r="1.6"/><circle cx="1240.9" cy="1347.32" r="1.6"/><circle cx="1253.8" cy="1350.86" r="1.6"/><circle cx="1266.7" cy="1354.4" r="1.6"/><circle cx="1279.6" cy="1357.94" r="1.6"/><circle cx="1292.5" cy="1361.49" r="1.6"/><circle cx="1305.4" cy="1365.03" r="1.6"/><circle cx="1318.3" cy="1368.57" r="1.6"/><circle cx="1331.2" cy="1372.11" r="1.6"/><circle cx="1344.1" cy="1375.65" r="1.6"/><circle cx="1357" cy="1379.19" r="1.6"/><circle cx="1369.9" cy="1382.73" r="1.6"/><circle cx="1382.8" cy="1386.27" r="1.6"/><circle cx="1395.7" cy="1389.81" r="1.6"/><circle cx="1408.6" cy="1393.35" r="1.6"/><circle cx="1421.5" cy="1396.9" r="1.6"/><circle cx="1434.4" cy="1400.44" r="1.6"/><circle cx="1447.3" cy="1403.98" r="1.6"/><circle cx="1460.2" cy="1407.52" r="1.6"/><circle cx="1473.1" cy="1411.06" r="1.6"/><circle cx="1486" cy="1414.6" r="1.6"/><circle cx="1498.9" cy="1418.14" r="1.6"/><circle cx="1511.8" cy="1421.68" r="1.6"/><circle cx="1524.7" cy="1425.22" r="1.6"/><circle cx="1537.6" cy="1428.77" r="1.6"/><circle cx="1550.5" cy="1432.31" r="1.6"/><circle cx="1563.4" cy="1435.85" r="1.6"/><circle cx="1576.3" cy="1439.39" r="1.6"/><circle cx="1589.2" cy="1442.93" r="1.6"/><circle cx="1602.1" cy="1446.47" r="1.6"/><circle cx="1615" cy="1450.01" r="1.6"/><circle cx="1627.9" cy="1453.55" r="1.6"/><circle cx="1640.8" cy="1457.09" r="1.6"/><circle cx="1653.7" cy="1460.63" r="1.6"/><circle cx="1666.6" cy="1464.18" r="1.6"/><circle cx="1679.5" cy="1467.72" r="1.6"/><circle cx="1692.4" cy="1471.26" r="1.6"/><circle cx="1705.3" cy="1474.8" r="1.6"/><circle cx="1718.2" cy="1478.34" r="1.6"/><circle cx="1731.1" cy="1481.88" r="1.6"/><circle cx="1744" cy="1485.42" r="1.6"/><circle cx="1756.9" cy="1488.96" r="1.6"/><circle cx="1769.8" cy="1492.5" r="1.6"/><circle cx="1782.7" cy="1496.05" r="1.6"/><circle cx="1795.6" cy="1499.59" r="1.6"/><circle cx="1808.5" cy="1503.13" r="1.6"/><circle cx="1821.4" cy="1506.67" r="1.6"/><circle cx="1834.3" cy="1510.21" r="1.6"/><circle cx="1847.2" cy="1513.75" r="1.6"/><circle cx="1860.1" cy="1517.29" r="1.6"/><circle cx="1873" cy="1520.83" r="1.6"/><circle cx="1885.9" cy="1524.37" r="1.6"/><circle cx="1898.8" cy="1527.91" r="1.6"/><circle cx="1911.7" cy="1531.46" r="1.6"/><circle cx="1924.6" cy="1535" r="1.6"/><circle cx="1937.5" cy="1538.54" r="1.6"/><circle cx="1950.4" cy="1542.08" r="1.6"/></g>
<g fill="#7030a0"><circle cx="1057.1" cy="1145.9" r="4.9"/><circle cx="1079.6" cy="1163.1" r="4.9"/><circle cx="1073.75" cy="1170.6" r="4.9"/><circle cx="997.5" cy="1179" r="4.9"/><circle cx="1207.5" cy="1188.75" r="4.9"/><circle cx="1172.9" cy="1198.1" r="4.9"/><circle cx="983.1" cy="1250.9" r="4.9"/><circle cx="1091.25" cy="1245.1" r="4.9"/><circle cx="1151.9" cy="1252.9" r="4.9"/><circle cx="1007.25" cy="1261" r="4.9"/><circle cx="1062" cy="1269.1" r="4.9"/><circle cx="1047.1" cy="1289.75" r="4.9"/><circle cx="1149" cy="1291" r="4.9"/><circle cx="1006" cy="1303.4" r="4.9"/><circle cx="1026.6" cy="1313.1" r="4.9"/><circle cx="1134" cy="1305.4" r="4.9"/><circle cx="1171.6" cy="1304.1" r="4.9"/><circle cx="1191.6" cy="1317.9" r="4.9"/><circle cx="1227.75" cy="1209.5" r="4.9"/><circle cx="1416.9" cy="1239.5" r="4.9"/><circle cx="1240.9" cy="1246.4" r="4.9"/><circle cx="1307.1" cy="1253.4" r="4.9"/><circle cx="1219.75" cy="1258.1" r="4.9"/><circle cx="1218.75" cy="1275.25" r="4.9"/><circle cx="1316.75" cy="1276.9" r="4.9"/><circle cx="1269.75" cy="1305.25" r="4.9"/><circle cx="1238.75" cy="1310.6" r="4.9"/><circle cx="1226.5" cy="1315.4" r="4.9"/><circle cx="1324.5" cy="1310.6" r="4.9"/><circle cx="1416" cy="1321.5" r="4.9"/><circle cx="1635.25" cy="1197.75" r="4.9"/><circle cx="1861.9" cy="1285" r="4.9"/><circle cx="1147.75" cy="1335.9" r="4.9"/><circle cx="1077.1" cy="1348.4" r="4.9"/><circle cx="1117.25" cy="1369.1" r="4.9"/><circle cx="1074.75" cy="1379.75" r="4.9"/><circle cx="1017.25" cy="1405.6" r="4.9"/><circle cx="1204.4" cy="1402.5" r="4.9"/><circle cx="1436.9" cy="1335" r="4.9"/><circle cx="1236.5" cy="1364.6" r="4.9"/><circle cx="1232.25" cy="1372.1" r="4.9"/><circle cx="1249.75" cy="1376.9" r="4.9"/><circle cx="1341.5" cy="1368.4" r="4.9"/><circle cx="1274" cy="1395.4" r="4.9"/><circle cx="1274.4" cy="1405.6" r="4.9"/><circle cx="1265.4" cy="1409.4" r="4.9"/><circle cx="1290.9" cy="1417.1" r="4.9"/><circle cx="1313.1" cy="1415.9" r="4.9"/><circle cx="1403.4" cy="1418.4" r="4.9"/><circle cx="1412.5" cy="1429.1" r="4.9"/><circle cx="1377.75" cy="1433.75" r="4.9"/><circle cx="1218.1" cy="1433.1" r="4.9"/><circle cx="1290" cy="1439.4" r="4.9"/><circle cx="1273.75" cy="1448.4" r="4.9"/><circle cx="1402.9" cy="1460" r="4.9"/><circle cx="1605.7" cy="1416.2" r="4.9"/><circle cx="1456" cy="1444" r="4.9"/><circle cx="1543" cy="1443.8" r="4.9"/><circle cx="1525.7" cy="1461.5" r="4.9"/><circle cx="1817.5" cy="1428" r="4.9"/><circle cx="1758.8" cy="1444.5" r="4.9"/><circle cx="1763.5" cy="1454" r="4.9"/><circle cx="1713.3" cy="1451.5" r="4.9"/><circle cx="1814" cy="1463" r="4.9"/><circle cx="1841.6" cy="1389.3" r="4.9"/><circle cx="1871.2" cy="1412" r="4.9"/><circle cx="1835.2" cy="1447.7" r="4.9"/><circle cx="1869.9" cy="1454.8" r="4.9"/><circle cx="1838.5" cy="1462.6" r="4.9"/><circle cx="1838" cy="1469.8" r="4.9"/><circle cx="1827.8" cy="1473.6" r="4.9"/><circle cx="1859.3" cy="1469" r="4.9"/><circle cx="1874.6" cy="1473.2" r="4.9"/><circle cx="1842.3" cy="1478.3" r="4.9"/><circle cx="1865.7" cy="1479.6" r="4.9"/><circle cx="1834.9" cy="1489.6" r="4.9"/><circle cx="1846.6" cy="1489" r="4.9"/><circle cx="1869" cy="1484.2" r="4.9"/><circle cx="1959" cy="1484.1" r="4.9"/></g>
<g fill="#ff0000"><circle cx="1358.5" cy="1260.6" r="4.9"/><circle cx="1396.6" cy="1323.1" r="4.9"/><circle cx="1534.6" cy="1302.9" r="4.9"/><circle cx="1517.9" cy="1326" r="4.9"/><circle cx="1442.25" cy="1332.5" r="4.9"/><circle cx="1539" cy="1337.5" r="4.9"/><circle cx="1528.1" cy="1340.25" r="4.9"/><circle cx="1452" cy="1343.1" r="4.9"/><circle cx="1661.25" cy="1358.1" r="4.9"/><circle cx="1708.5" cy="1246" r="4.9"/><circle cx="1436.25" cy="1352.5" r="4.9"/><circle cx="1379.6" cy="1419.6" r="4.9"/><circle cx="1432.9" cy="1462.5" r="4.9"/><circle cx="1379.6" cy="1474.4" r="4.9"/><circle cx="1505.7" cy="1369" r="4.9"/><circle cx="1470" cy="1382.5" r="4.9"/><circle cx="1448" cy="1392.5" r="4.9"/><circle cx="1450.5" cy="1395" r="4.9"/><circle cx="1563.7" cy="1397.5" r="4.9"/><circle cx="1541" cy="1402.8" r="4.9"/><circle cx="1636.2" cy="1404" r="4.9"/><circle cx="1480.5" cy="1413.8" r="4.9"/><circle cx="1498.3" cy="1422.8" r="4.9"/><circle cx="1499.8" cy="1431.2" r="4.9"/><circle cx="1511.3" cy="1430.3" r="4.9"/><circle cx="1549.5" cy="1432" r="4.9"/><circle cx="1471.2" cy="1441" r="4.9"/><circle cx="1632.2" cy="1444.5" r="4.9"/><circle cx="1632.2" cy="1452.5" r="4.9"/><circle cx="1552.5" cy="1460.5" r="4.9"/><circle cx="1476.5" cy="1464" r="4.9"/><circle cx="1468.3" cy="1467.5" r="4.9"/><circle cx="1632.2" cy="1471.5" r="4.9"/><circle cx="1558.5" cy="1478" r="4.9"/><circle cx="1567" cy="1480" r="4.9"/><circle cx="1661.7" cy="1371.5" r="4.9"/><circle cx="1825.5" cy="1392.8" r="4.9"/><circle cx="1679" cy="1425.7" r="4.9"/><circle cx="1665.7" cy="1442.2" r="4.9"/><circle cx="1652.8" cy="1455.5" r="4.9"/><circle cx="1658.5" cy="1464.5" r="4.9"/><circle cx="1693.3" cy="1464.3" r="4.9"/><circle cx="1696.8" cy="1472.5" r="4.9"/><circle cx="1854.2" cy="1375" r="4.9"/><circle cx="1852.2" cy="1464.7" r="4.9"/><circle cx="1878" cy="1479.6" r="4.9"/><circle cx="1318.8" cy="1487.8" r="4.9"/><circle cx="1455.7" cy="1484.5" r="4.9"/><circle cx="1451.7" cy="1493.2" r="4.9"/><circle cx="1476" cy="1513.8" r="4.9"/><circle cx="1567.4" cy="1484.1" r="4.9"/><circle cx="1574.4" cy="1488.9" r="4.9"/><circle cx="1645.5" cy="1502.8" r="4.9"/><circle cx="1613.7" cy="1518.7" r="4.9"/><circle cx="1609.1" cy="1525.1" r="4.9"/><circle cx="1556.4" cy="1526.2" r="4.9"/><circle cx="1639" cy="1548.3" r="4.9"/><circle cx="1706.3" cy="1485.7" r="4.9"/><circle cx="1676.6" cy="1485.1" r="4.9"/><circle cx="1677.5" cy="1489.6" r="4.9"/><circle cx="1654.4" cy="1514.2" r="4.9"/><circle cx="1687.7" cy="1509.1" r="4.9"/><circle cx="1749.1" cy="1494.7" r="4.9"/><circle cx="1750.7" cy="1507.9" r="4.9"/><circle cx="1791.7" cy="1507.3" r="4.9"/><circle cx="1801.9" cy="1518.4" r="4.9"/><circle cx="1823.2" cy="1525" r="4.9"/><circle cx="1840.6" cy="1522" r="4.9"/><circle cx="1850.2" cy="1506.4" r="4.9"/><circle cx="1864" cy="1511.8" r="4.9"/><circle cx="1862.2" cy="1523.2" r="4.9"/><circle cx="1864" cy="1526.2" r="4.9"/><circle cx="1826.2" cy="1537" r="4.9"/><circle cx="1831" cy="1536.4" r="4.9"/><circle cx="1848.4" cy="1540.6" r="4.9"/><circle cx="1874.7" cy="1523.2" r="4.9"/><circle cx="1892.7" cy="1534.3" r="4.9"/><circle cx="1624.8" cy="1573.2" r="4.9"/></g>
<g fill="#ffc000"><circle cx="1663.4" cy="1295.6" r="4.9"/><circle cx="1611.75" cy="1326.9" r="4.9"/><circle cx="1385" cy="1412.1" r="4.9"/><circle cx="1634" cy="1367.8" r="4.9"/><circle cx="1578" cy="1377.2" r="4.9"/><circle cx="1586" cy="1377.8" r="4.9"/><circle cx="1579.5" cy="1393.5" r="4.9"/><circle cx="1580.5" cy="1397.8" r="4.9"/><circle cx="1562.5" cy="1447" r="4.9"/><circle cx="1612.5" cy="1454.5" r="4.9"/><circle cx="1633" cy="1461" r="4.9"/><circle cx="1633.2" cy="1474" r="4.9"/><circle cx="1618" cy="1479" r="4.9"/><circle cx="1659.2" cy="1408.2" r="4.9"/><circle cx="1741.3" cy="1412.5" r="4.9"/><circle cx="1782.7" cy="1432" r="4.9"/><circle cx="1825" cy="1474" r="4.9"/><circle cx="1397.7" cy="1508" r="4.9"/><circle cx="1438.2" cy="1538.5" r="4.9"/><circle cx="1577.6" cy="1495.6" r="4.9"/><circle cx="1602.8" cy="1489.8" r="4.9"/><circle cx="1646.9" cy="1497.9" r="4.9"/><circle cx="1649.6" cy="1508.2" r="4.9"/><circle cx="1611.3" cy="1522.6" r="4.9"/><circle cx="1501.2" cy="1538.4" r="4.9"/><circle cx="1520.4" cy="1543.9" r="4.9"/><circle cx="1567.2" cy="1537.9" r="4.9"/><circle cx="1563" cy="1544.7" r="4.9"/><circle cx="1576" cy="1552.8" r="4.9"/><circle cx="1597.4" cy="1538.4" r="4.9"/><circle cx="1620.6" cy="1538.4" r="4.9"/><circle cx="1637.6" cy="1534.8" r="4.9"/><circle cx="1635.6" cy="1542.2" r="4.9"/><circle cx="1681.6" cy="1495" r="4.9"/><circle cx="1697" cy="1486.6" r="4.9"/><circle cx="1698.1" cy="1495.9" r="4.9"/><circle cx="1714.9" cy="1504.3" r="4.9"/><circle cx="1728.7" cy="1517.5" r="4.9"/><circle cx="1674.7" cy="1538.5" r="4.9"/><circle cx="1678.4" cy="1538.5" r="4.9"/><circle cx="1690.6" cy="1538.3" r="4.9"/><circle cx="1692.1" cy="1544.8" r="4.9"/><circle cx="1706.3" cy="1563.4" r="4.9"/><circle cx="1802.2" cy="1521.4" r="4.9"/><circle cx="1787.2" cy="1524.7" r="4.9"/><circle cx="1826.2" cy="1508.2" r="4.9"/><circle cx="1826.2" cy="1516.6" r="4.9"/><circle cx="1831" cy="1522.6" r="4.9"/><circle cx="1832.2" cy="1525.6" r="4.9"/><circle cx="1859.2" cy="1506.4" r="4.9"/><circle cx="1847.2" cy="1527.4" r="4.9"/><circle cx="1819" cy="1532.5" r="4.9"/><circle cx="1837.6" cy="1534" r="4.9"/><circle cx="1807.6" cy="1537.6" r="4.9"/><circle cx="1811.8" cy="1541.8" r="4.9"/><circle cx="1829.2" cy="1543.6" r="4.9"/><circle cx="1834.6" cy="1543.6" r="4.9"/><circle cx="1846.6" cy="1550.2" r="4.9"/><circle cx="1763.7" cy="1545.1" r="4.9"/><circle cx="1799.8" cy="1561.6" r="4.9"/><circle cx="1788.4" cy="1564.6" r="4.9"/><circle cx="1900.8" cy="1519.9" r="4.9"/><circle cx="1641" cy="1585.2" r="4.9"/><circle cx="1655.2" cy="1588.2" r="4.9"/><circle cx="1660.5" cy="1605.5" r="4.9"/><circle cx="1739.7" cy="1601.8" r="4.9"/><circle cx="1671.5" cy="1641.5" r="4.9"/><circle cx="1710.5" cy="1639.2" r="4.9"/><circle cx="1731.7" cy="1652.2" r="4.9"/><circle cx="1636" cy="1675.5" r="4.9"/><circle cx="1797.5" cy="1571" r="4.9"/><circle cx="1810.8" cy="1597" r="4.9"/></g>
<g fill="#3366ff"><circle cx="1557.75" cy="1314.6" r="4.9"/><circle cx="1619.5" cy="1384.8" r="4.9"/><circle cx="1641" cy="1428.5" r="4.9"/><circle cx="1601.5" cy="1435.7" r="4.9"/><circle cx="1698.3" cy="1377.2" r="4.9"/><circle cx="1762.5" cy="1381" r="4.9"/><circle cx="1767" cy="1395.2" r="4.9"/><circle cx="1652.5" cy="1408" r="4.9"/><circle cx="1803.5" cy="1406.8" r="4.9"/><circle cx="1716.5" cy="1431.3" r="4.9"/><circle cx="1824.8" cy="1425" r="4.9"/><circle cx="1739.3" cy="1437.8" r="4.9"/><circle cx="1736.8" cy="1443.8" r="4.9"/><circle cx="1746.5" cy="1445" r="4.9"/><circle cx="1758.8" cy="1449.5" r="4.9"/><circle cx="1759" cy="1454.5" r="4.9"/><circle cx="1673" cy="1444.7" r="4.9"/><circle cx="1723.5" cy="1448.3" r="4.9"/><circle cx="1661.2" cy="1458.5" r="4.9"/><circle cx="1665.7" cy="1464.5" r="4.9"/><circle cx="1709.2" cy="1459" r="4.9"/><circle cx="1753.3" cy="1461.8" r="4.9"/><circle cx="1803.5" cy="1464.5" r="4.9"/><circle cx="1806.5" cy="1467.8" r="4.9"/><circle cx="1820.5" cy="1469.8" r="4.9"/><circle cx="1713.5" cy="1476" r="4.9"/><circle cx="1779.5" cy="1475" r="4.9"/><circle cx="1795" cy="1475" r="4.9"/><circle cx="1773" cy="1478" r="4.9"/><circle cx="1864" cy="1383.7" r="4.9"/><circle cx="1863.5" cy="1455.8" r="4.9"/><circle cx="1634.9" cy="1509.1" r="4.9"/><circle cx="1645.5" cy="1522.6" r="4.9"/><circle cx="1711.7" cy="1482.4" r="4.9"/><circle cx="1654.7" cy="1487.7" r="4.9"/><circle cx="1724.3" cy="1494.7" r="4.9"/><circle cx="1743.7" cy="1502.8" r="4.9"/><circle cx="1721.7" cy="1507.7" r="4.9"/><circle cx="1709.6" cy="1510.6" r="4.9"/><circle cx="1713.3" cy="1515.4" r="4.9"/><circle cx="1736.3" cy="1520.8" r="4.9"/><circle cx="1744.4" cy="1520.8" r="4.9"/><circle cx="1674.7" cy="1529.8" r="4.9"/><circle cx="1699.4" cy="1545.1" r="4.9"/><circle cx="1733.2" cy="1538.5" r="4.9"/><circle cx="1688.5" cy="1557.1" r="4.9"/><circle cx="1768.6" cy="1484.5" r="4.9"/><circle cx="1779.7" cy="1484.5" r="4.9"/><circle cx="1826.2" cy="1486.3" r="4.9"/><circle cx="1840" cy="1493.2" r="4.9"/><circle cx="1847.8" cy="1493.2" r="4.9"/><circle cx="1856.2" cy="1493.8" r="4.9"/><circle cx="1868.8" cy="1502.2" r="4.9"/><circle cx="1797.7" cy="1499.2" r="4.9"/><circle cx="1769.8" cy="1508.2" r="4.9"/><circle cx="1778.8" cy="1514.2" r="4.9"/><circle cx="1836.7" cy="1511.2" r="4.9"/><circle cx="1859.5" cy="1507.9" r="4.9"/><circle cx="1851.4" cy="1513.6" r="4.9"/><circle cx="1851.4" cy="1518.4" r="4.9"/><circle cx="1855.6" cy="1531.6" r="4.9"/><circle cx="1869.4" cy="1516" r="4.9"/><circle cx="1842.4" cy="1539.7" r="4.9"/><circle cx="1868.8" cy="1538.2" r="4.9"/><circle cx="1859.5" cy="1546.6" r="4.9"/><circle cx="1860.7" cy="1555" r="4.9"/><circle cx="1780.3" cy="1552.3" r="4.9"/><circle cx="1767.7" cy="1564.6" r="4.9"/><circle cx="1874.4" cy="1483.3" r="4.9"/><circle cx="1876.5" cy="1492.3" r="4.9"/><circle cx="1882.2" cy="1495.9" r="4.9"/><circle cx="1884.6" cy="1519.3" r="4.9"/><circle cx="1900.8" cy="1524.1" r="4.9"/><circle cx="1872.6" cy="1530.4" r="4.9"/><circle cx="1884.3" cy="1534.9" r="4.9"/><circle cx="1936.2" cy="1525" r="4.9"/><circle cx="1947.3" cy="1533.1" r="4.9"/><circle cx="1882.8" cy="1545.4" r="4.9"/><circle cx="1675.5" cy="1616.5" r="4.9"/></g>
<text x="1831.5" y="1692.7" font-size="17" text-anchor="end" fill="#595959">-2</text>
<text x="1831.5" y="1617.5" font-size="17" text-anchor="end" fill="#595959">-1</text>
<text x="1831.5" y="1543.5" font-size="17" text-anchor="end" fill="#595959">0</text>
<text x="1831.5" y="1467.1" font-size="17" text-anchor="end" fill="#595959">1</text>
<text x="1831.5" y="1391.9" font-size="17" text-anchor="end" fill="#595959">2</text>
<text x="1831.5" y="1316.7" font-size="17" text-anchor="end" fill="#595959">3</text>
<text x="1831.5" y="1241.5" font-size="17" text-anchor="end" fill="#595959">4</text>
<text x="1831.5" y="1166.3" font-size="17" text-anchor="end" fill="#595959">5</text>
<text x="1029" y="1437.5" font-size="35" textLength="160" lengthAdjust="spacingAndGlyphs">R=-0.682</text>
<text x="1092.5" y="1790.5" font-size="30" textLength="695.5" lengthAdjust="spacingAndGlyphs">Difference in promoter DNA methylation (KO-WT)</text>
<text transform="translate(1975.5,1164.5) rotate(90)" font-size="30" textLength="520" lengthAdjust="spacingAndGlyphs">Log2(Fold change expression KO/WT)</text>
<rect x="1591" y="1011" width="222.3" height="159.3" fill="#fff" stroke="#1a1a1a" stroke-width="1.8"/>
<circle cx="1608.4" cy="1034.6" r="5.8" fill="#7030a0"/>
<text x="1628" y="1043.5" font-size="25" fill="#595959" textLength="174.5" lengthAdjust="spacingAndGlyphs"><tspan font-style="italic">Dnmt3a/b</tspan> DKO</text>
<circle cx="1608.4" cy="1072.5" r="5.8" fill="#ff0000"/>
<text x="1628" y="1081.5" font-size="25" fill="#595959" textLength="131.5" lengthAdjust="spacingAndGlyphs"><tspan font-style="italic">Dnmt3b</tspan> KO</text>
<circle cx="1608.4" cy="1111" r="5.8" fill="#ffc000"/>
<text x="1628" y="1119.5" font-size="25" fill="#595959" textLength="123.2" lengthAdjust="spacingAndGlyphs"><tspan font-style="italic">Dnmt3l</tspan> KO</text>
<circle cx="1608.4" cy="1149" r="5.8" fill="#3366ff"/>
<text x="1628" y="1157.5" font-size="25" fill="#595959" textLength="131.5" lengthAdjust="spacingAndGlyphs"><tspan font-style="italic">Dnmt3a</tspan> KO</text>
</svg>
</body></html>
